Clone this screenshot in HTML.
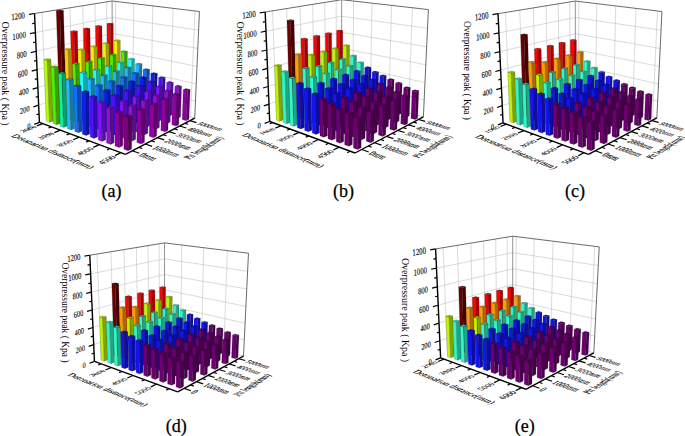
<!DOCTYPE html>
<html><head><meta charset="utf-8"><style>
html,body{margin:0;padding:0;background:#fff;}
svg{display:block;}
.n{font-family:"Liberation Serif",serif;fill:#000;}
.n3{font-family:"Liberation Serif",serif;fill:#000;stroke:#000;stroke-width:0.1px;}
</style></head><body>
<svg width="685" height="436" viewBox="0 0 685 436">
<rect width="685" height="436" fill="#fff"/>
<line x1="38.66" y1="105.16" x2="112.37" y2="80.11" stroke="#b4b4b4" stroke-width="0.5"/>
<line x1="112.37" y1="80.11" x2="195.48" y2="101.2" stroke="#b4b4b4" stroke-width="0.5"/>
<line x1="37.86" y1="87.56" x2="112.32" y2="64.83" stroke="#b4b4b4" stroke-width="0.5"/>
<line x1="112.32" y1="64.83" x2="196.24" y2="83.96" stroke="#b4b4b4" stroke-width="0.5"/>
<line x1="37.05" y1="69.61" x2="112.27" y2="49.28" stroke="#b4b4b4" stroke-width="0.5"/>
<line x1="112.27" y1="49.28" x2="197.01" y2="66.38" stroke="#b4b4b4" stroke-width="0.5"/>
<line x1="36.23" y1="51.29" x2="112.22" y2="33.47" stroke="#b4b4b4" stroke-width="0.5"/>
<line x1="112.22" y1="33.47" x2="197.8" y2="48.45" stroke="#b4b4b4" stroke-width="0.5"/>
<line x1="35.39" y1="32.6" x2="112.17" y2="17.37" stroke="#b4b4b4" stroke-width="0.5"/>
<line x1="112.17" y1="17.37" x2="198.61" y2="30.16" stroke="#b4b4b4" stroke-width="0.5"/>
<line x1="46.42" y1="119.79" x2="42.01" y2="12.31" stroke="#b4b4b4" stroke-width="0.5"/>
<line x1="46.42" y1="119.79" x2="132.23" y2="150.75" stroke="#e0e0e0" stroke-width="0.5"/>
<line x1="59.84" y1="114.78" x2="56.36" y2="9.99" stroke="#b4b4b4" stroke-width="0.5"/>
<line x1="59.84" y1="114.78" x2="145.15" y2="144" stroke="#e0e0e0" stroke-width="0.5"/>
<line x1="72.57" y1="110.02" x2="69.93" y2="7.8" stroke="#b4b4b4" stroke-width="0.5"/>
<line x1="72.57" y1="110.02" x2="157.31" y2="137.65" stroke="#e0e0e0" stroke-width="0.5"/>
<line x1="84.67" y1="105.5" x2="82.78" y2="5.73" stroke="#b4b4b4" stroke-width="0.5"/>
<line x1="84.67" y1="105.5" x2="168.77" y2="131.66" stroke="#e0e0e0" stroke-width="0.5"/>
<line x1="96.17" y1="101.2" x2="94.97" y2="3.76" stroke="#b4b4b4" stroke-width="0.5"/>
<line x1="96.17" y1="101.2" x2="179.59" y2="126.01" stroke="#e0e0e0" stroke-width="0.5"/>
<line x1="107.13" y1="97.11" x2="106.55" y2="1.89" stroke="#b4b4b4" stroke-width="0.5"/>
<line x1="107.13" y1="97.11" x2="189.82" y2="120.67" stroke="#e0e0e0" stroke-width="0.5"/>
<line x1="115.72" y1="96.06" x2="115.6" y2="1.41" stroke="#b4b4b4" stroke-width="0.5"/>
<line x1="42.81" y1="123.66" x2="115.72" y2="96.06" stroke="#e0e0e0" stroke-width="0.5"/>
<line x1="132.81" y1="100.83" x2="133.63" y2="3.58" stroke="#b4b4b4" stroke-width="0.5"/>
<line x1="60.38" y1="130.17" x2="132.81" y2="100.83" stroke="#e0e0e0" stroke-width="0.5"/>
<line x1="150.9" y1="105.87" x2="152.78" y2="5.88" stroke="#b4b4b4" stroke-width="0.5"/>
<line x1="79.16" y1="137.13" x2="150.9" y2="105.87" stroke="#e0e0e0" stroke-width="0.5"/>
<line x1="170.1" y1="111.23" x2="173.17" y2="8.34" stroke="#b4b4b4" stroke-width="0.5"/>
<line x1="99.3" y1="144.59" x2="170.1" y2="111.23" stroke="#e0e0e0" stroke-width="0.5"/>
<line x1="190.5" y1="116.92" x2="194.91" y2="10.96" stroke="#b4b4b4" stroke-width="0.5"/>
<line x1="120.94" y1="152.61" x2="190.5" y2="116.92" stroke="#e0e0e0" stroke-width="0.5"/>
<line x1="112.41" y1="95.13" x2="112.12" y2="0.99" stroke="#888" stroke-width="0.9"/>
<line x1="34.53" y1="13.51" x2="112.12" y2="0.99" stroke="#444" stroke-width="0.8"/>
<line x1="112.12" y1="0.99" x2="199.43" y2="11.5" stroke="#444" stroke-width="0.8"/>
<line x1="194.73" y1="118.11" x2="199.43" y2="11.5" stroke="#444" stroke-width="0.8"/>
<line x1="112.41" y1="95.13" x2="194.73" y2="118.11" stroke="#999" stroke-width="0.5"/>
<polygon points="107.42,98.13 110.65,99.05 110.34,24.1 106.98,23.57" fill="#ff0000" stroke="rgba(0,0,0,0.45)" stroke-width="0.35" stroke-linejoin="round"/>
<polygon points="110.65,99.05 113.46,97.98 113.28,23.48 110.34,24.1" fill="#ab0000" stroke="rgba(0,0,0,0.45)" stroke-width="0.35" stroke-linejoin="round"/>
<polygon points="106.98,23.57 110.34,24.1 113.28,23.48 109.92,22.95" fill="#cc0000" stroke="rgba(0,0,0,0.45)" stroke-width="0.35" stroke-linejoin="round"/>
<polygon points="114.13,100.05 117.43,101 117.42,40.99 114,40.35" fill="#f8f000" stroke="rgba(0,0,0,0.45)" stroke-width="0.35" stroke-linejoin="round"/>
<polygon points="117.43,101 120.24,99.9 120.32,40.25 117.42,40.99" fill="#a6a100" stroke="rgba(0,0,0,0.45)" stroke-width="0.35" stroke-linejoin="round"/>
<polygon points="114,40.35 117.42,40.99 120.32,40.25 116.91,39.62" fill="#c6c000" stroke="rgba(0,0,0,0.45)" stroke-width="0.35" stroke-linejoin="round"/>
<polygon points="120.99,102.02 124.37,102.98 124.56,52.08 121.08,51.37" fill="#50f000" stroke="rgba(0,0,0,0.45)" stroke-width="0.35" stroke-linejoin="round"/>
<polygon points="124.37,102.98 127.16,101.86 127.43,51.26 124.56,52.08" fill="#36a100" stroke="rgba(0,0,0,0.45)" stroke-width="0.35" stroke-linejoin="round"/>
<polygon points="121.08,51.37 124.56,52.08 127.43,51.26 123.96,50.57" fill="#40c000" stroke="rgba(0,0,0,0.45)" stroke-width="0.35" stroke-linejoin="round"/>
<polygon points="96.4,102.27 99.65,103.24 98.85,26.55 95.47,25.98" fill="#ff0000" stroke="rgba(0,0,0,0.45)" stroke-width="0.35" stroke-linejoin="round"/>
<polygon points="99.65,103.24 102.6,102.12 101.94,25.89 98.85,26.55" fill="#ab0000" stroke="rgba(0,0,0,0.45)" stroke-width="0.35" stroke-linejoin="round"/>
<polygon points="95.47,25.98 98.85,26.55 101.94,25.89 98.57,25.33" fill="#cc0000" stroke="rgba(0,0,0,0.45)" stroke-width="0.35" stroke-linejoin="round"/>
<polygon points="128.02,104.03 131.48,105.02 131.83,59.69 128.28,58.94" fill="#20ffff" stroke="rgba(0,0,0,0.45)" stroke-width="0.35" stroke-linejoin="round"/>
<polygon points="131.48,105.02 134.25,103.87 134.67,58.82 131.83,59.69" fill="#15abab" stroke="rgba(0,0,0,0.45)" stroke-width="0.35" stroke-linejoin="round"/>
<polygon points="128.28,58.94 131.83,59.69 134.67,58.82 131.13,58.07" fill="#1acccc" stroke="rgba(0,0,0,0.45)" stroke-width="0.35" stroke-linejoin="round"/>
<polygon points="103.15,104.29 106.47,105.28 106.07,43.87 102.64,43.2" fill="#f8f000" stroke="rgba(0,0,0,0.45)" stroke-width="0.35" stroke-linejoin="round"/>
<polygon points="106.47,105.28 109.42,104.13 109.12,43.1 106.07,43.87" fill="#a6a100" stroke="rgba(0,0,0,0.45)" stroke-width="0.35" stroke-linejoin="round"/>
<polygon points="102.64,43.2 106.07,43.87 109.12,43.1 105.69,42.44" fill="#c6c000" stroke="rgba(0,0,0,0.45)" stroke-width="0.35" stroke-linejoin="round"/>
<polygon points="135.21,106.09 138.75,107.1 139.25,64.69 135.62,63.9" fill="#20b8ff" stroke="rgba(0,0,0,0.45)" stroke-width="0.35" stroke-linejoin="round"/>
<polygon points="138.75,107.1 141.51,105.93 142.08,63.78 139.25,64.69" fill="#157bab" stroke="rgba(0,0,0,0.45)" stroke-width="0.35" stroke-linejoin="round"/>
<polygon points="135.62,63.9 139.25,64.69 142.08,63.78 138.46,63" fill="#1a93cc" stroke="rgba(0,0,0,0.45)" stroke-width="0.35" stroke-linejoin="round"/>
<polygon points="110.05,106.36 113.46,107.37 113.33,55.27 109.82,54.53" fill="#50f000" stroke="rgba(0,0,0,0.45)" stroke-width="0.35" stroke-linejoin="round"/>
<polygon points="113.46,107.37 116.39,106.19 116.35,54.41 113.33,55.27" fill="#36a100" stroke="rgba(0,0,0,0.45)" stroke-width="0.35" stroke-linejoin="round"/>
<polygon points="109.82,54.53 113.33,55.27 116.35,54.41 112.85,53.68" fill="#40c000" stroke="rgba(0,0,0,0.45)" stroke-width="0.35" stroke-linejoin="round"/>
<polygon points="84.83,106.63 88.09,107.65 86.76,29.12 83.36,28.52" fill="#ff0000" stroke="rgba(0,0,0,0.45)" stroke-width="0.35" stroke-linejoin="round"/>
<polygon points="88.09,107.65 91.2,106.46 90.01,28.42 86.76,29.12" fill="#ab0000" stroke="rgba(0,0,0,0.45)" stroke-width="0.35" stroke-linejoin="round"/>
<polygon points="83.36,28.52 86.76,29.12 90.01,28.42 86.62,27.84" fill="#cc0000" stroke="rgba(0,0,0,0.45)" stroke-width="0.35" stroke-linejoin="round"/>
<polygon points="142.57,108.2 146.2,109.24 146.83,70.22 143.12,69.39" fill="#1070ff" stroke="rgba(0,0,0,0.45)" stroke-width="0.35" stroke-linejoin="round"/>
<polygon points="146.2,109.24 148.94,108.03 149.63,69.26 146.83,70.22" fill="#0b4bab" stroke="rgba(0,0,0,0.45)" stroke-width="0.35" stroke-linejoin="round"/>
<polygon points="143.12,69.39 146.83,70.22 149.63,69.26 145.93,68.44" fill="#0d5acc" stroke="rgba(0,0,0,0.45)" stroke-width="0.35" stroke-linejoin="round"/>
<polygon points="117.13,108.47 120.61,109.52 120.68,63.11 117.11,62.32" fill="#20ffff" stroke="rgba(0,0,0,0.45)" stroke-width="0.35" stroke-linejoin="round"/>
<polygon points="120.61,109.52 123.53,108.31 123.68,62.19 120.68,63.11" fill="#15abab" stroke="rgba(0,0,0,0.45)" stroke-width="0.35" stroke-linejoin="round"/>
<polygon points="117.11,62.32 120.68,63.11 123.68,62.19 120.11,61.41" fill="#1acccc" stroke="rgba(0,0,0,0.45)" stroke-width="0.35" stroke-linejoin="round"/>
<polygon points="91.61,108.75 94.95,109.79 94.13,46.91 90.67,46.21" fill="#f8f000" stroke="rgba(0,0,0,0.45)" stroke-width="0.35" stroke-linejoin="round"/>
<polygon points="94.95,109.79 98.05,108.58 97.34,46.09 94.13,46.91" fill="#a6a100" stroke="rgba(0,0,0,0.45)" stroke-width="0.35" stroke-linejoin="round"/>
<polygon points="90.67,46.21 94.13,46.91 97.34,46.09 93.89,45.4" fill="#c6c000" stroke="rgba(0,0,0,0.45)" stroke-width="0.35" stroke-linejoin="round"/>
<polygon points="150.11,110.36 153.83,111.42 154.59,74.34 150.79,73.47" fill="#1020f0" stroke="rgba(0,0,0,0.45)" stroke-width="0.35" stroke-linejoin="round"/>
<polygon points="153.83,111.42 156.55,110.19 157.37,73.34 154.59,74.34" fill="#0b15a1" stroke="rgba(0,0,0,0.45)" stroke-width="0.35" stroke-linejoin="round"/>
<polygon points="150.79,73.47 154.59,74.34 157.37,73.34 153.58,72.48" fill="#0d1ac0" stroke="rgba(0,0,0,0.45)" stroke-width="0.35" stroke-linejoin="round"/>
<polygon points="124.37,110.64 127.94,111.71 128.19,68.29 124.53,67.45" fill="#20b8ff" stroke="rgba(0,0,0,0.45)" stroke-width="0.35" stroke-linejoin="round"/>
<polygon points="127.94,111.71 130.85,110.47 131.17,67.32 128.19,68.29" fill="#157bab" stroke="rgba(0,0,0,0.45)" stroke-width="0.35" stroke-linejoin="round"/>
<polygon points="124.53,67.45 128.19,68.29 131.17,67.32 127.52,66.5" fill="#1a93cc" stroke="rgba(0,0,0,0.45)" stroke-width="0.35" stroke-linejoin="round"/>
<polygon points="72.66,111.2 75.93,112.28 74.01,31.83 70.59,31.2" fill="#ff0000" stroke="rgba(0,0,0,0.45)" stroke-width="0.35" stroke-linejoin="round"/>
<polygon points="75.93,112.28 79.2,111.03 77.44,31.1 74.01,31.83" fill="#ab0000" stroke="rgba(0,0,0,0.45)" stroke-width="0.35" stroke-linejoin="round"/>
<polygon points="70.59,31.2 74.01,31.83 77.44,31.1 74.03,30.48" fill="#cc0000" stroke="rgba(0,0,0,0.45)" stroke-width="0.35" stroke-linejoin="round"/>
<polygon points="98.55,110.92 101.98,111.99 101.49,58.64 97.97,57.86" fill="#50f000" stroke="rgba(0,0,0,0.45)" stroke-width="0.35" stroke-linejoin="round"/>
<polygon points="101.98,111.99 105.06,110.75 104.68,57.73 101.49,58.64" fill="#36a100" stroke="rgba(0,0,0,0.45)" stroke-width="0.35" stroke-linejoin="round"/>
<polygon points="97.97,57.86 101.49,58.64 104.68,57.73 101.16,56.96" fill="#40c000" stroke="rgba(0,0,0,0.45)" stroke-width="0.35" stroke-linejoin="round"/>
<polygon points="157.84,112.57 161.64,113.66 162.52,78.47 158.64,77.57" fill="#4a10ff" stroke="rgba(0,0,0,0.45)" stroke-width="0.35" stroke-linejoin="round"/>
<polygon points="161.64,113.66 164.35,112.4 165.28,77.42 162.52,78.47" fill="#320bab" stroke="rgba(0,0,0,0.45)" stroke-width="0.35" stroke-linejoin="round"/>
<polygon points="158.64,77.57 162.52,78.47 165.28,77.42 161.4,76.54" fill="#3b0dcc" stroke="rgba(0,0,0,0.45)" stroke-width="0.35" stroke-linejoin="round"/>
<polygon points="131.79,112.86 135.45,113.95 135.85,74 132.11,73.12" fill="#1070ff" stroke="rgba(0,0,0,0.45)" stroke-width="0.35" stroke-linejoin="round"/>
<polygon points="135.45,113.95 138.34,112.69 138.81,72.98 135.85,74" fill="#0b4bab" stroke="rgba(0,0,0,0.45)" stroke-width="0.35" stroke-linejoin="round"/>
<polygon points="132.11,73.12 135.85,74 138.81,72.98 135.07,72.12" fill="#0d5acc" stroke="rgba(0,0,0,0.45)" stroke-width="0.35" stroke-linejoin="round"/>
<polygon points="79.47,113.44 82.82,114.54 81.53,50.12 78.06,49.37" fill="#f8f000" stroke="rgba(0,0,0,0.45)" stroke-width="0.35" stroke-linejoin="round"/>
<polygon points="82.82,114.54 86.09,113.26 84.92,49.26 81.53,50.12" fill="#a6a100" stroke="rgba(0,0,0,0.45)" stroke-width="0.35" stroke-linejoin="round"/>
<polygon points="78.06,49.37 81.53,50.12 84.92,49.26 81.46,48.52" fill="#c6c000" stroke="rgba(0,0,0,0.45)" stroke-width="0.35" stroke-linejoin="round"/>
<polygon points="105.67,113.15 109.18,114.25 108.94,66.72 105.34,65.88" fill="#20ffff" stroke="rgba(0,0,0,0.45)" stroke-width="0.35" stroke-linejoin="round"/>
<polygon points="109.18,114.25 112.25,112.97 112.1,65.75 108.94,66.72" fill="#15abab" stroke="rgba(0,0,0,0.45)" stroke-width="0.35" stroke-linejoin="round"/>
<polygon points="105.34,65.88 108.94,66.72 112.1,65.75 108.51,64.93" fill="#1acccc" stroke="rgba(0,0,0,0.45)" stroke-width="0.35" stroke-linejoin="round"/>
<polygon points="165.75,114.84 169.65,115.96 170.62,83.38 166.64,82.44" fill="#8010ff" stroke="rgba(0,0,0,0.45)" stroke-width="0.35" stroke-linejoin="round"/>
<polygon points="169.65,115.96 172.34,114.66 173.35,82.29 170.62,83.38" fill="#560bab" stroke="rgba(0,0,0,0.45)" stroke-width="0.35" stroke-linejoin="round"/>
<polygon points="166.64,82.44 170.62,83.38 173.35,82.29 169.38,81.36" fill="#660dcc" stroke="rgba(0,0,0,0.45)" stroke-width="0.35" stroke-linejoin="round"/>
<polygon points="139.4,115.14 143.15,116.26 143.7,78.27 139.86,77.36" fill="#1020f0" stroke="rgba(0,0,0,0.45)" stroke-width="0.35" stroke-linejoin="round"/>
<polygon points="143.15,116.26 146.02,114.96 146.63,77.21 143.7,78.27" fill="#0b15a1" stroke="rgba(0,0,0,0.45)" stroke-width="0.35" stroke-linejoin="round"/>
<polygon points="139.86,77.36 143.7,78.27 146.63,77.21 142.81,76.31" fill="#0d1ac0" stroke="rgba(0,0,0,0.45)" stroke-width="0.35" stroke-linejoin="round"/>
<polygon points="59.84,116.02 63.13,117.16 59.8,11.09 56.34,10.56" fill="#6a0000" stroke="rgba(0,0,0,0.45)" stroke-width="0.35" stroke-linejoin="round"/>
<polygon points="63.13,117.16 66.57,115.84 63.48,10.48 59.8,11.09" fill="#470000" stroke="rgba(0,0,0,0.45)" stroke-width="0.35" stroke-linejoin="round"/>
<polygon points="56.34,10.56 59.8,11.09 63.48,10.48 60.02,9.97" fill="#550000" stroke="rgba(0,0,0,0.45)" stroke-width="0.35" stroke-linejoin="round"/>
<polygon points="112.96,115.43 116.56,116.56 116.52,72.07 112.84,71.2" fill="#20b8ff" stroke="rgba(0,0,0,0.45)" stroke-width="0.35" stroke-linejoin="round"/>
<polygon points="116.56,116.56 119.62,115.25 119.67,71.05 116.52,72.07" fill="#157bab" stroke="rgba(0,0,0,0.45)" stroke-width="0.35" stroke-linejoin="round"/>
<polygon points="112.84,71.2 116.52,72.07 119.67,71.05 115.99,70.19" fill="#1a93cc" stroke="rgba(0,0,0,0.45)" stroke-width="0.35" stroke-linejoin="round"/>
<polygon points="86.44,115.73 89.88,116.86 89.01,62.19 85.47,61.37" fill="#50f000" stroke="rgba(0,0,0,0.45)" stroke-width="0.35" stroke-linejoin="round"/>
<polygon points="89.88,116.86 93.14,115.55 92.37,61.23 89.01,62.19" fill="#36a100" stroke="rgba(0,0,0,0.45)" stroke-width="0.35" stroke-linejoin="round"/>
<polygon points="85.47,61.37 89.01,62.19 92.37,61.23 88.83,60.42" fill="#40c000" stroke="rgba(0,0,0,0.45)" stroke-width="0.35" stroke-linejoin="round"/>
<polygon points="173.87,117.17 177.87,118.31 178.94,87.18 174.86,86.21" fill="#9010d0" stroke="rgba(0,0,0,0.45)" stroke-width="0.35" stroke-linejoin="round"/>
<polygon points="177.87,118.31 180.53,116.98 181.64,86.05 178.94,87.18" fill="#600b8b" stroke="rgba(0,0,0,0.45)" stroke-width="0.35" stroke-linejoin="round"/>
<polygon points="174.86,86.21 178.94,87.18 181.64,86.05 177.57,85.09" fill="#730da6" stroke="rgba(0,0,0,0.45)" stroke-width="0.35" stroke-linejoin="round"/>
<polygon points="147.19,117.47 151.04,118.62 151.73,82.56 147.8,81.61" fill="#4a10ff" stroke="rgba(0,0,0,0.45)" stroke-width="0.35" stroke-linejoin="round"/>
<polygon points="151.04,118.62 153.89,117.28 154.63,81.46 151.73,82.56" fill="#320bab" stroke="rgba(0,0,0,0.45)" stroke-width="0.35" stroke-linejoin="round"/>
<polygon points="147.8,81.61 151.73,82.56 154.63,81.46 150.72,80.52" fill="#3b0dcc" stroke="rgba(0,0,0,0.45)" stroke-width="0.35" stroke-linejoin="round"/>
<polygon points="182.19,119.55 186.29,120.73 187.48,90.55 183.3,89.54" fill="#9000a0" stroke="rgba(0,0,0,0.45)" stroke-width="0.35" stroke-linejoin="round"/>
<polygon points="186.29,120.73 188.93,119.36 190.15,89.38 187.48,90.55" fill="#60006b" stroke="rgba(0,0,0,0.45)" stroke-width="0.35" stroke-linejoin="round"/>
<polygon points="183.3,89.54 187.48,90.55 190.15,89.38 185.98,88.39" fill="#730080" stroke="rgba(0,0,0,0.45)" stroke-width="0.35" stroke-linejoin="round"/>
<polygon points="66.67,118.38 70.04,119.54 68.13,49.87 64.64,49.1" fill="#ffcc00" stroke="rgba(0,0,0,0.45)" stroke-width="0.35" stroke-linejoin="round"/>
<polygon points="70.04,119.54 73.48,118.19 71.72,48.98 68.13,49.87" fill="#ab8900" stroke="rgba(0,0,0,0.45)" stroke-width="0.35" stroke-linejoin="round"/>
<polygon points="64.64,49.1 68.13,49.87 71.72,48.98 68.23,48.23" fill="#cca300" stroke="rgba(0,0,0,0.45)" stroke-width="0.35" stroke-linejoin="round"/>
<polygon points="120.44,117.77 124.12,118.92 124.27,77.98 120.5,77.06" fill="#1070ff" stroke="rgba(0,0,0,0.45)" stroke-width="0.35" stroke-linejoin="round"/>
<polygon points="124.12,118.92 127.17,117.59 127.39,76.91 124.27,77.98" fill="#0b4bab" stroke="rgba(0,0,0,0.45)" stroke-width="0.35" stroke-linejoin="round"/>
<polygon points="120.5,77.06 124.27,77.98 127.39,76.91 123.63,76" fill="#0d5acc" stroke="rgba(0,0,0,0.45)" stroke-width="0.35" stroke-linejoin="round"/>
<polygon points="93.6,118.07 97.12,119.23 96.55,70.53 92.92,69.65" fill="#20ffff" stroke="rgba(0,0,0,0.45)" stroke-width="0.35" stroke-linejoin="round"/>
<polygon points="97.12,119.23 100.37,117.89 99.88,69.5 96.55,70.53" fill="#15abab" stroke="rgba(0,0,0,0.45)" stroke-width="0.35" stroke-linejoin="round"/>
<polygon points="92.92,69.65 96.55,70.53 99.88,69.5 96.27,68.63" fill="#1acccc" stroke="rgba(0,0,0,0.45)" stroke-width="0.35" stroke-linejoin="round"/>
<polygon points="155.19,119.86 159.13,121.04 159.93,87.65 155.9,86.66" fill="#8010ff" stroke="rgba(0,0,0,0.45)" stroke-width="0.35" stroke-linejoin="round"/>
<polygon points="159.13,121.04 161.97,119.67 162.81,86.5 159.93,87.65" fill="#560bab" stroke="rgba(0,0,0,0.45)" stroke-width="0.35" stroke-linejoin="round"/>
<polygon points="155.9,86.66 159.93,87.65 162.81,86.5 158.79,85.52" fill="#660dcc" stroke="rgba(0,0,0,0.45)" stroke-width="0.35" stroke-linejoin="round"/>
<polygon points="46.33,121.11 49.62,122.3 47.19,60.24 43.8,59.41" fill="#b4ff00" stroke="rgba(0,0,0,0.45)" stroke-width="0.35" stroke-linejoin="round"/>
<polygon points="49.62,122.3 53.26,120.92 50.97,59.27 47.19,60.24" fill="#79ab00" stroke="rgba(0,0,0,0.45)" stroke-width="0.35" stroke-linejoin="round"/>
<polygon points="43.8,59.41 47.19,60.24 50.97,59.27 47.58,58.44" fill="#90cc00" stroke="rgba(0,0,0,0.45)" stroke-width="0.35" stroke-linejoin="round"/>
<polygon points="128.11,120.17 131.89,121.35 132.2,82.42 128.33,81.46" fill="#1020f0" stroke="rgba(0,0,0,0.45)" stroke-width="0.35" stroke-linejoin="round"/>
<polygon points="131.89,121.35 134.92,119.98 135.3,81.31 132.2,82.42" fill="#0b15a1" stroke="rgba(0,0,0,0.45)" stroke-width="0.35" stroke-linejoin="round"/>
<polygon points="128.33,81.46 132.2,82.42 135.3,81.31 131.44,80.36" fill="#0d1ac0" stroke="rgba(0,0,0,0.45)" stroke-width="0.35" stroke-linejoin="round"/>
<polygon points="73.68,120.79 77.13,121.98 75.78,64.3 72.22,63.44" fill="#50f000" stroke="rgba(0,0,0,0.45)" stroke-width="0.35" stroke-linejoin="round"/>
<polygon points="77.13,121.98 80.56,120.6 79.34,63.31 75.78,64.3" fill="#36a100" stroke="rgba(0,0,0,0.45)" stroke-width="0.35" stroke-linejoin="round"/>
<polygon points="72.22,63.44 75.78,64.3 79.34,63.31 75.78,62.46" fill="#40c000" stroke="rgba(0,0,0,0.45)" stroke-width="0.35" stroke-linejoin="round"/>
<polygon points="100.93,120.48 104.55,121.67 104.2,76.07 100.49,75.15" fill="#20b8ff" stroke="rgba(0,0,0,0.45)" stroke-width="0.35" stroke-linejoin="round"/>
<polygon points="104.55,121.67 107.78,120.29 107.52,75 104.2,76.07" fill="#157bab" stroke="rgba(0,0,0,0.45)" stroke-width="0.35" stroke-linejoin="round"/>
<polygon points="100.49,75.15 104.2,76.07 107.52,75 103.82,74.08" fill="#1a93cc" stroke="rgba(0,0,0,0.45)" stroke-width="0.35" stroke-linejoin="round"/>
<polygon points="163.39,122.31 167.44,123.52 168.35,91.61 164.22,90.58" fill="#9010d0" stroke="rgba(0,0,0,0.45)" stroke-width="0.35" stroke-linejoin="round"/>
<polygon points="167.44,123.52 170.25,122.12 171.2,90.42 168.35,91.61" fill="#600b8b" stroke="rgba(0,0,0,0.45)" stroke-width="0.35" stroke-linejoin="round"/>
<polygon points="164.22,90.58 168.35,91.61 171.2,90.42 167.09,89.4" fill="#730da6" stroke="rgba(0,0,0,0.45)" stroke-width="0.35" stroke-linejoin="round"/>
<polygon points="53.17,123.59 56.55,124.82 54.53,67.74 51.06,66.85" fill="#50f000" stroke="rgba(0,0,0,0.45)" stroke-width="0.35" stroke-linejoin="round"/>
<polygon points="56.55,124.82 60.18,123.4 58.3,66.7 54.53,67.74" fill="#36a100" stroke="rgba(0,0,0,0.45)" stroke-width="0.35" stroke-linejoin="round"/>
<polygon points="51.06,66.85 54.53,67.74 58.3,66.7 54.83,65.82" fill="#40c000" stroke="rgba(0,0,0,0.45)" stroke-width="0.35" stroke-linejoin="round"/>
<polygon points="135.97,122.63 139.85,123.85 140.32,86.88 136.35,85.88" fill="#4a10ff" stroke="rgba(0,0,0,0.45)" stroke-width="0.35" stroke-linejoin="round"/>
<polygon points="139.85,123.85 142.86,122.44 143.39,85.72 140.32,86.88" fill="#320bab" stroke="rgba(0,0,0,0.45)" stroke-width="0.35" stroke-linejoin="round"/>
<polygon points="136.35,85.88 140.32,86.88 143.39,85.72 139.44,84.73" fill="#3b0dcc" stroke="rgba(0,0,0,0.45)" stroke-width="0.35" stroke-linejoin="round"/>
<polygon points="80.86,123.27 84.41,124.49 83.42,73.37 79.78,72.44" fill="#20ffff" stroke="rgba(0,0,0,0.45)" stroke-width="0.35" stroke-linejoin="round"/>
<polygon points="84.41,124.49 87.83,123.08 86.95,72.29 83.42,73.37" fill="#15abab" stroke="rgba(0,0,0,0.45)" stroke-width="0.35" stroke-linejoin="round"/>
<polygon points="79.78,72.44 83.42,73.37 86.95,72.29 83.32,71.38" fill="#1acccc" stroke="rgba(0,0,0,0.45)" stroke-width="0.35" stroke-linejoin="round"/>
<polygon points="108.46,122.95 112.17,124.17 112.04,82.2 108.23,81.22" fill="#1070ff" stroke="rgba(0,0,0,0.45)" stroke-width="0.35" stroke-linejoin="round"/>
<polygon points="112.17,124.17 115.39,122.76 115.33,81.06 112.04,82.2" fill="#0b4bab" stroke="rgba(0,0,0,0.45)" stroke-width="0.35" stroke-linejoin="round"/>
<polygon points="108.23,81.22 112.04,82.2 115.33,81.06 111.54,80.1" fill="#0d5acc" stroke="rgba(0,0,0,0.45)" stroke-width="0.35" stroke-linejoin="round"/>
<polygon points="171.81,124.83 175.96,126.07 177,95.13 172.76,94.07" fill="#9000a0" stroke="rgba(0,0,0,0.45)" stroke-width="0.35" stroke-linejoin="round"/>
<polygon points="175.96,126.07 178.74,124.63 179.82,93.9 177,95.13" fill="#60006b" stroke="rgba(0,0,0,0.45)" stroke-width="0.35" stroke-linejoin="round"/>
<polygon points="172.76,94.07 177,95.13 179.82,93.9 175.6,92.85" fill="#730080" stroke="rgba(0,0,0,0.45)" stroke-width="0.35" stroke-linejoin="round"/>
<polygon points="144.04,125.16 148.02,126.4 148.62,92.17 144.55,91.12" fill="#8010ff" stroke="rgba(0,0,0,0.45)" stroke-width="0.35" stroke-linejoin="round"/>
<polygon points="148.02,126.4 151.02,124.96 151.67,90.95 148.62,92.17" fill="#560bab" stroke="rgba(0,0,0,0.45)" stroke-width="0.35" stroke-linejoin="round"/>
<polygon points="144.55,91.12 148.62,92.17 151.67,90.95 147.61,89.92" fill="#660dcc" stroke="rgba(0,0,0,0.45)" stroke-width="0.35" stroke-linejoin="round"/>
<polygon points="60.19,126.14 63.66,127.4 61.99,74 58.43,73.06" fill="#10f0a0" stroke="rgba(0,0,0,0.45)" stroke-width="0.35" stroke-linejoin="round"/>
<polygon points="63.66,127.4 67.29,125.94 65.74,72.9 61.99,74" fill="#0ba16b" stroke="rgba(0,0,0,0.45)" stroke-width="0.35" stroke-linejoin="round"/>
<polygon points="58.43,73.06 61.99,74 65.74,72.9 62.19,71.97" fill="#0dc080" stroke="rgba(0,0,0,0.45)" stroke-width="0.35" stroke-linejoin="round"/>
<polygon points="116.18,125.48 119.99,126.74 120.04,86.81 116.15,85.79" fill="#1020f0" stroke="rgba(0,0,0,0.45)" stroke-width="0.35" stroke-linejoin="round"/>
<polygon points="119.99,126.74 123.2,125.29 123.32,85.63 120.04,86.81" fill="#0b15a1" stroke="rgba(0,0,0,0.45)" stroke-width="0.35" stroke-linejoin="round"/>
<polygon points="116.15,85.79 120.04,86.81 123.32,85.63 119.43,84.63" fill="#0d1ac0" stroke="rgba(0,0,0,0.45)" stroke-width="0.35" stroke-linejoin="round"/>
<polygon points="88.23,125.81 91.87,127.07 91.16,79.57 87.43,78.59" fill="#20b8ff" stroke="rgba(0,0,0,0.45)" stroke-width="0.35" stroke-linejoin="round"/>
<polygon points="91.87,127.07 95.29,125.61 94.68,78.43 91.16,79.57" fill="#157bab" stroke="rgba(0,0,0,0.45)" stroke-width="0.35" stroke-linejoin="round"/>
<polygon points="87.43,78.59 91.16,79.57 94.68,78.43 90.95,77.47" fill="#1a93cc" stroke="rgba(0,0,0,0.45)" stroke-width="0.35" stroke-linejoin="round"/>
<polygon points="152.33,127.75 156.42,129.03 157.14,96.3 152.97,95.21" fill="#9010d0" stroke="rgba(0,0,0,0.45)" stroke-width="0.35" stroke-linejoin="round"/>
<polygon points="156.42,129.03 159.39,127.55 160.16,95.04 157.14,96.3" fill="#600b8b" stroke="rgba(0,0,0,0.45)" stroke-width="0.35" stroke-linejoin="round"/>
<polygon points="152.97,95.21 157.14,96.3 160.16,95.04 156,93.96" fill="#730da6" stroke="rgba(0,0,0,0.45)" stroke-width="0.35" stroke-linejoin="round"/>
<polygon points="67.4,128.76 70.96,130.06 69.61,80.31 65.96,79.31" fill="#20b8ff" stroke="rgba(0,0,0,0.45)" stroke-width="0.35" stroke-linejoin="round"/>
<polygon points="70.96,130.06 74.58,128.56 73.35,79.15 69.61,80.31" fill="#157bab" stroke="rgba(0,0,0,0.45)" stroke-width="0.35" stroke-linejoin="round"/>
<polygon points="65.96,79.31 69.61,80.31 73.35,79.15 69.7,78.17" fill="#1a93cc" stroke="rgba(0,0,0,0.45)" stroke-width="0.35" stroke-linejoin="round"/>
<polygon points="124.11,128.09 128.03,129.37 128.25,91.45 124.25,90.39" fill="#4a10ff" stroke="rgba(0,0,0,0.45)" stroke-width="0.35" stroke-linejoin="round"/>
<polygon points="128.03,129.37 131.21,127.88 131.5,90.22 128.25,91.45" fill="#320bab" stroke="rgba(0,0,0,0.45)" stroke-width="0.35" stroke-linejoin="round"/>
<polygon points="124.25,90.39 128.25,91.45 131.5,90.22 127.51,89.17" fill="#3b0dcc" stroke="rgba(0,0,0,0.45)" stroke-width="0.35" stroke-linejoin="round"/>
<polygon points="95.8,128.42 99.54,129.71 99.08,86.28 95.26,85.25" fill="#1070ff" stroke="rgba(0,0,0,0.45)" stroke-width="0.35" stroke-linejoin="round"/>
<polygon points="99.54,129.71 102.95,128.22 102.57,85.08 99.08,86.28" fill="#0b4bab" stroke="rgba(0,0,0,0.45)" stroke-width="0.35" stroke-linejoin="round"/>
<polygon points="95.26,85.25 99.08,86.28 102.57,85.08 98.75,84.07" fill="#0d5acc" stroke="rgba(0,0,0,0.45)" stroke-width="0.35" stroke-linejoin="round"/>
<polygon points="160.83,130.41 165.03,131.73 165.9,99.99 161.62,98.86" fill="#9000a0" stroke="rgba(0,0,0,0.45)" stroke-width="0.35" stroke-linejoin="round"/>
<polygon points="165.03,131.73 167.98,130.2 168.89,98.68 165.9,99.99" fill="#60006b" stroke="rgba(0,0,0,0.45)" stroke-width="0.35" stroke-linejoin="round"/>
<polygon points="161.62,98.86 165.9,99.99 168.89,98.68 164.62,97.57" fill="#730080" stroke="rgba(0,0,0,0.45)" stroke-width="0.35" stroke-linejoin="round"/>
<polygon points="132.25,130.76 136.27,132.08 136.65,96.95 132.54,95.84" fill="#8010ff" stroke="rgba(0,0,0,0.45)" stroke-width="0.35" stroke-linejoin="round"/>
<polygon points="136.27,132.08 139.44,130.55 139.88,95.66 136.65,96.95" fill="#560bab" stroke="rgba(0,0,0,0.45)" stroke-width="0.35" stroke-linejoin="round"/>
<polygon points="132.54,95.84 136.65,96.95 139.88,95.66 135.78,94.57" fill="#660dcc" stroke="rgba(0,0,0,0.45)" stroke-width="0.35" stroke-linejoin="round"/>
<polygon points="74.81,131.45 78.46,132.78 77.42,86.86 73.67,85.81" fill="#1070ff" stroke="rgba(0,0,0,0.45)" stroke-width="0.35" stroke-linejoin="round"/>
<polygon points="78.46,132.78 82.08,131.24 81.13,85.64 77.42,86.86" fill="#0b4bab" stroke="rgba(0,0,0,0.45)" stroke-width="0.35" stroke-linejoin="round"/>
<polygon points="73.67,85.81 77.42,86.86 81.13,85.64 77.39,84.6" fill="#0d5acc" stroke="rgba(0,0,0,0.45)" stroke-width="0.35" stroke-linejoin="round"/>
<polygon points="103.58,131.1 107.42,132.43 107.17,91.28 103.24,90.2" fill="#1020f0" stroke="rgba(0,0,0,0.45)" stroke-width="0.35" stroke-linejoin="round"/>
<polygon points="107.42,132.43 110.81,130.89 110.64,90.02 107.17,91.28" fill="#0b15a1" stroke="rgba(0,0,0,0.45)" stroke-width="0.35" stroke-linejoin="round"/>
<polygon points="103.24,90.2 107.17,91.28 110.64,90.02 106.72,88.96" fill="#0d1ac0" stroke="rgba(0,0,0,0.45)" stroke-width="0.35" stroke-linejoin="round"/>
<polygon points="140.62,133.5 144.75,134.86 145.27,101.27 141.06,100.11" fill="#9010d0" stroke="rgba(0,0,0,0.45)" stroke-width="0.35" stroke-linejoin="round"/>
<polygon points="144.75,134.86 147.89,133.29 148.47,99.93 145.27,101.27" fill="#600b8b" stroke="rgba(0,0,0,0.45)" stroke-width="0.35" stroke-linejoin="round"/>
<polygon points="141.06,100.11 145.27,101.27 148.47,99.93 144.27,98.79" fill="#730da6" stroke="rgba(0,0,0,0.45)" stroke-width="0.35" stroke-linejoin="round"/>
<polygon points="111.56,133.86 115.51,135.22 115.46,96.3 111.42,95.17" fill="#4a10ff" stroke="rgba(0,0,0,0.45)" stroke-width="0.35" stroke-linejoin="round"/>
<polygon points="115.51,135.22 118.88,133.64 118.91,94.99 115.46,96.3" fill="#320bab" stroke="rgba(0,0,0,0.45)" stroke-width="0.35" stroke-linejoin="round"/>
<polygon points="111.42,95.17 115.46,96.3 118.91,94.99 114.88,93.88" fill="#3b0dcc" stroke="rgba(0,0,0,0.45)" stroke-width="0.35" stroke-linejoin="round"/>
<polygon points="82.41,134.22 86.17,135.58 85.38,92.81 81.54,91.7" fill="#1020f0" stroke="rgba(0,0,0,0.45)" stroke-width="0.35" stroke-linejoin="round"/>
<polygon points="86.17,135.58 89.78,134 89.08,91.52 85.38,92.81" fill="#0b15a1" stroke="rgba(0,0,0,0.45)" stroke-width="0.35" stroke-linejoin="round"/>
<polygon points="81.54,91.7 85.38,92.81 89.08,91.52 85.25,90.43" fill="#0d1ac0" stroke="rgba(0,0,0,0.45)" stroke-width="0.35" stroke-linejoin="round"/>
<polygon points="149.21,136.32 153.46,137.72 154.13,105.13 149.8,103.93" fill="#9000a0" stroke="rgba(0,0,0,0.45)" stroke-width="0.35" stroke-linejoin="round"/>
<polygon points="153.46,137.72 156.58,136.1 157.31,103.74 154.13,105.13" fill="#60006b" stroke="rgba(0,0,0,0.45)" stroke-width="0.35" stroke-linejoin="round"/>
<polygon points="149.8,103.93 154.13,105.13 157.31,103.74 152.99,102.56" fill="#730080" stroke="rgba(0,0,0,0.45)" stroke-width="0.35" stroke-linejoin="round"/>
<polygon points="119.77,136.69 123.83,138.09 123.95,101.83 119.81,100.65" fill="#8010ff" stroke="rgba(0,0,0,0.45)" stroke-width="0.35" stroke-linejoin="round"/>
<polygon points="123.83,138.09 127.18,136.47 127.38,100.47 123.95,101.83" fill="#560bab" stroke="rgba(0,0,0,0.45)" stroke-width="0.35" stroke-linejoin="round"/>
<polygon points="119.81,100.65 123.95,101.83 127.38,100.47 123.25,99.3" fill="#660dcc" stroke="rgba(0,0,0,0.45)" stroke-width="0.35" stroke-linejoin="round"/>
<polygon points="90.23,137.06 94.09,138.46 93.53,97.65 89.58,96.49" fill="#4a10ff" stroke="rgba(0,0,0,0.45)" stroke-width="0.35" stroke-linejoin="round"/>
<polygon points="94.09,138.46 97.69,136.83 97.21,96.31 93.53,97.65" fill="#320bab" stroke="rgba(0,0,0,0.45)" stroke-width="0.35" stroke-linejoin="round"/>
<polygon points="89.58,96.49 93.53,97.65 97.21,96.31 93.27,95.17" fill="#3b0dcc" stroke="rgba(0,0,0,0.45)" stroke-width="0.35" stroke-linejoin="round"/>
<polygon points="128.21,139.6 132.38,141.04 132.67,106.54 128.42,105.31" fill="#9010d0" stroke="rgba(0,0,0,0.45)" stroke-width="0.35" stroke-linejoin="round"/>
<polygon points="132.38,141.04 135.72,139.37 136.07,105.12 132.67,106.54" fill="#600b8b" stroke="rgba(0,0,0,0.45)" stroke-width="0.35" stroke-linejoin="round"/>
<polygon points="128.42,105.31 132.67,106.54 136.07,105.12 131.83,103.91" fill="#730da6" stroke="rgba(0,0,0,0.45)" stroke-width="0.35" stroke-linejoin="round"/>
<polygon points="98.27,139.98 102.24,141.42 101.89,103.29 97.84,102.08" fill="#8010ff" stroke="rgba(0,0,0,0.45)" stroke-width="0.35" stroke-linejoin="round"/>
<polygon points="102.24,141.42 105.82,139.75 105.56,101.89 101.89,103.29" fill="#560bab" stroke="rgba(0,0,0,0.45)" stroke-width="0.35" stroke-linejoin="round"/>
<polygon points="97.84,102.08 101.89,103.29 105.56,101.89 101.51,100.7" fill="#660dcc" stroke="rgba(0,0,0,0.45)" stroke-width="0.35" stroke-linejoin="round"/>
<polygon points="136.89,142.59 141.18,144.07 141.64,110.6 137.26,109.32" fill="#9000a0" stroke="rgba(0,0,0,0.45)" stroke-width="0.35" stroke-linejoin="round"/>
<polygon points="141.18,144.07 144.49,142.36 145.01,109.12 141.64,110.6" fill="#60006b" stroke="rgba(0,0,0,0.45)" stroke-width="0.35" stroke-linejoin="round"/>
<polygon points="137.26,109.32 141.64,110.6 145.01,109.12 140.64,107.87" fill="#730080" stroke="rgba(0,0,0,0.45)" stroke-width="0.35" stroke-linejoin="round"/>
<polygon points="106.53,142.98 110.62,144.46 110.47,108.29 106.3,107.03" fill="#9010d0" stroke="rgba(0,0,0,0.45)" stroke-width="0.35" stroke-linejoin="round"/>
<polygon points="110.62,144.46 114.19,142.74 114.11,106.83 110.47,108.29" fill="#600b8b" stroke="rgba(0,0,0,0.45)" stroke-width="0.35" stroke-linejoin="round"/>
<polygon points="106.3,107.03 110.47,108.29 114.11,106.83 109.95,105.59" fill="#730da6" stroke="rgba(0,0,0,0.45)" stroke-width="0.35" stroke-linejoin="round"/>
<polygon points="115.04,146.07 119.25,147.6 119.28,113.14 114.98,111.83" fill="#9000a0" stroke="rgba(0,0,0,0.45)" stroke-width="0.35" stroke-linejoin="round"/>
<polygon points="119.25,147.6 122.79,145.83 122.89,111.62 119.28,113.14" fill="#60006b" stroke="rgba(0,0,0,0.45)" stroke-width="0.35" stroke-linejoin="round"/>
<polygon points="114.98,111.83 119.28,113.14 122.89,111.62 118.61,110.33" fill="#730080" stroke="rgba(0,0,0,0.45)" stroke-width="0.35" stroke-linejoin="round"/>
<polygon points="123.8,149.25 128.13,150.82 128.33,117.41 123.91,116.05" fill="#800080" stroke="rgba(0,0,0,0.45)" stroke-width="0.35" stroke-linejoin="round"/>
<polygon points="128.13,150.82 131.65,149 131.92,115.84 128.33,117.41" fill="#560056" stroke="rgba(0,0,0,0.45)" stroke-width="0.35" stroke-linejoin="round"/>
<polygon points="123.91,116.05 128.33,117.41 131.92,115.84 127.52,114.5" fill="#660066" stroke="rgba(0,0,0,0.45)" stroke-width="0.35" stroke-linejoin="round"/>
<line x1="39.43" y1="122.4" x2="34.53" y2="13.51" stroke="#000" stroke-width="1.4"/>
<line x1="39.43" y1="122.4" x2="125.46" y2="154.29" stroke="#000" stroke-width="1.4"/>
<line x1="125.46" y1="154.29" x2="194.73" y2="118.11" stroke="#000" stroke-width="1.4"/>
<line x1="39.43" y1="122.4" x2="34.28" y2="124.33" stroke="#000" stroke-width="1.2"/>
<line x1="39.05" y1="113.82" x2="36.47" y2="114.74" stroke="#000" stroke-width="1.2"/>
<line x1="38.66" y1="105.16" x2="33.45" y2="106.93" stroke="#000" stroke-width="1.2"/>
<line x1="38.26" y1="96.4" x2="35.66" y2="97.24" stroke="#000" stroke-width="1.2"/>
<line x1="37.86" y1="87.56" x2="32.59" y2="89.17" stroke="#000" stroke-width="1.2"/>
<line x1="37.46" y1="78.63" x2="34.82" y2="79.39" stroke="#000" stroke-width="1.2"/>
<line x1="37.05" y1="69.61" x2="31.72" y2="71.05" stroke="#000" stroke-width="1.2"/>
<line x1="36.64" y1="60.5" x2="33.98" y2="61.17" stroke="#000" stroke-width="1.2"/>
<line x1="36.23" y1="51.29" x2="30.83" y2="52.56" stroke="#000" stroke-width="1.2"/>
<line x1="35.81" y1="42" x2="33.11" y2="42.58" stroke="#000" stroke-width="1.2"/>
<line x1="35.39" y1="32.6" x2="29.92" y2="33.68" stroke="#000" stroke-width="1.2"/>
<line x1="34.96" y1="23.11" x2="32.23" y2="23.6" stroke="#000" stroke-width="1.2"/>
<line x1="34.53" y1="13.51" x2="29" y2="14.41" stroke="#000" stroke-width="1.2"/>
<line x1="42.81" y1="123.66" x2="36.79" y2="125.93" stroke="#000" stroke-width="1.2"/>
<line x1="51.45" y1="126.86" x2="48.46" y2="128.03" stroke="#000" stroke-width="1.2"/>
<line x1="60.38" y1="130.17" x2="54.37" y2="132.6" stroke="#000" stroke-width="1.2"/>
<line x1="69.61" y1="133.59" x2="66.63" y2="134.84" stroke="#000" stroke-width="1.2"/>
<line x1="79.16" y1="137.13" x2="73.18" y2="139.73" stroke="#000" stroke-width="1.2"/>
<line x1="89.05" y1="140.79" x2="86.09" y2="142.13" stroke="#000" stroke-width="1.2"/>
<line x1="99.3" y1="144.59" x2="93.36" y2="147.39" stroke="#000" stroke-width="1.2"/>
<line x1="109.92" y1="148.53" x2="106.98" y2="149.97" stroke="#000" stroke-width="1.2"/>
<line x1="120.94" y1="152.61" x2="115.06" y2="155.62" stroke="#000" stroke-width="1.2"/>
<line x1="132.23" y1="150.75" x2="139.29" y2="153.3" stroke="#000" stroke-width="1.2"/>
<line x1="138.79" y1="147.32" x2="142.29" y2="148.55" stroke="#000" stroke-width="1.2"/>
<line x1="145.15" y1="144" x2="152.14" y2="146.4" stroke="#000" stroke-width="1.2"/>
<line x1="151.32" y1="140.78" x2="154.78" y2="141.93" stroke="#000" stroke-width="1.2"/>
<line x1="157.31" y1="137.65" x2="164.22" y2="139.9" stroke="#000" stroke-width="1.2"/>
<line x1="163.12" y1="134.61" x2="166.54" y2="135.7" stroke="#000" stroke-width="1.2"/>
<line x1="168.77" y1="131.66" x2="175.6" y2="133.79" stroke="#000" stroke-width="1.2"/>
<line x1="174.26" y1="128.8" x2="177.64" y2="129.83" stroke="#000" stroke-width="1.2"/>
<line x1="179.59" y1="126.01" x2="186.34" y2="128.02" stroke="#000" stroke-width="1.2"/>
<line x1="184.78" y1="123.31" x2="188.11" y2="124.28" stroke="#000" stroke-width="1.2"/>
<line x1="189.82" y1="120.67" x2="196.49" y2="122.57" stroke="#000" stroke-width="1.2"/>
<text transform="matrix(0.906 -0.3385 0.0582 1.155 30.44 125.76)" font-size="7" text-anchor="end" class="n3" dy="2.3">0</text>
<text transform="matrix(0.9167 -0.3115 0.0593 1.1785 29.56 108.25)" font-size="7" text-anchor="end" class="n3" dy="2.3">200</text>
<text transform="matrix(0.9276 -0.2832 0.0605 1.2026 28.66 90.37)" font-size="7" text-anchor="end" class="n3" dy="2.3">400</text>
<text transform="matrix(0.9388 -0.2537 0.0618 1.2275 27.74 72.13)" font-size="7" text-anchor="end" class="n3" dy="2.3">600</text>
<text transform="matrix(0.9502 -0.2229 0.0631 1.2532 26.8 53.51)" font-size="7" text-anchor="end" class="n3" dy="2.3">800</text>
<text transform="matrix(0.962 -0.1908 0.0644 1.2797 25.85 34.49)" font-size="7" text-anchor="end" class="n3" dy="2.3">1000</text>
<text transform="matrix(0.974 -0.1572 0.0658 1.307 24.87 15.07)" font-size="7" text-anchor="end" class="n3" dy="2.3">1200</text>
<text transform="matrix(1.0148 -0.3842 0.8448 0.331 28.4 129.11)" font-size="7" text-anchor="middle" class="n3" dy="2.3">2000</text>
<text transform="matrix(1.0149 -0.4111 0.9042 0.3543 45.98 136)" font-size="7" text-anchor="middle" class="n3" dy="2.3">3000</text>
<text transform="matrix(1.0124 -0.441 0.97 0.3801 64.81 143.38)" font-size="7" text-anchor="middle" class="n3" dy="2.3">3500</text>
<text transform="matrix(1.0067 -0.4743 1.0433 0.4088 85.04 151.31)" font-size="7" text-anchor="middle" class="n3" dy="2.3">4000</text>
<text transform="matrix(0.9971 -0.5116 1.1252 0.4409 106.83 159.85)" font-size="7" text-anchor="middle" class="n3" dy="2.3">4500</text>
<text transform="matrix(0.9968 0.3596 -1.3104 0.7098 141.34 154.04)" font-size="7" text-anchor="start" class="n3" dy="2.3">0mm</text>
<text transform="matrix(0.9859 0.3377 -1.2306 0.6666 154.17 147.09)" font-size="7" text-anchor="start" class="n3" dy="2.3">1000mm</text>
<text transform="matrix(0.9745 0.3177 -1.1579 0.6272 166.23 140.56)" font-size="7" text-anchor="start" class="n3" dy="2.3">2000mm</text>
<text transform="matrix(0.9628 0.2995 -1.0914 0.5912 177.58 134.41)" font-size="7" text-anchor="start" class="n3" dy="2.3">3000mm</text>
<text transform="matrix(0.9507 0.2828 -1.0305 0.5582 188.3 128.6)" font-size="7" text-anchor="start" class="n3" dy="2.3">4000mm</text>
<text transform="matrix(0.9386 0.2674 -0.9746 0.5279 198.42 123.12)" font-size="7" text-anchor="start" class="n3" dy="2.3">5000mm</text>
<text transform="matrix(1.1121 0.4624 -1.1905 0.5256 52.94 151.5)" font-size="7" text-anchor="middle" class="n3" dy="2.3">Detonation distance(mm)</text>
<text transform="matrix(0.8175 -0.5064 1.3738 0.4381 203.43 147.82)" font-size="7" text-anchor="middle" class="n3" dy="2.3">Pit length(mm)</text>
<text transform="translate(5.5 73.5) rotate(90)" font-size="9.9" text-anchor="middle" class="n" dy="3.3">Overpressure peak ( Kpa )</text>
<text x="111.45" y="196.6" font-size="18" text-anchor="middle" class="n" stroke="#000" stroke-width="0.25">(a)</text>
<line x1="268.97" y1="104.14" x2="341.64" y2="79.21" stroke="#b4b4b4" stroke-width="0.5"/>
<line x1="341.64" y1="79.21" x2="424.17" y2="99.91" stroke="#b4b4b4" stroke-width="0.5"/>
<line x1="268.24" y1="86.45" x2="341.64" y2="63.85" stroke="#b4b4b4" stroke-width="0.5"/>
<line x1="341.64" y1="63.85" x2="424.98" y2="82.55" stroke="#b4b4b4" stroke-width="0.5"/>
<line x1="267.5" y1="68.41" x2="341.64" y2="48.23" stroke="#b4b4b4" stroke-width="0.5"/>
<line x1="341.64" y1="48.23" x2="425.81" y2="64.84" stroke="#b4b4b4" stroke-width="0.5"/>
<line x1="266.74" y1="50" x2="341.64" y2="32.33" stroke="#b4b4b4" stroke-width="0.5"/>
<line x1="341.64" y1="32.33" x2="426.65" y2="46.79" stroke="#b4b4b4" stroke-width="0.5"/>
<line x1="265.97" y1="31.21" x2="341.64" y2="16.16" stroke="#b4b4b4" stroke-width="0.5"/>
<line x1="341.64" y1="16.16" x2="427.5" y2="28.37" stroke="#b4b4b4" stroke-width="0.5"/>
<line x1="276.57" y1="118.87" x2="272.56" y2="10.84" stroke="#b4b4b4" stroke-width="0.5"/>
<line x1="276.57" y1="118.87" x2="361.73" y2="149.47" stroke="#e0e0e0" stroke-width="0.5"/>
<line x1="289.8" y1="113.88" x2="286.69" y2="8.56" stroke="#b4b4b4" stroke-width="0.5"/>
<line x1="289.8" y1="113.88" x2="374.48" y2="142.74" stroke="#e0e0e0" stroke-width="0.5"/>
<line x1="302.35" y1="109.14" x2="300.06" y2="6.4" stroke="#b4b4b4" stroke-width="0.5"/>
<line x1="302.35" y1="109.14" x2="386.47" y2="136.41" stroke="#e0e0e0" stroke-width="0.5"/>
<line x1="314.28" y1="104.64" x2="312.72" y2="4.36" stroke="#b4b4b4" stroke-width="0.5"/>
<line x1="314.28" y1="104.64" x2="397.78" y2="130.44" stroke="#e0e0e0" stroke-width="0.5"/>
<line x1="325.62" y1="100.35" x2="324.74" y2="2.42" stroke="#b4b4b4" stroke-width="0.5"/>
<line x1="325.62" y1="100.35" x2="408.45" y2="124.81" stroke="#e0e0e0" stroke-width="0.5"/>
<line x1="336.43" y1="96.28" x2="336.14" y2="0.58" stroke="#b4b4b4" stroke-width="0.5"/>
<line x1="336.43" y1="96.28" x2="418.54" y2="119.49" stroke="#e0e0e0" stroke-width="0.5"/>
<line x1="352.93" y1="97.43" x2="353.54" y2="1.05" stroke="#b4b4b4" stroke-width="0.5"/>
<line x1="281.23" y1="125.74" x2="352.93" y2="97.43" stroke="#e0e0e0" stroke-width="0.5"/>
<line x1="370.35" y1="102.25" x2="371.96" y2="3.15" stroke="#b4b4b4" stroke-width="0.5"/>
<line x1="299.21" y1="132.38" x2="370.35" y2="102.25" stroke="#e0e0e0" stroke-width="0.5"/>
<line x1="388.83" y1="107.37" x2="391.56" y2="5.38" stroke="#b4b4b4" stroke-width="0.5"/>
<line x1="318.48" y1="139.49" x2="388.83" y2="107.37" stroke="#e0e0e0" stroke-width="0.5"/>
<line x1="408.46" y1="112.8" x2="412.45" y2="7.76" stroke="#b4b4b4" stroke-width="0.5"/>
<line x1="339.17" y1="147.13" x2="408.46" y2="112.8" stroke="#e0e0e0" stroke-width="0.5"/>
<line x1="341.64" y1="94.31" x2="341.64" y2="-0.3" stroke="#888" stroke-width="0.9"/>
<line x1="265.18" y1="12.03" x2="341.64" y2="-0.3" stroke="#444" stroke-width="0.8"/>
<line x1="341.64" y1="-0.3" x2="428.38" y2="9.57" stroke="#444" stroke-width="0.8"/>
<line x1="423.38" y1="116.93" x2="428.38" y2="9.57" stroke="#444" stroke-width="0.8"/>
<line x1="341.64" y1="94.31" x2="423.38" y2="116.93" stroke="#999" stroke-width="0.5"/>
<polygon points="336.72,97.28 339.92,98.19 339.86,31.13 336.54,30.58" fill="#ff0000" stroke="rgba(0,0,0,0.45)" stroke-width="0.35" stroke-linejoin="round"/>
<polygon points="339.92,98.19 342.7,97.12 342.74,30.47 339.86,31.13" fill="#ab0000" stroke="rgba(0,0,0,0.45)" stroke-width="0.35" stroke-linejoin="round"/>
<polygon points="336.54,30.58 339.86,31.13 342.74,30.47 339.42,29.91" fill="#cc0000" stroke="rgba(0,0,0,0.45)" stroke-width="0.35" stroke-linejoin="round"/>
<polygon points="343.37,99.17 346.65,100.11 346.8,45.95 343.43,45.31" fill="#c0f400" stroke="rgba(0,0,0,0.45)" stroke-width="0.35" stroke-linejoin="round"/>
<polygon points="346.65,100.11 349.41,99.01 349.65,45.18 346.8,45.95" fill="#81a300" stroke="rgba(0,0,0,0.45)" stroke-width="0.35" stroke-linejoin="round"/>
<polygon points="343.43,45.31 346.8,45.95 349.65,45.18 346.28,44.55" fill="#9ac300" stroke="rgba(0,0,0,0.45)" stroke-width="0.35" stroke-linejoin="round"/>
<polygon points="350.18,101.11 353.53,102.06 353.84,56.4 350.4,55.69" fill="#30f8c8" stroke="rgba(0,0,0,0.45)" stroke-width="0.35" stroke-linejoin="round"/>
<polygon points="353.53,102.06 356.29,100.94 356.66,55.56 353.84,56.4" fill="#20a686" stroke="rgba(0,0,0,0.45)" stroke-width="0.35" stroke-linejoin="round"/>
<polygon points="350.4,55.69 353.84,56.4 356.66,55.56 353.23,54.85" fill="#26c6a0" stroke="rgba(0,0,0,0.45)" stroke-width="0.35" stroke-linejoin="round"/>
<polygon points="325.86,101.41 329.08,102.37 328.59,33.75 325.25,33.16" fill="#ff0000" stroke="rgba(0,0,0,0.45)" stroke-width="0.35" stroke-linejoin="round"/>
<polygon points="329.08,102.37 331.99,101.25 331.62,33.05 328.59,33.75" fill="#ab0000" stroke="rgba(0,0,0,0.45)" stroke-width="0.35" stroke-linejoin="round"/>
<polygon points="325.25,33.16 328.59,33.75 331.62,33.05 328.28,32.47" fill="#cc0000" stroke="rgba(0,0,0,0.45)" stroke-width="0.35" stroke-linejoin="round"/>
<polygon points="357.15,103.09 360.58,104.07 361.02,63.04 357.51,62.28" fill="#30f8c8" stroke="rgba(0,0,0,0.45)" stroke-width="0.35" stroke-linejoin="round"/>
<polygon points="360.58,104.07 363.32,102.92 363.82,62.14 361.02,63.04" fill="#20a686" stroke="rgba(0,0,0,0.45)" stroke-width="0.35" stroke-linejoin="round"/>
<polygon points="357.51,62.28 361.02,63.04 363.82,62.14 360.31,61.39" fill="#26c6a0" stroke="rgba(0,0,0,0.45)" stroke-width="0.35" stroke-linejoin="round"/>
<polygon points="332.55,103.4 335.84,104.38 335.66,48.96 332.26,48.28" fill="#c0f400" stroke="rgba(0,0,0,0.45)" stroke-width="0.35" stroke-linejoin="round"/>
<polygon points="335.84,104.38 338.75,103.23 338.66,48.15 335.66,48.96" fill="#81a300" stroke="rgba(0,0,0,0.45)" stroke-width="0.35" stroke-linejoin="round"/>
<polygon points="332.26,48.28 335.66,48.96 338.66,48.15 335.26,47.48" fill="#9ac300" stroke="rgba(0,0,0,0.45)" stroke-width="0.35" stroke-linejoin="round"/>
<polygon points="364.28,105.12 367.8,106.12 368.36,68.22 364.77,67.42" fill="#1414f0" stroke="rgba(0,0,0,0.45)" stroke-width="0.35" stroke-linejoin="round"/>
<polygon points="367.8,106.12 370.52,104.95 371.14,67.28 368.36,68.22" fill="#0d0da1" stroke="rgba(0,0,0,0.45)" stroke-width="0.35" stroke-linejoin="round"/>
<polygon points="364.77,67.42 368.36,68.22 371.14,67.28 367.55,66.49" fill="#1010c0" stroke="rgba(0,0,0,0.45)" stroke-width="0.35" stroke-linejoin="round"/>
<polygon points="339.4,105.43 342.77,106.44 342.8,59.7 339.34,58.95" fill="#30f8c8" stroke="rgba(0,0,0,0.45)" stroke-width="0.35" stroke-linejoin="round"/>
<polygon points="342.77,106.44 345.66,105.26 345.77,58.82 342.8,59.7" fill="#20a686" stroke="rgba(0,0,0,0.45)" stroke-width="0.35" stroke-linejoin="round"/>
<polygon points="339.34,58.95 342.8,59.7 345.77,58.82 342.31,58.08" fill="#26c6a0" stroke="rgba(0,0,0,0.45)" stroke-width="0.35" stroke-linejoin="round"/>
<polygon points="314.45,105.75 317.68,106.75 316.72,36.51 313.37,35.89" fill="#ff0000" stroke="rgba(0,0,0,0.45)" stroke-width="0.35" stroke-linejoin="round"/>
<polygon points="317.68,106.75 320.74,105.57 319.92,35.77 316.72,36.51" fill="#ab0000" stroke="rgba(0,0,0,0.45)" stroke-width="0.35" stroke-linejoin="round"/>
<polygon points="313.37,35.89 316.72,36.51 319.92,35.77 316.57,35.15" fill="#cc0000" stroke="rgba(0,0,0,0.45)" stroke-width="0.35" stroke-linejoin="round"/>
<polygon points="371.59,107.2 375.19,108.22 375.86,72.92 372.19,72.09" fill="#1414f0" stroke="rgba(0,0,0,0.45)" stroke-width="0.35" stroke-linejoin="round"/>
<polygon points="375.19,108.22 377.9,107.02 378.62,71.94 375.86,72.92" fill="#0d0da1" stroke="rgba(0,0,0,0.45)" stroke-width="0.35" stroke-linejoin="round"/>
<polygon points="372.19,72.09 375.86,72.92 378.62,71.94 374.95,71.12" fill="#1010c0" stroke="rgba(0,0,0,0.45)" stroke-width="0.35" stroke-linejoin="round"/>
<polygon points="346.41,107.52 349.87,108.54 350.06,66.55 346.52,65.75" fill="#30f8c8" stroke="rgba(0,0,0,0.45)" stroke-width="0.35" stroke-linejoin="round"/>
<polygon points="349.87,108.54 352.75,107.34 353.01,65.6 350.06,66.55" fill="#20a686" stroke="rgba(0,0,0,0.45)" stroke-width="0.35" stroke-linejoin="round"/>
<polygon points="346.52,65.75 350.06,66.55 353.01,65.6 349.48,64.81" fill="#26c6a0" stroke="rgba(0,0,0,0.45)" stroke-width="0.35" stroke-linejoin="round"/>
<polygon points="321.17,107.84 324.48,108.87 323.93,52.14 320.51,51.42" fill="#c0f400" stroke="rgba(0,0,0,0.45)" stroke-width="0.35" stroke-linejoin="round"/>
<polygon points="324.48,108.87 327.53,107.66 327.08,51.28 323.93,52.14" fill="#81a300" stroke="rgba(0,0,0,0.45)" stroke-width="0.35" stroke-linejoin="round"/>
<polygon points="320.51,51.42 323.93,52.14 327.08,51.28 323.67,50.57" fill="#9ac300" stroke="rgba(0,0,0,0.45)" stroke-width="0.35" stroke-linejoin="round"/>
<polygon points="379.08,109.32 382.77,110.37 383.56,76.63 379.79,75.76" fill="#1414f0" stroke="rgba(0,0,0,0.45)" stroke-width="0.35" stroke-linejoin="round"/>
<polygon points="382.77,110.37 385.46,109.14 386.29,75.61 383.56,76.63" fill="#0d0da1" stroke="rgba(0,0,0,0.45)" stroke-width="0.35" stroke-linejoin="round"/>
<polygon points="379.79,75.76 383.56,76.63 386.29,75.61 382.54,74.75" fill="#1010c0" stroke="rgba(0,0,0,0.45)" stroke-width="0.35" stroke-linejoin="round"/>
<polygon points="353.6,109.65 357.14,110.7 357.48,71.9 353.86,71.06" fill="#1414f0" stroke="rgba(0,0,0,0.45)" stroke-width="0.35" stroke-linejoin="round"/>
<polygon points="357.14,110.7 360.01,109.47 360.41,70.91 357.48,71.9" fill="#0d0da1" stroke="rgba(0,0,0,0.45)" stroke-width="0.35" stroke-linejoin="round"/>
<polygon points="353.86,71.06 357.48,71.9 360.41,70.91 356.79,70.08" fill="#1010c0" stroke="rgba(0,0,0,0.45)" stroke-width="0.35" stroke-linejoin="round"/>
<polygon points="302.45,110.31 305.69,111.37 304.22,39.41 300.85,38.75" fill="#ff0000" stroke="rgba(0,0,0,0.45)" stroke-width="0.35" stroke-linejoin="round"/>
<polygon points="305.69,111.37 308.92,110.13 307.59,38.63 304.22,39.41" fill="#ab0000" stroke="rgba(0,0,0,0.45)" stroke-width="0.35" stroke-linejoin="round"/>
<polygon points="300.85,38.75 304.22,39.41 307.59,38.63 304.22,37.98" fill="#cc0000" stroke="rgba(0,0,0,0.45)" stroke-width="0.35" stroke-linejoin="round"/>
<polygon points="328.05,109.98 331.45,111.04 331.17,63.18 327.69,62.39" fill="#30f8c8" stroke="rgba(0,0,0,0.45)" stroke-width="0.35" stroke-linejoin="round"/>
<polygon points="331.45,111.04 334.49,109.8 334.3,62.25 331.17,63.18" fill="#20a686" stroke="rgba(0,0,0,0.45)" stroke-width="0.35" stroke-linejoin="round"/>
<polygon points="327.69,62.39 331.17,63.18 334.3,62.25 330.82,61.47" fill="#26c6a0" stroke="rgba(0,0,0,0.45)" stroke-width="0.35" stroke-linejoin="round"/>
<polygon points="386.75,111.51 390.54,112.58 391.43,80.42 387.57,79.52" fill="#6c0070" stroke="rgba(0,0,0,0.45)" stroke-width="0.35" stroke-linejoin="round"/>
<polygon points="390.54,112.58 393.21,111.32 394.14,79.36 391.43,80.42" fill="#48004b" stroke="rgba(0,0,0,0.45)" stroke-width="0.35" stroke-linejoin="round"/>
<polygon points="387.57,79.52 391.43,80.42 394.14,79.36 390.29,78.47" fill="#56005a" stroke="rgba(0,0,0,0.45)" stroke-width="0.35" stroke-linejoin="round"/>
<polygon points="360.96,111.84 364.59,112.92 365.07,76.77 361.36,75.89" fill="#1414f0" stroke="rgba(0,0,0,0.45)" stroke-width="0.35" stroke-linejoin="round"/>
<polygon points="364.59,112.92 367.45,111.65 367.97,75.74 365.07,76.77" fill="#0d0da1" stroke="rgba(0,0,0,0.45)" stroke-width="0.35" stroke-linejoin="round"/>
<polygon points="361.36,75.89 365.07,76.77 367.97,75.74 364.27,74.87" fill="#1010c0" stroke="rgba(0,0,0,0.45)" stroke-width="0.35" stroke-linejoin="round"/>
<polygon points="309.19,112.51 312.52,113.6 311.56,55.48 308.13,54.72" fill="#c0f400" stroke="rgba(0,0,0,0.45)" stroke-width="0.35" stroke-linejoin="round"/>
<polygon points="312.52,113.6 315.74,112.32 314.89,54.58 311.56,55.48" fill="#81a300" stroke="rgba(0,0,0,0.45)" stroke-width="0.35" stroke-linejoin="round"/>
<polygon points="308.13,54.72 311.56,55.48 314.89,54.58 311.46,53.83" fill="#9ac300" stroke="rgba(0,0,0,0.45)" stroke-width="0.35" stroke-linejoin="round"/>
<polygon points="335.11,112.17 338.59,113.26 338.51,70.25 334.95,69.4" fill="#30f8c8" stroke="rgba(0,0,0,0.45)" stroke-width="0.35" stroke-linejoin="round"/>
<polygon points="338.59,113.26 341.62,111.99 341.62,69.25 338.51,70.25" fill="#20a686" stroke="rgba(0,0,0,0.45)" stroke-width="0.35" stroke-linejoin="round"/>
<polygon points="334.95,69.4 338.51,70.25 341.62,69.25 338.07,68.42" fill="#26c6a0" stroke="rgba(0,0,0,0.45)" stroke-width="0.35" stroke-linejoin="round"/>
<polygon points="394.62,113.74 398.5,114.84 399.49,84.04 395.54,83.1" fill="#6c0070" stroke="rgba(0,0,0,0.45)" stroke-width="0.35" stroke-linejoin="round"/>
<polygon points="398.5,114.84 401.15,113.55 402.18,82.94 399.49,84.04" fill="#48004b" stroke="rgba(0,0,0,0.45)" stroke-width="0.35" stroke-linejoin="round"/>
<polygon points="395.54,83.1 399.49,84.04 402.18,82.94 398.24,82.02" fill="#56005a" stroke="rgba(0,0,0,0.45)" stroke-width="0.35" stroke-linejoin="round"/>
<polygon points="368.51,114.08 372.24,115.19 372.84,80.62 369.04,79.71" fill="#1414f0" stroke="rgba(0,0,0,0.45)" stroke-width="0.35" stroke-linejoin="round"/>
<polygon points="372.24,115.19 375.07,113.89 375.72,79.55 372.84,80.62" fill="#0d0da1" stroke="rgba(0,0,0,0.45)" stroke-width="0.35" stroke-linejoin="round"/>
<polygon points="369.04,79.71 372.84,80.62 375.72,79.55 371.93,78.65" fill="#1010c0" stroke="rgba(0,0,0,0.45)" stroke-width="0.35" stroke-linejoin="round"/>
<polygon points="289.81,115.11 293.07,116.23 290.42,20.85 287.01,20.29" fill="#6a0000" stroke="rgba(0,0,0,0.45)" stroke-width="0.35" stroke-linejoin="round"/>
<polygon points="293.07,116.23 296.46,114.92 294.03,20.17 290.42,20.85" fill="#470000" stroke="rgba(0,0,0,0.45)" stroke-width="0.35" stroke-linejoin="round"/>
<polygon points="287.01,20.29 290.42,20.85 294.03,20.17 290.62,19.62" fill="#550000" stroke="rgba(0,0,0,0.45)" stroke-width="0.35" stroke-linejoin="round"/>
<polygon points="342.34,114.42 345.91,115.53 346.01,75.79 342.36,74.9" fill="#1414f0" stroke="rgba(0,0,0,0.45)" stroke-width="0.35" stroke-linejoin="round"/>
<polygon points="345.91,115.53 348.93,114.23 349.1,74.74 346.01,75.79" fill="#0d0da1" stroke="rgba(0,0,0,0.45)" stroke-width="0.35" stroke-linejoin="round"/>
<polygon points="342.36,74.9 346.01,75.79 349.1,74.74 345.46,73.87" fill="#1010c0" stroke="rgba(0,0,0,0.45)" stroke-width="0.35" stroke-linejoin="round"/>
<polygon points="316.11,114.77 319.52,115.88 318.9,66.85 315.4,66.02" fill="#30f8c8" stroke="rgba(0,0,0,0.45)" stroke-width="0.35" stroke-linejoin="round"/>
<polygon points="319.52,115.88 322.73,114.58 322.21,65.87 318.9,66.85" fill="#20a686" stroke="rgba(0,0,0,0.45)" stroke-width="0.35" stroke-linejoin="round"/>
<polygon points="315.4,66.02 318.9,66.85 322.21,65.87 318.71,65.04" fill="#26c6a0" stroke="rgba(0,0,0,0.45)" stroke-width="0.35" stroke-linejoin="round"/>
<polygon points="402.68,116.03 406.66,117.17 407.72,88.61 403.67,87.64" fill="#6c0070" stroke="rgba(0,0,0,0.45)" stroke-width="0.35" stroke-linejoin="round"/>
<polygon points="406.66,117.17 409.29,115.84 410.38,87.47 407.72,88.61" fill="#48004b" stroke="rgba(0,0,0,0.45)" stroke-width="0.35" stroke-linejoin="round"/>
<polygon points="403.67,87.64 407.72,88.61 410.38,87.47 406.34,86.52" fill="#56005a" stroke="rgba(0,0,0,0.45)" stroke-width="0.35" stroke-linejoin="round"/>
<polygon points="376.26,116.38 380.08,117.52 380.8,84.56 376.9,83.61" fill="#6c0070" stroke="rgba(0,0,0,0.45)" stroke-width="0.35" stroke-linejoin="round"/>
<polygon points="380.08,117.52 382.89,116.19 383.66,83.45 380.8,84.56" fill="#48004b" stroke="rgba(0,0,0,0.45)" stroke-width="0.35" stroke-linejoin="round"/>
<polygon points="376.9,83.61 380.8,84.56 383.66,83.45 379.78,82.51" fill="#56005a" stroke="rgba(0,0,0,0.45)" stroke-width="0.35" stroke-linejoin="round"/>
<polygon points="410.96,118.39 415.04,119.55 416.2,91.8 412.05,90.8" fill="#6c0070" stroke="rgba(0,0,0,0.45)" stroke-width="0.35" stroke-linejoin="round"/>
<polygon points="415.04,119.55 417.64,118.19 418.83,90.62 416.2,91.8" fill="#48004b" stroke="rgba(0,0,0,0.45)" stroke-width="0.35" stroke-linejoin="round"/>
<polygon points="412.05,90.8 416.2,91.8 418.83,90.62 414.69,89.64" fill="#56005a" stroke="rgba(0,0,0,0.45)" stroke-width="0.35" stroke-linejoin="round"/>
<polygon points="296.58,117.43 299.92,118.58 298.4,54.92 294.95,54.14" fill="#ff9c00" stroke="rgba(0,0,0,0.45)" stroke-width="0.35" stroke-linejoin="round"/>
<polygon points="299.92,118.58 303.31,117.24 301.93,54 298.4,54.92" fill="#ab6900" stroke="rgba(0,0,0,0.45)" stroke-width="0.35" stroke-linejoin="round"/>
<polygon points="294.95,54.14 298.4,54.92 301.93,54 298.48,53.23" fill="#cc7d00" stroke="rgba(0,0,0,0.45)" stroke-width="0.35" stroke-linejoin="round"/>
<polygon points="349.76,116.73 353.42,117.87 353.67,80.83 349.93,79.91" fill="#1414f0" stroke="rgba(0,0,0,0.45)" stroke-width="0.35" stroke-linejoin="round"/>
<polygon points="353.42,117.87 356.43,116.54 356.74,79.74 353.67,80.83" fill="#0d0da1" stroke="rgba(0,0,0,0.45)" stroke-width="0.35" stroke-linejoin="round"/>
<polygon points="349.93,79.91 353.67,80.83 356.74,79.74 353.01,78.82" fill="#1010c0" stroke="rgba(0,0,0,0.45)" stroke-width="0.35" stroke-linejoin="round"/>
<polygon points="323.2,117.08 326.7,118.22 326.33,74.15 322.74,73.26" fill="#30f8c8" stroke="rgba(0,0,0,0.45)" stroke-width="0.35" stroke-linejoin="round"/>
<polygon points="326.7,118.22 329.9,116.89 329.61,73.1 326.33,74.15" fill="#20a686" stroke="rgba(0,0,0,0.45)" stroke-width="0.35" stroke-linejoin="round"/>
<polygon points="322.74,73.26 326.33,74.15 329.61,73.1 326.03,72.22" fill="#26c6a0" stroke="rgba(0,0,0,0.45)" stroke-width="0.35" stroke-linejoin="round"/>
<polygon points="384.2,118.74 388.12,119.91 388.96,88.33 384.96,87.35" fill="#6c0070" stroke="rgba(0,0,0,0.45)" stroke-width="0.35" stroke-linejoin="round"/>
<polygon points="388.12,119.91 390.91,118.54 391.8,87.18 388.96,88.33" fill="#48004b" stroke="rgba(0,0,0,0.45)" stroke-width="0.35" stroke-linejoin="round"/>
<polygon points="384.96,87.35 388.96,88.33 391.8,87.18 387.81,86.21" fill="#56005a" stroke="rgba(0,0,0,0.45)" stroke-width="0.35" stroke-linejoin="round"/>
<polygon points="276.49,120.17 279.75,121.35 277.79,66.12 274.44,65.26" fill="#c0f400" stroke="rgba(0,0,0,0.45)" stroke-width="0.35" stroke-linejoin="round"/>
<polygon points="279.75,121.35 283.33,119.97 281.51,65.11 277.79,66.12" fill="#81a300" stroke="rgba(0,0,0,0.45)" stroke-width="0.35" stroke-linejoin="round"/>
<polygon points="274.44,65.26 277.79,66.12 281.51,65.11 278.16,64.26" fill="#9ac300" stroke="rgba(0,0,0,0.45)" stroke-width="0.35" stroke-linejoin="round"/>
<polygon points="357.38,119.1 361.13,120.27 361.52,84.84 357.69,83.87" fill="#1414f0" stroke="rgba(0,0,0,0.45)" stroke-width="0.35" stroke-linejoin="round"/>
<polygon points="361.13,120.27 364.12,118.9 364.57,83.7 361.52,84.84" fill="#0d0da1" stroke="rgba(0,0,0,0.45)" stroke-width="0.35" stroke-linejoin="round"/>
<polygon points="357.69,83.87 361.52,84.84 364.57,83.7 360.75,82.75" fill="#1010c0" stroke="rgba(0,0,0,0.45)" stroke-width="0.35" stroke-linejoin="round"/>
<polygon points="303.52,119.82 306.94,120.99 305.91,68.82 302.39,67.95" fill="#30f8c8" stroke="rgba(0,0,0,0.45)" stroke-width="0.35" stroke-linejoin="round"/>
<polygon points="306.94,120.99 310.33,119.61 309.4,67.79 305.91,68.82" fill="#20a686" stroke="rgba(0,0,0,0.45)" stroke-width="0.35" stroke-linejoin="round"/>
<polygon points="302.39,67.95 305.91,68.82 309.4,67.79 305.89,66.93" fill="#26c6a0" stroke="rgba(0,0,0,0.45)" stroke-width="0.35" stroke-linejoin="round"/>
<polygon points="330.48,119.46 334.07,120.63 333.89,79.89 330.22,78.95" fill="#1414f0" stroke="rgba(0,0,0,0.45)" stroke-width="0.35" stroke-linejoin="round"/>
<polygon points="334.07,120.63 337.26,119.26 337.16,78.78 333.89,79.89" fill="#0d0da1" stroke="rgba(0,0,0,0.45)" stroke-width="0.35" stroke-linejoin="round"/>
<polygon points="330.22,78.95 333.89,79.89 337.16,78.78 333.49,77.86" fill="#1010c0" stroke="rgba(0,0,0,0.45)" stroke-width="0.35" stroke-linejoin="round"/>
<polygon points="392.35,121.16 396.37,122.36 397.29,93.09 393.19,92.07" fill="#6c0070" stroke="rgba(0,0,0,0.45)" stroke-width="0.35" stroke-linejoin="round"/>
<polygon points="396.37,122.36 399.15,120.96 400.1,91.89 397.29,93.09" fill="#48004b" stroke="rgba(0,0,0,0.45)" stroke-width="0.35" stroke-linejoin="round"/>
<polygon points="393.19,92.07 397.29,93.09 400.1,91.89 396.02,90.87" fill="#56005a" stroke="rgba(0,0,0,0.45)" stroke-width="0.35" stroke-linejoin="round"/>
<polygon points="283.27,122.63 286.61,123.84 284.99,72.27 281.55,71.36" fill="#30f8c8" stroke="rgba(0,0,0,0.45)" stroke-width="0.35" stroke-linejoin="round"/>
<polygon points="286.61,123.84 290.19,122.42 288.69,71.19 284.99,72.27" fill="#20a686" stroke="rgba(0,0,0,0.45)" stroke-width="0.35" stroke-linejoin="round"/>
<polygon points="281.55,71.36 284.99,72.27 288.69,71.19 285.26,70.3" fill="#26c6a0" stroke="rgba(0,0,0,0.45)" stroke-width="0.35" stroke-linejoin="round"/>
<polygon points="365.19,121.53 369.04,122.73 369.57,88.94 365.64,87.94" fill="#6c0070" stroke="rgba(0,0,0,0.45)" stroke-width="0.35" stroke-linejoin="round"/>
<polygon points="369.04,122.73 372.01,121.32 372.59,87.76 369.57,88.94" fill="#48004b" stroke="rgba(0,0,0,0.45)" stroke-width="0.35" stroke-linejoin="round"/>
<polygon points="365.64,87.94 369.57,88.94 372.59,87.76 368.67,86.78" fill="#56005a" stroke="rgba(0,0,0,0.45)" stroke-width="0.35" stroke-linejoin="round"/>
<polygon points="310.64,122.26 314.16,123.47 313.44,77.91 309.84,76.97" fill="#30f8c8" stroke="rgba(0,0,0,0.45)" stroke-width="0.35" stroke-linejoin="round"/>
<polygon points="314.16,123.47 317.54,122.05 316.91,76.8 313.44,77.91" fill="#20a686" stroke="rgba(0,0,0,0.45)" stroke-width="0.35" stroke-linejoin="round"/>
<polygon points="309.84,76.97 313.44,77.91 316.91,76.8 313.32,75.87" fill="#26c6a0" stroke="rgba(0,0,0,0.45)" stroke-width="0.35" stroke-linejoin="round"/>
<polygon points="337.95,121.89 341.63,123.1 341.63,85.13 337.87,84.14" fill="#1414f0" stroke="rgba(0,0,0,0.45)" stroke-width="0.35" stroke-linejoin="round"/>
<polygon points="341.63,123.1 344.81,121.69 344.88,83.97 341.63,85.13" fill="#0d0da1" stroke="rgba(0,0,0,0.45)" stroke-width="0.35" stroke-linejoin="round"/>
<polygon points="337.87,84.14 341.63,85.13 344.88,83.97 341.12,83" fill="#1010c0" stroke="rgba(0,0,0,0.45)" stroke-width="0.35" stroke-linejoin="round"/>
<polygon points="400.72,123.65 404.85,124.88 405.88,96.43 401.67,95.37" fill="#6c0070" stroke="rgba(0,0,0,0.45)" stroke-width="0.35" stroke-linejoin="round"/>
<polygon points="404.85,124.88 407.59,123.44 408.66,95.18 405.88,96.43" fill="#48004b" stroke="rgba(0,0,0,0.45)" stroke-width="0.35" stroke-linejoin="round"/>
<polygon points="401.67,95.37 405.88,96.43 408.66,95.18 404.47,94.14" fill="#56005a" stroke="rgba(0,0,0,0.45)" stroke-width="0.35" stroke-linejoin="round"/>
<polygon points="373.2,124.02 377.16,125.25 377.82,92.88 373.78,91.84" fill="#6c0070" stroke="rgba(0,0,0,0.45)" stroke-width="0.35" stroke-linejoin="round"/>
<polygon points="377.16,125.25 380.11,123.81 380.82,91.65 377.82,92.88" fill="#48004b" stroke="rgba(0,0,0,0.45)" stroke-width="0.35" stroke-linejoin="round"/>
<polygon points="373.78,91.84 377.82,92.88 380.82,91.65 376.8,90.63" fill="#56005a" stroke="rgba(0,0,0,0.45)" stroke-width="0.35" stroke-linejoin="round"/>
<polygon points="290.22,125.15 293.66,126.39 292.34,78.55 288.82,77.59" fill="#30f8c8" stroke="rgba(0,0,0,0.45)" stroke-width="0.35" stroke-linejoin="round"/>
<polygon points="293.66,126.39 297.24,124.93 296.03,77.42 292.34,78.55" fill="#20a686" stroke="rgba(0,0,0,0.45)" stroke-width="0.35" stroke-linejoin="round"/>
<polygon points="288.82,77.59 292.34,78.55 296.03,77.42 292.51,76.47" fill="#26c6a0" stroke="rgba(0,0,0,0.45)" stroke-width="0.35" stroke-linejoin="round"/>
<polygon points="345.62,124.4 349.4,125.63 349.56,89.3 345.7,88.28" fill="#1414f0" stroke="rgba(0,0,0,0.45)" stroke-width="0.35" stroke-linejoin="round"/>
<polygon points="349.4,125.63 352.56,124.19 352.79,88.1 349.56,89.3" fill="#0d0da1" stroke="rgba(0,0,0,0.45)" stroke-width="0.35" stroke-linejoin="round"/>
<polygon points="345.7,88.28 349.56,89.3 352.79,88.1 348.93,87.09" fill="#1010c0" stroke="rgba(0,0,0,0.45)" stroke-width="0.35" stroke-linejoin="round"/>
<polygon points="317.96,124.77 321.57,126.01 321.08,84.04 317.39,83.05" fill="#1414f0" stroke="rgba(0,0,0,0.45)" stroke-width="0.35" stroke-linejoin="round"/>
<polygon points="321.57,126.01 324.94,124.56 324.54,82.87 321.08,84.04" fill="#0d0da1" stroke="rgba(0,0,0,0.45)" stroke-width="0.35" stroke-linejoin="round"/>
<polygon points="317.39,83.05 321.08,84.04 324.54,82.87 320.85,81.9" fill="#1010c0" stroke="rgba(0,0,0,0.45)" stroke-width="0.35" stroke-linejoin="round"/>
<polygon points="381.44,126.58 385.5,127.85 386.26,97.83 382.12,96.74" fill="#6c0070" stroke="rgba(0,0,0,0.45)" stroke-width="0.35" stroke-linejoin="round"/>
<polygon points="385.5,127.85 388.43,126.37 389.23,96.55 386.26,97.83" fill="#48004b" stroke="rgba(0,0,0,0.45)" stroke-width="0.35" stroke-linejoin="round"/>
<polygon points="382.12,96.74 386.26,97.83 389.23,96.55 385.1,95.48" fill="#56005a" stroke="rgba(0,0,0,0.45)" stroke-width="0.35" stroke-linejoin="round"/>
<polygon points="353.49,126.96 357.38,128.23 357.69,93.58 353.72,92.52" fill="#6c0070" stroke="rgba(0,0,0,0.45)" stroke-width="0.35" stroke-linejoin="round"/>
<polygon points="357.38,128.23 360.52,126.75 360.89,92.33 357.69,93.58" fill="#48004b" stroke="rgba(0,0,0,0.45)" stroke-width="0.35" stroke-linejoin="round"/>
<polygon points="353.72,92.52 357.69,93.58 360.89,92.33 356.93,91.28" fill="#56005a" stroke="rgba(0,0,0,0.45)" stroke-width="0.35" stroke-linejoin="round"/>
<polygon points="297.37,127.73 300.9,129.01 299.85,84.14 296.24,83.13" fill="#1414f0" stroke="rgba(0,0,0,0.45)" stroke-width="0.35" stroke-linejoin="round"/>
<polygon points="300.9,129.01 304.47,127.51 303.52,82.95 299.85,84.14" fill="#0d0da1" stroke="rgba(0,0,0,0.45)" stroke-width="0.35" stroke-linejoin="round"/>
<polygon points="296.24,83.13 299.85,84.14 303.52,82.95 299.91,81.96" fill="#1010c0" stroke="rgba(0,0,0,0.45)" stroke-width="0.35" stroke-linejoin="round"/>
<polygon points="325.47,127.35 329.17,128.62 328.89,89.57 325.11,88.53" fill="#1414f0" stroke="rgba(0,0,0,0.45)" stroke-width="0.35" stroke-linejoin="round"/>
<polygon points="329.17,128.62 332.53,127.13 332.33,88.35 328.89,89.57" fill="#0d0da1" stroke="rgba(0,0,0,0.45)" stroke-width="0.35" stroke-linejoin="round"/>
<polygon points="325.11,88.53 328.89,89.57 332.33,88.35 328.55,87.33" fill="#1010c0" stroke="rgba(0,0,0,0.45)" stroke-width="0.35" stroke-linejoin="round"/>
<polygon points="389.89,129.21 394.07,130.51 394.95,101.33 390.7,100.2" fill="#6c0070" stroke="rgba(0,0,0,0.45)" stroke-width="0.35" stroke-linejoin="round"/>
<polygon points="394.07,130.51 396.98,128.99 397.9,100.01 394.95,101.33" fill="#48004b" stroke="rgba(0,0,0,0.45)" stroke-width="0.35" stroke-linejoin="round"/>
<polygon points="390.7,100.2 394.95,101.33 397.9,100.01 393.66,98.9" fill="#56005a" stroke="rgba(0,0,0,0.45)" stroke-width="0.35" stroke-linejoin="round"/>
<polygon points="361.58,129.6 365.57,130.91 366.03,97.69 361.95,96.58" fill="#6c0070" stroke="rgba(0,0,0,0.45)" stroke-width="0.35" stroke-linejoin="round"/>
<polygon points="365.57,130.91 368.69,129.38 369.21,96.39 366.03,97.69" fill="#48004b" stroke="rgba(0,0,0,0.45)" stroke-width="0.35" stroke-linejoin="round"/>
<polygon points="361.95,96.58 366.03,97.69 369.21,96.39 365.14,95.3" fill="#56005a" stroke="rgba(0,0,0,0.45)" stroke-width="0.35" stroke-linejoin="round"/>
<polygon points="304.71,130.39 308.34,131.7 307.53,89.76 303.83,88.71" fill="#1414f0" stroke="rgba(0,0,0,0.45)" stroke-width="0.35" stroke-linejoin="round"/>
<polygon points="308.34,131.7 311.9,130.17 311.19,88.52 307.53,89.76" fill="#0d0da1" stroke="rgba(0,0,0,0.45)" stroke-width="0.35" stroke-linejoin="round"/>
<polygon points="303.83,88.71 307.53,89.76 311.19,88.52 307.49,87.48" fill="#1010c0" stroke="rgba(0,0,0,0.45)" stroke-width="0.35" stroke-linejoin="round"/>
<polygon points="333.18,130 336.99,131.3 336.89,94.02 333,92.94" fill="#1414f0" stroke="rgba(0,0,0,0.45)" stroke-width="0.35" stroke-linejoin="round"/>
<polygon points="336.99,131.3 340.34,129.77 340.31,92.75 336.89,94.02" fill="#0d0da1" stroke="rgba(0,0,0,0.45)" stroke-width="0.35" stroke-linejoin="round"/>
<polygon points="333,92.94 336.89,94.02 340.31,92.75 336.42,91.68" fill="#1010c0" stroke="rgba(0,0,0,0.45)" stroke-width="0.35" stroke-linejoin="round"/>
<polygon points="369.89,132.32 373.99,133.66 374.57,102.85 370.38,101.69" fill="#6c0070" stroke="rgba(0,0,0,0.45)" stroke-width="0.35" stroke-linejoin="round"/>
<polygon points="373.99,133.66 377.1,132.09 377.72,101.49 374.57,102.85" fill="#48004b" stroke="rgba(0,0,0,0.45)" stroke-width="0.35" stroke-linejoin="round"/>
<polygon points="370.38,101.69 374.57,102.85 377.72,101.49 373.55,100.36" fill="#56005a" stroke="rgba(0,0,0,0.45)" stroke-width="0.35" stroke-linejoin="round"/>
<polygon points="341.11,132.72 345.03,134.06 345.1,98.49 341.1,97.36" fill="#6c0070" stroke="rgba(0,0,0,0.45)" stroke-width="0.35" stroke-linejoin="round"/>
<polygon points="345.03,134.06 348.36,132.49 348.49,97.17 345.1,98.49" fill="#48004b" stroke="rgba(0,0,0,0.45)" stroke-width="0.35" stroke-linejoin="round"/>
<polygon points="341.1,97.36 345.1,98.49 348.49,97.17 344.5,96.06" fill="#56005a" stroke="rgba(0,0,0,0.45)" stroke-width="0.35" stroke-linejoin="round"/>
<polygon points="312.26,133.12 315.98,134.47 315.4,94.86 311.59,93.76" fill="#1414f0" stroke="rgba(0,0,0,0.45)" stroke-width="0.35" stroke-linejoin="round"/>
<polygon points="315.98,134.47 319.54,132.89 319.04,93.56 315.4,94.86" fill="#0d0da1" stroke="rgba(0,0,0,0.45)" stroke-width="0.35" stroke-linejoin="round"/>
<polygon points="311.59,93.76 315.4,94.86 319.04,93.56 315.24,92.47" fill="#1010c0" stroke="rgba(0,0,0,0.45)" stroke-width="0.35" stroke-linejoin="round"/>
<polygon points="378.43,135.1 382.65,136.48 383.36,106.52 379.06,105.33" fill="#6c0070" stroke="rgba(0,0,0,0.45)" stroke-width="0.35" stroke-linejoin="round"/>
<polygon points="382.65,136.48 385.73,134.87 386.49,105.12 383.36,106.52" fill="#48004b" stroke="rgba(0,0,0,0.45)" stroke-width="0.35" stroke-linejoin="round"/>
<polygon points="379.06,105.33 383.36,106.52 386.49,105.12 382.2,103.94" fill="#56005a" stroke="rgba(0,0,0,0.45)" stroke-width="0.35" stroke-linejoin="round"/>
<polygon points="349.26,135.51 353.29,136.9 353.52,102.79 349.41,101.62" fill="#6c0070" stroke="rgba(0,0,0,0.45)" stroke-width="0.35" stroke-linejoin="round"/>
<polygon points="353.29,136.9 356.6,135.28 356.89,101.41 353.52,102.79" fill="#48004b" stroke="rgba(0,0,0,0.45)" stroke-width="0.35" stroke-linejoin="round"/>
<polygon points="349.41,101.62 353.52,102.79 356.89,101.41 352.8,100.26" fill="#56005a" stroke="rgba(0,0,0,0.45)" stroke-width="0.35" stroke-linejoin="round"/>
<polygon points="320.01,135.93 323.85,137.31 323.47,100.19 319.55,99.03" fill="#6c0070" stroke="rgba(0,0,0,0.45)" stroke-width="0.35" stroke-linejoin="round"/>
<polygon points="323.85,137.31 327.39,135.69 327.09,98.83 323.47,100.19" fill="#48004b" stroke="rgba(0,0,0,0.45)" stroke-width="0.35" stroke-linejoin="round"/>
<polygon points="319.55,99.03 323.47,100.19 327.09,98.83 323.18,97.69" fill="#56005a" stroke="rgba(0,0,0,0.45)" stroke-width="0.35" stroke-linejoin="round"/>
<polygon points="357.65,138.39 361.79,139.81 362.16,108.18 357.94,106.95" fill="#6c0070" stroke="rgba(0,0,0,0.45)" stroke-width="0.35" stroke-linejoin="round"/>
<polygon points="361.79,139.81 365.08,138.15 365.51,106.74 362.16,108.18" fill="#48004b" stroke="rgba(0,0,0,0.45)" stroke-width="0.35" stroke-linejoin="round"/>
<polygon points="357.94,106.95 362.16,108.18 365.51,106.74 361.3,105.53" fill="#56005a" stroke="rgba(0,0,0,0.45)" stroke-width="0.35" stroke-linejoin="round"/>
<polygon points="327.99,138.81 331.94,140.24 331.74,104.49 327.71,103.28" fill="#6c0070" stroke="rgba(0,0,0,0.45)" stroke-width="0.35" stroke-linejoin="round"/>
<polygon points="331.94,140.24 335.47,138.57 335.34,103.07 331.74,104.49" fill="#48004b" stroke="rgba(0,0,0,0.45)" stroke-width="0.35" stroke-linejoin="round"/>
<polygon points="327.71,103.28 331.74,104.49 335.34,103.07 331.33,101.89" fill="#56005a" stroke="rgba(0,0,0,0.45)" stroke-width="0.35" stroke-linejoin="round"/>
<polygon points="366.27,141.35 370.54,142.82 371.05,112.04 366.71,110.77" fill="#6c0070" stroke="rgba(0,0,0,0.45)" stroke-width="0.35" stroke-linejoin="round"/>
<polygon points="370.54,142.82 373.81,141.11 374.38,110.55 371.05,112.04" fill="#48004b" stroke="rgba(0,0,0,0.45)" stroke-width="0.35" stroke-linejoin="round"/>
<polygon points="366.71,110.77 371.05,112.04 374.38,110.55 370.04,109.3" fill="#56005a" stroke="rgba(0,0,0,0.45)" stroke-width="0.35" stroke-linejoin="round"/>
<polygon points="336.2,141.78 340.26,143.25 340.23,109.79 336.1,108.53" fill="#6c0070" stroke="rgba(0,0,0,0.45)" stroke-width="0.35" stroke-linejoin="round"/>
<polygon points="340.26,143.25 343.78,141.54 343.82,108.31 340.23,109.79" fill="#48004b" stroke="rgba(0,0,0,0.45)" stroke-width="0.35" stroke-linejoin="round"/>
<polygon points="336.1,108.53 340.23,109.79 343.82,108.31 339.69,107.07" fill="#56005a" stroke="rgba(0,0,0,0.45)" stroke-width="0.35" stroke-linejoin="round"/>
<polygon points="344.65,144.84 348.83,146.35 348.97,114.04 344.71,112.73" fill="#6c0070" stroke="rgba(0,0,0,0.45)" stroke-width="0.35" stroke-linejoin="round"/>
<polygon points="348.83,146.35 352.33,144.59 352.53,112.51 348.97,114.04" fill="#48004b" stroke="rgba(0,0,0,0.45)" stroke-width="0.35" stroke-linejoin="round"/>
<polygon points="344.71,112.73 348.97,114.04 352.53,112.51 348.28,111.22" fill="#56005a" stroke="rgba(0,0,0,0.45)" stroke-width="0.35" stroke-linejoin="round"/>
<polygon points="353.36,147.99 357.66,149.55 357.95,118.51 353.57,117.15" fill="#6c0070" stroke="rgba(0,0,0,0.45)" stroke-width="0.35" stroke-linejoin="round"/>
<polygon points="357.66,149.55 361.14,147.73 361.49,116.92 357.95,118.51" fill="#48004b" stroke="rgba(0,0,0,0.45)" stroke-width="0.35" stroke-linejoin="round"/>
<polygon points="353.57,117.15 357.95,118.51 361.49,116.92 357.11,115.59" fill="#56005a" stroke="rgba(0,0,0,0.45)" stroke-width="0.35" stroke-linejoin="round"/>
<line x1="269.68" y1="121.47" x2="265.18" y2="12.03" stroke="#000" stroke-width="1.4"/>
<line x1="269.68" y1="121.47" x2="355.05" y2="153" stroke="#000" stroke-width="1.4"/>
<line x1="355.05" y1="153" x2="423.38" y2="116.93" stroke="#000" stroke-width="1.4"/>
<line x1="269.68" y1="121.47" x2="264.6" y2="123.39" stroke="#000" stroke-width="1.2"/>
<line x1="269.33" y1="112.85" x2="266.79" y2="113.76" stroke="#000" stroke-width="1.2"/>
<line x1="268.97" y1="104.14" x2="263.83" y2="105.9" stroke="#000" stroke-width="1.2"/>
<line x1="268.61" y1="95.34" x2="266.04" y2="96.18" stroke="#000" stroke-width="1.2"/>
<line x1="268.24" y1="86.45" x2="263.05" y2="88.05" stroke="#000" stroke-width="1.2"/>
<line x1="267.87" y1="77.48" x2="265.27" y2="78.23" stroke="#000" stroke-width="1.2"/>
<line x1="267.5" y1="68.41" x2="262.24" y2="69.84" stroke="#000" stroke-width="1.2"/>
<line x1="267.12" y1="59.25" x2="264.49" y2="59.92" stroke="#000" stroke-width="1.2"/>
<line x1="266.74" y1="50" x2="261.42" y2="51.26" stroke="#000" stroke-width="1.2"/>
<line x1="266.36" y1="40.66" x2="263.7" y2="41.23" stroke="#000" stroke-width="1.2"/>
<line x1="265.97" y1="31.21" x2="260.59" y2="32.28" stroke="#000" stroke-width="1.2"/>
<line x1="265.58" y1="21.67" x2="262.88" y2="22.16" stroke="#000" stroke-width="1.2"/>
<line x1="265.18" y1="12.03" x2="259.73" y2="12.91" stroke="#000" stroke-width="1.2"/>
<line x1="272.69" y1="122.58" x2="269.74" y2="123.71" stroke="#000" stroke-width="1.2"/>
<line x1="281.23" y1="125.74" x2="275.3" y2="128.08" stroke="#000" stroke-width="1.2"/>
<line x1="290.07" y1="129" x2="287.13" y2="130.21" stroke="#000" stroke-width="1.2"/>
<line x1="299.21" y1="132.38" x2="293.29" y2="134.88" stroke="#000" stroke-width="1.2"/>
<line x1="308.67" y1="135.87" x2="305.74" y2="137.16" stroke="#000" stroke-width="1.2"/>
<line x1="318.48" y1="139.49" x2="312.59" y2="142.18" stroke="#000" stroke-width="1.2"/>
<line x1="328.63" y1="143.24" x2="325.72" y2="144.63" stroke="#000" stroke-width="1.2"/>
<line x1="339.17" y1="147.13" x2="333.34" y2="150.02" stroke="#000" stroke-width="1.2"/>
<line x1="350.1" y1="151.17" x2="347.22" y2="152.66" stroke="#000" stroke-width="1.2"/>
<line x1="361.73" y1="149.47" x2="368.75" y2="151.99" stroke="#000" stroke-width="1.2"/>
<line x1="368.2" y1="146.05" x2="371.68" y2="147.27" stroke="#000" stroke-width="1.2"/>
<line x1="374.48" y1="142.74" x2="381.43" y2="145.11" stroke="#000" stroke-width="1.2"/>
<line x1="380.56" y1="139.53" x2="384" y2="140.67" stroke="#000" stroke-width="1.2"/>
<line x1="386.47" y1="136.41" x2="393.35" y2="138.64" stroke="#000" stroke-width="1.2"/>
<line x1="392.21" y1="133.38" x2="395.61" y2="134.46" stroke="#000" stroke-width="1.2"/>
<line x1="397.78" y1="130.44" x2="404.57" y2="132.55" stroke="#000" stroke-width="1.2"/>
<line x1="403.19" y1="127.59" x2="406.55" y2="128.6" stroke="#000" stroke-width="1.2"/>
<line x1="408.45" y1="124.81" x2="415.16" y2="126.79" stroke="#000" stroke-width="1.2"/>
<line x1="413.56" y1="122.11" x2="416.88" y2="123.07" stroke="#000" stroke-width="1.2"/>
<line x1="418.54" y1="119.49" x2="425.17" y2="121.36" stroke="#000" stroke-width="1.2"/>
<text transform="matrix(0.8933 -0.3372 0.0537 1.161 260.82 124.82)" font-size="7" text-anchor="end" class="n3" dy="2.3">0</text>
<text transform="matrix(0.9037 -0.31 0.0548 1.1845 260 107.21)" font-size="7" text-anchor="end" class="n3" dy="2.3">200</text>
<text transform="matrix(0.9144 -0.2816 0.056 1.2087 259.17 89.25)" font-size="7" text-anchor="end" class="n3" dy="2.3">400</text>
<text transform="matrix(0.9253 -0.2519 0.0571 1.2337 258.32 70.91)" font-size="7" text-anchor="end" class="n3" dy="2.3">600</text>
<text transform="matrix(0.9365 -0.2209 0.0583 1.2595 257.45 52.19)" font-size="7" text-anchor="end" class="n3" dy="2.3">800</text>
<text transform="matrix(0.9479 -0.1886 0.0595 1.2861 256.57 33.08)" font-size="7" text-anchor="end" class="n3" dy="2.3">1000</text>
<text transform="matrix(0.9596 -0.1548 0.0608 1.3136 255.66 13.57)" font-size="7" text-anchor="end" class="n3" dy="2.3">1200</text>
<text transform="matrix(1.0011 -0.3953 0.8644 0.3377 267.02 131.35)" font-size="7" text-anchor="middle" class="n3" dy="2.3">1000</text>
<text transform="matrix(1.0003 -0.4236 0.927 0.3622 285.03 138.39)" font-size="7" text-anchor="middle" class="n3" dy="2.3">3000</text>
<text transform="matrix(0.9966 -0.455 0.9966 0.3894 304.36 145.94)" font-size="7" text-anchor="middle" class="n3" dy="2.3">4000</text>
<text transform="matrix(0.9894 -0.4902 1.0744 0.4198 325.17 154.07)" font-size="7" text-anchor="middle" class="n3" dy="2.3">4500</text>
<text transform="matrix(0.9917 0.3563 -1.2929 0.7078 370.79 152.73)" font-size="7" text-anchor="start" class="n3" dy="2.3">0mm</text>
<text transform="matrix(0.9809 0.3344 -1.2141 0.6647 383.45 145.8)" font-size="7" text-anchor="start" class="n3" dy="2.3">1000mm</text>
<text transform="matrix(0.9696 0.3144 -1.1422 0.6253 395.34 139.29)" font-size="7" text-anchor="start" class="n3" dy="2.3">2000mm</text>
<text transform="matrix(0.958 0.2961 -1.0765 0.5894 406.54 133.15)" font-size="7" text-anchor="start" class="n3" dy="2.3">3000mm</text>
<text transform="matrix(0.946 0.2794 -1.0164 0.5564 417.11 127.37)" font-size="7" text-anchor="start" class="n3" dy="2.3">4000mm</text>
<text transform="matrix(0.934 0.264 -0.9611 0.5262 427.09 121.9)" font-size="7" text-anchor="start" class="n3" dy="2.3">5000mm</text>
<text transform="matrix(1.1032 0.4578 -1.1746 0.5238 283.21 150.33)" font-size="7" text-anchor="middle" class="n3" dy="2.3">Detonation distance(mm)</text>
<text transform="matrix(0.8062 -0.5051 1.3689 0.434 432.34 146.45)" font-size="7" text-anchor="middle" class="n3" dy="2.3">Pit length(mm)</text>
<text transform="translate(240 73.5) rotate(90)" font-size="9.9" text-anchor="middle" class="n" dy="3.3">Overpressure peak ( Kpa )</text>
<text x="343.45" y="196.6" font-size="18" text-anchor="middle" class="n" stroke="#000" stroke-width="0.25">(b)</text>
<line x1="502.26" y1="105.68" x2="575.42" y2="80.38" stroke="#b4b4b4" stroke-width="0.5"/>
<line x1="575.42" y1="80.38" x2="657.66" y2="101.14" stroke="#b4b4b4" stroke-width="0.5"/>
<line x1="501.45" y1="88.06" x2="575.39" y2="65.09" stroke="#b4b4b4" stroke-width="0.5"/>
<line x1="575.39" y1="65.09" x2="658.48" y2="83.96" stroke="#b4b4b4" stroke-width="0.5"/>
<line x1="500.63" y1="70.07" x2="575.37" y2="49.52" stroke="#b4b4b4" stroke-width="0.5"/>
<line x1="575.37" y1="49.52" x2="659.32" y2="66.42" stroke="#b4b4b4" stroke-width="0.5"/>
<line x1="499.79" y1="51.68" x2="575.34" y2="33.66" stroke="#b4b4b4" stroke-width="0.5"/>
<line x1="575.34" y1="33.66" x2="660.18" y2="48.51" stroke="#b4b4b4" stroke-width="0.5"/>
<line x1="498.93" y1="32.89" x2="575.32" y2="17.5" stroke="#b4b4b4" stroke-width="0.5"/>
<line x1="575.32" y1="17.5" x2="661.05" y2="30.22" stroke="#b4b4b4" stroke-width="0.5"/>
<line x1="509.99" y1="120.29" x2="505.51" y2="12.46" stroke="#b4b4b4" stroke-width="0.5"/>
<line x1="509.99" y1="120.29" x2="595.2" y2="150.74" stroke="#e0e0e0" stroke-width="0.5"/>
<line x1="523.31" y1="115.22" x2="519.81" y2="10.12" stroke="#b4b4b4" stroke-width="0.5"/>
<line x1="523.31" y1="115.22" x2="607.96" y2="143.96" stroke="#e0e0e0" stroke-width="0.5"/>
<line x1="535.95" y1="110.42" x2="533.33" y2="7.91" stroke="#b4b4b4" stroke-width="0.5"/>
<line x1="535.95" y1="110.42" x2="619.95" y2="137.58" stroke="#e0e0e0" stroke-width="0.5"/>
<line x1="547.94" y1="105.86" x2="546.12" y2="5.82" stroke="#b4b4b4" stroke-width="0.5"/>
<line x1="547.94" y1="105.86" x2="631.26" y2="131.58" stroke="#e0e0e0" stroke-width="0.5"/>
<line x1="559.35" y1="101.52" x2="558.24" y2="3.83" stroke="#b4b4b4" stroke-width="0.5"/>
<line x1="559.35" y1="101.52" x2="641.93" y2="125.91" stroke="#e0e0e0" stroke-width="0.5"/>
<line x1="570.21" y1="97.39" x2="569.75" y2="1.95" stroke="#b4b4b4" stroke-width="0.5"/>
<line x1="570.21" y1="97.39" x2="652.01" y2="120.55" stroke="#e0e0e0" stroke-width="0.5"/>
<line x1="578.72" y1="96.31" x2="578.75" y2="1.46" stroke="#b4b4b4" stroke-width="0.5"/>
<line x1="506.42" y1="124.17" x2="578.72" y2="96.31" stroke="#e0e0e0" stroke-width="0.5"/>
<line x1="595.66" y1="101.01" x2="596.69" y2="3.63" stroke="#b4b4b4" stroke-width="0.5"/>
<line x1="523.92" y1="130.59" x2="595.66" y2="101.01" stroke="#e0e0e0" stroke-width="0.5"/>
<line x1="613.57" y1="105.98" x2="615.72" y2="5.93" stroke="#b4b4b4" stroke-width="0.5"/>
<line x1="542.6" y1="137.44" x2="613.57" y2="105.98" stroke="#e0e0e0" stroke-width="0.5"/>
<line x1="632.55" y1="111.24" x2="635.94" y2="8.38" stroke="#b4b4b4" stroke-width="0.5"/>
<line x1="562.59" y1="144.78" x2="632.55" y2="111.24" stroke="#e0e0e0" stroke-width="0.5"/>
<line x1="652.68" y1="116.82" x2="657.47" y2="10.99" stroke="#b4b4b4" stroke-width="0.5"/>
<line x1="584.04" y1="152.65" x2="652.68" y2="116.82" stroke="#e0e0e0" stroke-width="0.5"/>
<line x1="575.44" y1="95.4" x2="575.29" y2="1.04" stroke="#888" stroke-width="0.9"/>
<line x1="498.05" y1="13.68" x2="575.29" y2="1.04" stroke="#444" stroke-width="0.8"/>
<line x1="575.29" y1="1.04" x2="661.95" y2="11.53" stroke="#444" stroke-width="0.8"/>
<line x1="656.85" y1="117.98" x2="661.95" y2="11.53" stroke="#444" stroke-width="0.8"/>
<line x1="575.44" y1="95.4" x2="656.85" y2="117.98" stroke="#999" stroke-width="0.5"/>
<polygon points="570.5,98.41 573.7,99.32 573.55,40.63 570.23,40.01" fill="#ff0000" stroke="rgba(0,0,0,0.45)" stroke-width="0.35" stroke-linejoin="round"/>
<polygon points="573.7,99.32 576.49,98.24 576.43,39.9 573.55,40.63" fill="#ab0000" stroke="rgba(0,0,0,0.45)" stroke-width="0.35" stroke-linejoin="round"/>
<polygon points="570.23,40.01 573.55,40.63 576.43,39.9 573.12,39.28" fill="#cc0000" stroke="rgba(0,0,0,0.45)" stroke-width="0.35" stroke-linejoin="round"/>
<polygon points="577.16,100.3 580.43,101.23 580.5,52.65 577.13,51.96" fill="#ff9c00" stroke="rgba(0,0,0,0.45)" stroke-width="0.35" stroke-linejoin="round"/>
<polygon points="580.43,101.23 583.21,100.13 583.36,51.83 580.5,52.65" fill="#ab6900" stroke="rgba(0,0,0,0.45)" stroke-width="0.35" stroke-linejoin="round"/>
<polygon points="577.13,51.96 580.5,52.65 583.36,51.83 579.99,51.15" fill="#cc7d00" stroke="rgba(0,0,0,0.45)" stroke-width="0.35" stroke-linejoin="round"/>
<polygon points="583.96,102.24 587.31,103.19 587.54,61.96 584.11,61.21" fill="#30f8c8" stroke="rgba(0,0,0,0.45)" stroke-width="0.35" stroke-linejoin="round"/>
<polygon points="587.31,103.19 590.08,102.06 590.37,61.07 587.54,61.96" fill="#20a686" stroke="rgba(0,0,0,0.45)" stroke-width="0.35" stroke-linejoin="round"/>
<polygon points="584.11,61.21 587.54,61.96 590.37,61.07 586.95,60.33" fill="#26c6a0" stroke="rgba(0,0,0,0.45)" stroke-width="0.35" stroke-linejoin="round"/>
<polygon points="559.58,102.59 562.81,103.54 562.25,43.49 558.91,42.84" fill="#ff0000" stroke="rgba(0,0,0,0.45)" stroke-width="0.35" stroke-linejoin="round"/>
<polygon points="562.81,103.54 565.73,102.41 565.29,42.72 562.25,43.49" fill="#ab0000" stroke="rgba(0,0,0,0.45)" stroke-width="0.35" stroke-linejoin="round"/>
<polygon points="558.91,42.84 562.25,43.49 565.29,42.72 561.96,42.08" fill="#cc0000" stroke="rgba(0,0,0,0.45)" stroke-width="0.35" stroke-linejoin="round"/>
<polygon points="590.93,104.22 594.35,105.2 594.71,68.53 591.21,67.74" fill="#30f8c8" stroke="rgba(0,0,0,0.45)" stroke-width="0.35" stroke-linejoin="round"/>
<polygon points="594.35,105.2 597.1,104.04 597.52,67.6 594.71,68.53" fill="#20a686" stroke="rgba(0,0,0,0.45)" stroke-width="0.35" stroke-linejoin="round"/>
<polygon points="591.21,67.74 594.71,68.53 597.52,67.6 594.02,66.82" fill="#26c6a0" stroke="rgba(0,0,0,0.45)" stroke-width="0.35" stroke-linejoin="round"/>
<polygon points="566.28,104.58 569.58,105.56 569.32,55.84 565.93,55.11" fill="#ff9c00" stroke="rgba(0,0,0,0.45)" stroke-width="0.35" stroke-linejoin="round"/>
<polygon points="569.58,105.56 572.5,104.39 572.33,54.98 569.32,55.84" fill="#ab6900" stroke="rgba(0,0,0,0.45)" stroke-width="0.35" stroke-linejoin="round"/>
<polygon points="565.93,55.11 569.32,55.84 572.33,54.98 568.94,54.27" fill="#cc7d00" stroke="rgba(0,0,0,0.45)" stroke-width="0.35" stroke-linejoin="round"/>
<polygon points="598.05,106.25 601.56,107.25 602.04,72.92 598.46,72.1" fill="#1414f0" stroke="rgba(0,0,0,0.45)" stroke-width="0.35" stroke-linejoin="round"/>
<polygon points="601.56,107.25 604.29,106.06 604.83,71.94 602.04,72.92" fill="#0d0da1" stroke="rgba(0,0,0,0.45)" stroke-width="0.35" stroke-linejoin="round"/>
<polygon points="598.46,72.1 602.04,72.92 604.83,71.94 601.25,71.13" fill="#1010c0" stroke="rgba(0,0,0,0.45)" stroke-width="0.35" stroke-linejoin="round"/>
<polygon points="573.14,106.61 576.51,107.62 576.47,65.41 573.01,64.63" fill="#30f8c8" stroke="rgba(0,0,0,0.45)" stroke-width="0.35" stroke-linejoin="round"/>
<polygon points="576.51,107.62 579.42,106.43 579.45,64.48 576.47,65.41" fill="#20a686" stroke="rgba(0,0,0,0.45)" stroke-width="0.35" stroke-linejoin="round"/>
<polygon points="573.01,64.63 576.47,65.41 579.45,64.48 576,63.71" fill="#26c6a0" stroke="rgba(0,0,0,0.45)" stroke-width="0.35" stroke-linejoin="round"/>
<polygon points="548.11,106.98 551.35,107.99 550.36,46.51 547,45.82" fill="#ff0000" stroke="rgba(0,0,0,0.45)" stroke-width="0.35" stroke-linejoin="round"/>
<polygon points="551.35,107.99 554.43,106.79 553.56,45.69 550.36,46.51" fill="#ab0000" stroke="rgba(0,0,0,0.45)" stroke-width="0.35" stroke-linejoin="round"/>
<polygon points="547,45.82 550.36,46.51 553.56,45.69 550.21,45.02" fill="#cc0000" stroke="rgba(0,0,0,0.45)" stroke-width="0.35" stroke-linejoin="round"/>
<polygon points="605.34,108.32 608.93,109.35 609.52,77.56 605.86,76.7" fill="#1414f0" stroke="rgba(0,0,0,0.45)" stroke-width="0.35" stroke-linejoin="round"/>
<polygon points="608.93,109.35 611.64,108.13 612.28,76.55 609.52,77.56" fill="#0d0da1" stroke="rgba(0,0,0,0.45)" stroke-width="0.35" stroke-linejoin="round"/>
<polygon points="605.86,76.7 609.52,77.56 612.28,76.55 608.63,75.7" fill="#1010c0" stroke="rgba(0,0,0,0.45)" stroke-width="0.35" stroke-linejoin="round"/>
<polygon points="580.15,108.7 583.61,109.72 583.73,72.19 580.2,71.36" fill="#30f8c8" stroke="rgba(0,0,0,0.45)" stroke-width="0.35" stroke-linejoin="round"/>
<polygon points="583.61,109.72 586.5,108.51 586.69,71.21 583.73,72.19" fill="#20a686" stroke="rgba(0,0,0,0.45)" stroke-width="0.35" stroke-linejoin="round"/>
<polygon points="580.2,71.36 583.73,72.19 586.69,71.21 583.16,70.39" fill="#26c6a0" stroke="rgba(0,0,0,0.45)" stroke-width="0.35" stroke-linejoin="round"/>
<polygon points="554.85,109.07 558.17,110.1 557.55,59.2 554.13,58.44" fill="#ff9c00" stroke="rgba(0,0,0,0.45)" stroke-width="0.35" stroke-linejoin="round"/>
<polygon points="558.17,110.1 561.24,108.88 560.72,58.3 557.55,59.2" fill="#ab6900" stroke="rgba(0,0,0,0.45)" stroke-width="0.35" stroke-linejoin="round"/>
<polygon points="554.13,58.44 557.55,59.2 560.72,58.3 557.31,57.54" fill="#cc7d00" stroke="rgba(0,0,0,0.45)" stroke-width="0.35" stroke-linejoin="round"/>
<polygon points="612.8,110.45 616.47,111.49 617.18,81.3 613.43,80.41" fill="#1414f0" stroke="rgba(0,0,0,0.45)" stroke-width="0.35" stroke-linejoin="round"/>
<polygon points="616.47,111.49 619.17,110.25 619.91,80.24 617.18,81.3" fill="#0d0da1" stroke="rgba(0,0,0,0.45)" stroke-width="0.35" stroke-linejoin="round"/>
<polygon points="613.43,80.41 617.18,81.3 619.91,80.24 616.18,79.37" fill="#1010c0" stroke="rgba(0,0,0,0.45)" stroke-width="0.35" stroke-linejoin="round"/>
<polygon points="587.33,110.83 590.87,111.88 591.14,76.74 587.53,75.87" fill="#1414f0" stroke="rgba(0,0,0,0.45)" stroke-width="0.35" stroke-linejoin="round"/>
<polygon points="590.87,111.88 593.74,110.63 594.07,75.71 591.14,76.74" fill="#0d0da1" stroke="rgba(0,0,0,0.45)" stroke-width="0.35" stroke-linejoin="round"/>
<polygon points="587.53,75.87 591.14,76.74 594.07,75.71 590.47,74.85" fill="#1010c0" stroke="rgba(0,0,0,0.45)" stroke-width="0.35" stroke-linejoin="round"/>
<polygon points="536.04,111.6 539.3,112.66 537.81,49.68 534.44,48.96" fill="#ff0000" stroke="rgba(0,0,0,0.45)" stroke-width="0.35" stroke-linejoin="round"/>
<polygon points="539.3,112.66 542.54,111.4 541.19,48.83 537.81,49.68" fill="#ab0000" stroke="rgba(0,0,0,0.45)" stroke-width="0.35" stroke-linejoin="round"/>
<polygon points="534.44,48.96 537.81,49.68 541.19,48.83 537.82,48.11" fill="#cc0000" stroke="rgba(0,0,0,0.45)" stroke-width="0.35" stroke-linejoin="round"/>
<polygon points="561.75,111.21 565.14,112.27 564.8,69.05 561.32,68.23" fill="#30f8c8" stroke="rgba(0,0,0,0.45)" stroke-width="0.35" stroke-linejoin="round"/>
<polygon points="565.14,112.27 568.2,111.02 567.94,68.07 564.8,69.05" fill="#20a686" stroke="rgba(0,0,0,0.45)" stroke-width="0.35" stroke-linejoin="round"/>
<polygon points="561.32,68.23 564.8,69.05 567.94,68.07 564.47,67.26" fill="#26c6a0" stroke="rgba(0,0,0,0.45)" stroke-width="0.35" stroke-linejoin="round"/>
<polygon points="620.44,112.62 624.2,113.69 625,85.03 621.17,84.11" fill="#6c0070" stroke="rgba(0,0,0,0.45)" stroke-width="0.35" stroke-linejoin="round"/>
<polygon points="624.2,113.69 626.87,112.42 627.72,83.94 625,85.03" fill="#48004b" stroke="rgba(0,0,0,0.45)" stroke-width="0.35" stroke-linejoin="round"/>
<polygon points="621.17,84.11 625,85.03 627.72,83.94 623.89,83.03" fill="#56005a" stroke="rgba(0,0,0,0.45)" stroke-width="0.35" stroke-linejoin="round"/>
<polygon points="594.68,113.01 598.31,114.09 598.71,81.54 595.01,80.64" fill="#1414f0" stroke="rgba(0,0,0,0.45)" stroke-width="0.35" stroke-linejoin="round"/>
<polygon points="598.31,114.09 601.16,112.81 601.62,80.47 598.71,81.54" fill="#0d0da1" stroke="rgba(0,0,0,0.45)" stroke-width="0.35" stroke-linejoin="round"/>
<polygon points="595.01,80.64 598.71,81.54 601.62,80.47 597.93,79.58" fill="#1010c0" stroke="rgba(0,0,0,0.45)" stroke-width="0.35" stroke-linejoin="round"/>
<polygon points="542.81,113.8 546.15,114.89 545.13,62.75 541.7,61.94" fill="#ff9c00" stroke="rgba(0,0,0,0.45)" stroke-width="0.35" stroke-linejoin="round"/>
<polygon points="546.15,114.89 549.38,113.6 548.48,61.79 545.13,62.75" fill="#ab6900" stroke="rgba(0,0,0,0.45)" stroke-width="0.35" stroke-linejoin="round"/>
<polygon points="541.7,61.94 545.13,62.75 548.48,61.79 545.05,61" fill="#cc7d00" stroke="rgba(0,0,0,0.45)" stroke-width="0.35" stroke-linejoin="round"/>
<polygon points="568.81,113.41 572.29,114.49 572.15,76.05 568.59,75.18" fill="#30f8c8" stroke="rgba(0,0,0,0.45)" stroke-width="0.35" stroke-linejoin="round"/>
<polygon points="572.29,114.49 575.33,113.21 575.27,75.01 572.15,76.05" fill="#20a686" stroke="rgba(0,0,0,0.45)" stroke-width="0.35" stroke-linejoin="round"/>
<polygon points="568.59,75.18 572.15,76.05 575.27,75.01 571.72,74.15" fill="#26c6a0" stroke="rgba(0,0,0,0.45)" stroke-width="0.35" stroke-linejoin="round"/>
<polygon points="628.26,114.85 632.11,115.94 633.01,88.68 629.09,87.72" fill="#6c0070" stroke="rgba(0,0,0,0.45)" stroke-width="0.35" stroke-linejoin="round"/>
<polygon points="632.11,115.94 634.76,114.64 635.7,87.55 633.01,88.68" fill="#48004b" stroke="rgba(0,0,0,0.45)" stroke-width="0.35" stroke-linejoin="round"/>
<polygon points="629.09,87.72 633.01,88.68 635.7,87.55 631.79,86.61" fill="#56005a" stroke="rgba(0,0,0,0.45)" stroke-width="0.35" stroke-linejoin="round"/>
<polygon points="602.21,115.25 605.93,116.35 606.45,85.43 602.66,84.49" fill="#1414f0" stroke="rgba(0,0,0,0.45)" stroke-width="0.35" stroke-linejoin="round"/>
<polygon points="605.93,116.35 608.76,115.04 609.34,84.31 606.45,85.43" fill="#0d0da1" stroke="rgba(0,0,0,0.45)" stroke-width="0.35" stroke-linejoin="round"/>
<polygon points="602.66,84.49 606.45,85.43 609.34,84.31 605.56,83.39" fill="#1010c0" stroke="rgba(0,0,0,0.45)" stroke-width="0.35" stroke-linejoin="round"/>
<polygon points="523.32,116.47 526.59,117.59 524.01,35.23 520.6,34.57" fill="#6a0000" stroke="rgba(0,0,0,0.45)" stroke-width="0.35" stroke-linejoin="round"/>
<polygon points="526.59,117.59 530.01,116.26 527.62,34.45 524.01,35.23" fill="#470000" stroke="rgba(0,0,0,0.45)" stroke-width="0.35" stroke-linejoin="round"/>
<polygon points="520.6,34.57 524.01,35.23 527.62,34.45 524.21,33.8" fill="#550000" stroke="rgba(0,0,0,0.45)" stroke-width="0.35" stroke-linejoin="round"/>
<polygon points="576.04,115.65 579.61,116.76 579.64,80.76 576,79.85" fill="#1414f0" stroke="rgba(0,0,0,0.45)" stroke-width="0.35" stroke-linejoin="round"/>
<polygon points="579.61,116.76 582.64,115.45 582.74,79.68 579.64,80.76" fill="#0d0da1" stroke="rgba(0,0,0,0.45)" stroke-width="0.35" stroke-linejoin="round"/>
<polygon points="576,79.85 579.64,80.76 582.74,79.68 579.1,78.78" fill="#1010c0" stroke="rgba(0,0,0,0.45)" stroke-width="0.35" stroke-linejoin="round"/>
<polygon points="549.75,116.06 553.17,117.17 552.49,72.9 548.99,72.02" fill="#30f8c8" stroke="rgba(0,0,0,0.45)" stroke-width="0.35" stroke-linejoin="round"/>
<polygon points="553.17,117.17 556.39,115.85 555.81,71.86 552.49,72.9" fill="#20a686" stroke="rgba(0,0,0,0.45)" stroke-width="0.35" stroke-linejoin="round"/>
<polygon points="548.99,72.02 552.49,72.9 555.81,71.86 552.31,71" fill="#26c6a0" stroke="rgba(0,0,0,0.45)" stroke-width="0.35" stroke-linejoin="round"/>
<polygon points="636.27,117.13 640.22,118.25 641.2,92.41 637.18,91.42" fill="#6c0070" stroke="rgba(0,0,0,0.45)" stroke-width="0.35" stroke-linejoin="round"/>
<polygon points="640.22,118.25 642.85,116.92 643.86,91.24 641.2,92.41" fill="#48004b" stroke="rgba(0,0,0,0.45)" stroke-width="0.35" stroke-linejoin="round"/>
<polygon points="637.18,91.42 641.2,92.41 643.86,91.24 639.85,90.26" fill="#56005a" stroke="rgba(0,0,0,0.45)" stroke-width="0.35" stroke-linejoin="round"/>
<polygon points="609.93,117.54 613.73,118.67 614.37,89.31 610.49,88.34" fill="#6c0070" stroke="rgba(0,0,0,0.45)" stroke-width="0.35" stroke-linejoin="round"/>
<polygon points="613.73,118.67 616.55,117.33 617.23,88.16 614.37,89.31" fill="#48004b" stroke="rgba(0,0,0,0.45)" stroke-width="0.35" stroke-linejoin="round"/>
<polygon points="610.49,88.34 614.37,89.31 617.23,88.16 613.37,87.2" fill="#56005a" stroke="rgba(0,0,0,0.45)" stroke-width="0.35" stroke-linejoin="round"/>
<polygon points="644.49,119.47 648.53,120.62 649.61,95.53 645.49,94.51" fill="#6c0070" stroke="rgba(0,0,0,0.45)" stroke-width="0.35" stroke-linejoin="round"/>
<polygon points="648.53,120.62 651.13,119.25 652.24,94.32 649.61,95.53" fill="#48004b" stroke="rgba(0,0,0,0.45)" stroke-width="0.35" stroke-linejoin="round"/>
<polygon points="645.49,94.51 649.61,95.53 652.24,94.32 648.14,93.32" fill="#56005a" stroke="rgba(0,0,0,0.45)" stroke-width="0.35" stroke-linejoin="round"/>
<polygon points="530.12,118.79 533.47,119.94 531.92,62.89 528.46,62.06" fill="#ff9c00" stroke="rgba(0,0,0,0.45)" stroke-width="0.35" stroke-linejoin="round"/>
<polygon points="533.47,119.94 536.89,118.58 535.46,61.91 531.92,62.89" fill="#ab6900" stroke="rgba(0,0,0,0.45)" stroke-width="0.35" stroke-linejoin="round"/>
<polygon points="528.46,62.06 531.92,62.89 535.46,61.91 532.01,61.09" fill="#cc7d00" stroke="rgba(0,0,0,0.45)" stroke-width="0.35" stroke-linejoin="round"/>
<polygon points="583.46,117.96 587.11,119.09 587.29,85.75 583.56,84.79" fill="#1414f0" stroke="rgba(0,0,0,0.45)" stroke-width="0.35" stroke-linejoin="round"/>
<polygon points="587.11,119.09 590.12,117.74 590.37,84.62 587.29,85.75" fill="#0d0da1" stroke="rgba(0,0,0,0.45)" stroke-width="0.35" stroke-linejoin="round"/>
<polygon points="583.56,84.79 587.29,85.75 590.37,84.62 586.65,83.67" fill="#1010c0" stroke="rgba(0,0,0,0.45)" stroke-width="0.35" stroke-linejoin="round"/>
<polygon points="556.85,118.37 560.36,119.51 559.93,80.13 556.35,79.2" fill="#30f8c8" stroke="rgba(0,0,0,0.45)" stroke-width="0.35" stroke-linejoin="round"/>
<polygon points="560.36,119.51 563.57,118.16 563.22,79.03 559.93,80.13" fill="#20a686" stroke="rgba(0,0,0,0.45)" stroke-width="0.35" stroke-linejoin="round"/>
<polygon points="556.35,79.2 559.93,80.13 563.22,79.03 559.65,78.12" fill="#26c6a0" stroke="rgba(0,0,0,0.45)" stroke-width="0.35" stroke-linejoin="round"/>
<polygon points="617.83,119.89 621.73,121.05 622.47,93.11 618.51,92.1" fill="#6c0070" stroke="rgba(0,0,0,0.45)" stroke-width="0.35" stroke-linejoin="round"/>
<polygon points="621.73,121.05 624.53,119.67 625.31,91.91 622.47,93.11" fill="#48004b" stroke="rgba(0,0,0,0.45)" stroke-width="0.35" stroke-linejoin="round"/>
<polygon points="618.51,92.1 622.47,93.11 625.31,91.91 621.36,90.92" fill="#56005a" stroke="rgba(0,0,0,0.45)" stroke-width="0.35" stroke-linejoin="round"/>
<polygon points="509.91,121.6 513.19,122.78 511.21,72.96 507.85,72.05" fill="#c0f400" stroke="rgba(0,0,0,0.45)" stroke-width="0.35" stroke-linejoin="round"/>
<polygon points="513.19,122.78 516.8,121.38 514.95,71.89 511.21,72.96" fill="#81a300" stroke="rgba(0,0,0,0.45)" stroke-width="0.35" stroke-linejoin="round"/>
<polygon points="507.85,72.05 511.21,72.96 514.95,71.89 511.58,71" fill="#9ac300" stroke="rgba(0,0,0,0.45)" stroke-width="0.35" stroke-linejoin="round"/>
<polygon points="591.05,120.32 594.8,121.48 595.12,89.79 591.3,88.79" fill="#1414f0" stroke="rgba(0,0,0,0.45)" stroke-width="0.35" stroke-linejoin="round"/>
<polygon points="594.8,121.48 597.79,120.1 598.17,88.61 595.12,89.79" fill="#0d0da1" stroke="rgba(0,0,0,0.45)" stroke-width="0.35" stroke-linejoin="round"/>
<polygon points="591.3,88.79 595.12,89.79 598.17,88.61 594.36,87.63" fill="#1010c0" stroke="rgba(0,0,0,0.45)" stroke-width="0.35" stroke-linejoin="round"/>
<polygon points="537.09,121.17 540.53,122.35 539.45,75.43 535.92,74.51" fill="#c0f400" stroke="rgba(0,0,0,0.45)" stroke-width="0.35" stroke-linejoin="round"/>
<polygon points="540.53,122.35 543.93,120.95 542.96,74.35 539.45,75.43" fill="#81a300" stroke="rgba(0,0,0,0.45)" stroke-width="0.35" stroke-linejoin="round"/>
<polygon points="535.92,74.51 539.45,75.43 542.96,74.35 539.44,73.44" fill="#9ac300" stroke="rgba(0,0,0,0.45)" stroke-width="0.35" stroke-linejoin="round"/>
<polygon points="564.14,120.74 567.73,121.91 567.49,85.01 563.82,84.05" fill="#1414f0" stroke="rgba(0,0,0,0.45)" stroke-width="0.35" stroke-linejoin="round"/>
<polygon points="567.73,121.91 570.93,120.52 570.77,83.87 567.49,85.01" fill="#0d0da1" stroke="rgba(0,0,0,0.45)" stroke-width="0.35" stroke-linejoin="round"/>
<polygon points="563.82,84.05 567.49,85.01 570.77,83.87 567.1,82.91" fill="#1010c0" stroke="rgba(0,0,0,0.45)" stroke-width="0.35" stroke-linejoin="round"/>
<polygon points="625.94,122.3 629.93,123.48 630.77,96.99 626.71,95.95" fill="#6c0070" stroke="rgba(0,0,0,0.45)" stroke-width="0.35" stroke-linejoin="round"/>
<polygon points="629.93,123.48 632.71,122.07 633.58,95.76 630.77,96.99" fill="#48004b" stroke="rgba(0,0,0,0.45)" stroke-width="0.35" stroke-linejoin="round"/>
<polygon points="626.71,95.95 630.77,96.99 633.58,95.76 629.53,94.73" fill="#56005a" stroke="rgba(0,0,0,0.45)" stroke-width="0.35" stroke-linejoin="round"/>
<polygon points="516.73,124.06 520.09,125.27 518.47,79.52 515.02,78.57" fill="#30f8c8" stroke="rgba(0,0,0,0.45)" stroke-width="0.35" stroke-linejoin="round"/>
<polygon points="520.09,125.27 523.69,123.83 522.18,78.39 518.47,79.52" fill="#20a686" stroke="rgba(0,0,0,0.45)" stroke-width="0.35" stroke-linejoin="round"/>
<polygon points="515.02,78.57 518.47,79.52 522.18,78.39 518.74,77.45" fill="#26c6a0" stroke="rgba(0,0,0,0.45)" stroke-width="0.35" stroke-linejoin="round"/>
<polygon points="598.84,122.73 602.68,123.93 603.13,93.83 599.22,92.8" fill="#6c0070" stroke="rgba(0,0,0,0.45)" stroke-width="0.35" stroke-linejoin="round"/>
<polygon points="602.68,123.93 605.66,122.51 606.16,92.61 603.13,93.83" fill="#48004b" stroke="rgba(0,0,0,0.45)" stroke-width="0.35" stroke-linejoin="round"/>
<polygon points="599.22,92.8 603.13,93.83 606.16,92.61 602.26,91.6" fill="#56005a" stroke="rgba(0,0,0,0.45)" stroke-width="0.35" stroke-linejoin="round"/>
<polygon points="544.23,123.61 547.76,124.82 546.99,83.53 543.38,82.56" fill="#30f8c8" stroke="rgba(0,0,0,0.45)" stroke-width="0.35" stroke-linejoin="round"/>
<polygon points="547.76,124.82 551.15,123.39 550.48,82.38 546.99,83.53" fill="#20a686" stroke="rgba(0,0,0,0.45)" stroke-width="0.35" stroke-linejoin="round"/>
<polygon points="543.38,82.56 546.99,83.53 550.48,82.38 546.87,81.42" fill="#26c6a0" stroke="rgba(0,0,0,0.45)" stroke-width="0.35" stroke-linejoin="round"/>
<polygon points="571.6,123.17 575.29,124.37 575.23,90.19 571.47,89.18" fill="#1414f0" stroke="rgba(0,0,0,0.45)" stroke-width="0.35" stroke-linejoin="round"/>
<polygon points="575.29,124.37 578.47,122.95 578.48,88.99 575.23,90.19" fill="#0d0da1" stroke="rgba(0,0,0,0.45)" stroke-width="0.35" stroke-linejoin="round"/>
<polygon points="571.47,89.18 575.23,90.19 578.48,88.99 574.73,88" fill="#1010c0" stroke="rgba(0,0,0,0.45)" stroke-width="0.35" stroke-linejoin="round"/>
<polygon points="634.25,124.76 638.35,125.98 639.29,100.26 635.13,99.18" fill="#6c0070" stroke="rgba(0,0,0,0.45)" stroke-width="0.35" stroke-linejoin="round"/>
<polygon points="638.35,125.98 641.09,124.54 642.07,98.98 639.29,100.26" fill="#48004b" stroke="rgba(0,0,0,0.45)" stroke-width="0.35" stroke-linejoin="round"/>
<polygon points="635.13,99.18 639.29,100.26 642.07,98.98 637.92,97.92" fill="#56005a" stroke="rgba(0,0,0,0.45)" stroke-width="0.35" stroke-linejoin="round"/>
<polygon points="606.82,125.21 610.76,126.44 611.34,97.79 607.32,96.72" fill="#6c0070" stroke="rgba(0,0,0,0.45)" stroke-width="0.35" stroke-linejoin="round"/>
<polygon points="610.76,126.44 613.72,124.98 614.34,96.53 611.34,97.79" fill="#48004b" stroke="rgba(0,0,0,0.45)" stroke-width="0.35" stroke-linejoin="round"/>
<polygon points="607.32,96.72 611.34,97.79 614.34,96.53 610.34,95.48" fill="#56005a" stroke="rgba(0,0,0,0.45)" stroke-width="0.35" stroke-linejoin="round"/>
<polygon points="523.72,126.57 527.17,127.81 525.83,84.85 522.3,83.85" fill="#30f8c8" stroke="rgba(0,0,0,0.45)" stroke-width="0.35" stroke-linejoin="round"/>
<polygon points="527.17,127.81 530.77,126.34 529.53,83.66 525.83,84.85" fill="#20a686" stroke="rgba(0,0,0,0.45)" stroke-width="0.35" stroke-linejoin="round"/>
<polygon points="522.3,83.85 525.83,84.85 529.53,83.66 526,82.68" fill="#26c6a0" stroke="rgba(0,0,0,0.45)" stroke-width="0.35" stroke-linejoin="round"/>
<polygon points="579.26,125.66 583.04,126.89 583.14,94.4 579.29,93.35" fill="#1414f0" stroke="rgba(0,0,0,0.45)" stroke-width="0.35" stroke-linejoin="round"/>
<polygon points="583.04,126.89 586.21,125.43 586.37,93.15 583.14,94.4" fill="#0d0da1" stroke="rgba(0,0,0,0.45)" stroke-width="0.35" stroke-linejoin="round"/>
<polygon points="579.29,93.35 583.14,94.4 586.37,93.15 582.52,92.12" fill="#1010c0" stroke="rgba(0,0,0,0.45)" stroke-width="0.35" stroke-linejoin="round"/>
<polygon points="551.56,126.12 555.18,127.35 554.64,89.24 550.95,88.22" fill="#1414f0" stroke="rgba(0,0,0,0.45)" stroke-width="0.35" stroke-linejoin="round"/>
<polygon points="555.18,127.35 558.56,125.89 558.1,88.03 554.64,89.24" fill="#0d0da1" stroke="rgba(0,0,0,0.45)" stroke-width="0.35" stroke-linejoin="round"/>
<polygon points="550.95,88.22 554.64,89.24 558.1,88.03 554.42,87.02" fill="#1010c0" stroke="rgba(0,0,0,0.45)" stroke-width="0.35" stroke-linejoin="round"/>
<polygon points="615.02,127.76 619.06,129.01 619.74,101.85 615.63,100.74" fill="#6c0070" stroke="rgba(0,0,0,0.45)" stroke-width="0.35" stroke-linejoin="round"/>
<polygon points="619.06,129.01 621.99,127.52 622.71,100.54 619.74,101.85" fill="#48004b" stroke="rgba(0,0,0,0.45)" stroke-width="0.35" stroke-linejoin="round"/>
<polygon points="615.63,100.74 619.74,101.85 622.71,100.54 618.61,99.45" fill="#56005a" stroke="rgba(0,0,0,0.45)" stroke-width="0.35" stroke-linejoin="round"/>
<polygon points="530.89,129.15 534.43,130.43 533.35,90.02 529.73,88.97" fill="#1414f0" stroke="rgba(0,0,0,0.45)" stroke-width="0.35" stroke-linejoin="round"/>
<polygon points="534.43,130.43 538.02,128.92 537.04,88.78 533.35,90.02" fill="#0d0da1" stroke="rgba(0,0,0,0.45)" stroke-width="0.35" stroke-linejoin="round"/>
<polygon points="529.73,88.97 533.35,90.02 537.04,88.78 533.42,87.75" fill="#1010c0" stroke="rgba(0,0,0,0.45)" stroke-width="0.35" stroke-linejoin="round"/>
<polygon points="587.12,128.22 590.99,129.48 591.24,98.61 587.29,97.52" fill="#6c0070" stroke="rgba(0,0,0,0.45)" stroke-width="0.35" stroke-linejoin="round"/>
<polygon points="590.99,129.48 594.14,127.98 594.44,97.32 591.24,98.61" fill="#48004b" stroke="rgba(0,0,0,0.45)" stroke-width="0.35" stroke-linejoin="round"/>
<polygon points="587.29,97.52 591.24,98.61 594.44,97.32 590.5,96.25" fill="#56005a" stroke="rgba(0,0,0,0.45)" stroke-width="0.35" stroke-linejoin="round"/>
<polygon points="559.08,128.69 562.79,129.95 562.46,94.71 558.67,93.64" fill="#1414f0" stroke="rgba(0,0,0,0.45)" stroke-width="0.35" stroke-linejoin="round"/>
<polygon points="562.79,129.95 566.16,128.45 565.9,93.44 562.46,94.71" fill="#0d0da1" stroke="rgba(0,0,0,0.45)" stroke-width="0.35" stroke-linejoin="round"/>
<polygon points="558.67,93.64 562.46,94.71 565.9,93.44 562.12,92.39" fill="#1010c0" stroke="rgba(0,0,0,0.45)" stroke-width="0.35" stroke-linejoin="round"/>
<polygon points="623.42,130.37 627.57,131.66 628.37,105.27 624.15,104.13" fill="#6c0070" stroke="rgba(0,0,0,0.45)" stroke-width="0.35" stroke-linejoin="round"/>
<polygon points="627.57,131.66 630.48,130.13 631.32,103.92 628.37,105.27" fill="#48004b" stroke="rgba(0,0,0,0.45)" stroke-width="0.35" stroke-linejoin="round"/>
<polygon points="624.15,104.13 628.37,105.27 631.32,103.92 627.11,102.8" fill="#56005a" stroke="rgba(0,0,0,0.45)" stroke-width="0.35" stroke-linejoin="round"/>
<polygon points="595.18,130.84 599.16,132.14 599.54,102.75 595.49,101.62" fill="#6c0070" stroke="rgba(0,0,0,0.45)" stroke-width="0.35" stroke-linejoin="round"/>
<polygon points="599.16,132.14 602.29,130.6 602.72,101.41 599.54,102.75" fill="#48004b" stroke="rgba(0,0,0,0.45)" stroke-width="0.35" stroke-linejoin="round"/>
<polygon points="595.49,101.62 599.54,102.75 602.72,101.41 598.68,100.3" fill="#56005a" stroke="rgba(0,0,0,0.45)" stroke-width="0.35" stroke-linejoin="round"/>
<polygon points="538.26,131.8 541.89,133.11 541.04,94.93 537.33,93.85" fill="#1414f0" stroke="rgba(0,0,0,0.45)" stroke-width="0.35" stroke-linejoin="round"/>
<polygon points="541.89,133.11 545.47,131.56 544.71,93.64 541.04,94.93" fill="#0d0da1" stroke="rgba(0,0,0,0.45)" stroke-width="0.35" stroke-linejoin="round"/>
<polygon points="537.33,93.85 541.04,94.93 544.71,93.64 541,92.57" fill="#1010c0" stroke="rgba(0,0,0,0.45)" stroke-width="0.35" stroke-linejoin="round"/>
<polygon points="566.79,131.32 570.6,132.62 570.45,99.28 566.56,98.17" fill="#1414f0" stroke="rgba(0,0,0,0.45)" stroke-width="0.35" stroke-linejoin="round"/>
<polygon points="570.6,132.62 573.95,131.08 573.87,97.96 570.45,99.28" fill="#0d0da1" stroke="rgba(0,0,0,0.45)" stroke-width="0.35" stroke-linejoin="round"/>
<polygon points="566.56,98.17 570.45,99.28 573.87,97.96 569.99,96.87" fill="#1010c0" stroke="rgba(0,0,0,0.45)" stroke-width="0.35" stroke-linejoin="round"/>
<polygon points="603.46,133.54 607.54,134.87 608.05,106.99 603.89,105.82" fill="#6c0070" stroke="rgba(0,0,0,0.45)" stroke-width="0.35" stroke-linejoin="round"/>
<polygon points="607.54,134.87 610.65,133.29 611.2,105.6 608.05,106.99" fill="#48004b" stroke="rgba(0,0,0,0.45)" stroke-width="0.35" stroke-linejoin="round"/>
<polygon points="603.89,105.82 608.05,106.99 611.2,105.6 607.05,104.45" fill="#56005a" stroke="rgba(0,0,0,0.45)" stroke-width="0.35" stroke-linejoin="round"/>
<polygon points="574.71,134.03 578.62,135.36 578.63,103.68 574.65,102.53" fill="#6c0070" stroke="rgba(0,0,0,0.45)" stroke-width="0.35" stroke-linejoin="round"/>
<polygon points="578.62,135.36 581.96,133.78 582.03,102.32 578.63,103.68" fill="#48004b" stroke="rgba(0,0,0,0.45)" stroke-width="0.35" stroke-linejoin="round"/>
<polygon points="574.65,102.53 578.63,103.68 582.03,102.32 578.06,101.18" fill="#56005a" stroke="rgba(0,0,0,0.45)" stroke-width="0.35" stroke-linejoin="round"/>
<polygon points="545.82,134.52 549.55,135.87 548.92,99.88 545.11,98.74" fill="#1414f0" stroke="rgba(0,0,0,0.45)" stroke-width="0.35" stroke-linejoin="round"/>
<polygon points="549.55,135.87 553.12,134.27 552.57,98.53 548.92,99.88" fill="#0d0da1" stroke="rgba(0,0,0,0.45)" stroke-width="0.35" stroke-linejoin="round"/>
<polygon points="545.11,98.74 548.92,99.88 552.57,98.53 548.77,97.41" fill="#1010c0" stroke="rgba(0,0,0,0.45)" stroke-width="0.35" stroke-linejoin="round"/>
<polygon points="611.96,136.3 616.15,137.67 616.79,110.58 612.52,109.37" fill="#6c0070" stroke="rgba(0,0,0,0.45)" stroke-width="0.35" stroke-linejoin="round"/>
<polygon points="616.15,137.67 619.23,136.05 619.91,109.15 616.79,110.58" fill="#48004b" stroke="rgba(0,0,0,0.45)" stroke-width="0.35" stroke-linejoin="round"/>
<polygon points="612.52,109.37 616.79,110.58 619.91,109.15 615.66,107.96" fill="#56005a" stroke="rgba(0,0,0,0.45)" stroke-width="0.35" stroke-linejoin="round"/>
<polygon points="582.85,136.81 586.86,138.18 587.02,108.01 582.93,106.81" fill="#6c0070" stroke="rgba(0,0,0,0.45)" stroke-width="0.35" stroke-linejoin="round"/>
<polygon points="586.86,138.18 590.18,136.55 590.4,106.59 587.02,108.01" fill="#48004b" stroke="rgba(0,0,0,0.45)" stroke-width="0.35" stroke-linejoin="round"/>
<polygon points="582.93,106.81 587.02,108.01 590.4,106.59 586.32,105.41" fill="#56005a" stroke="rgba(0,0,0,0.45)" stroke-width="0.35" stroke-linejoin="round"/>
<polygon points="553.58,137.32 557.41,138.7 556.98,104.65 553.07,103.47" fill="#6c0070" stroke="rgba(0,0,0,0.45)" stroke-width="0.35" stroke-linejoin="round"/>
<polygon points="557.41,138.7 560.97,137.06 560.61,103.25 556.98,104.65" fill="#48004b" stroke="rgba(0,0,0,0.45)" stroke-width="0.35" stroke-linejoin="round"/>
<polygon points="553.07,103.47 556.98,104.65 560.61,103.25 556.71,102.09" fill="#56005a" stroke="rgba(0,0,0,0.45)" stroke-width="0.35" stroke-linejoin="round"/>
<polygon points="591.2,139.66 595.33,141.07 595.63,112.45 591.43,111.2" fill="#6c0070" stroke="rgba(0,0,0,0.45)" stroke-width="0.35" stroke-linejoin="round"/>
<polygon points="595.33,141.07 598.62,139.4 598.98,110.97 595.63,112.45" fill="#48004b" stroke="rgba(0,0,0,0.45)" stroke-width="0.35" stroke-linejoin="round"/>
<polygon points="591.43,111.2 595.63,112.45 598.98,110.97 594.79,109.75" fill="#56005a" stroke="rgba(0,0,0,0.45)" stroke-width="0.35" stroke-linejoin="round"/>
<polygon points="561.56,140.19 565.5,141.61 565.25,109.07 561.23,107.84" fill="#6c0070" stroke="rgba(0,0,0,0.45)" stroke-width="0.35" stroke-linejoin="round"/>
<polygon points="565.5,141.61 569.04,139.92 568.86,107.61 565.25,109.07" fill="#48004b" stroke="rgba(0,0,0,0.45)" stroke-width="0.35" stroke-linejoin="round"/>
<polygon points="561.23,107.84 565.25,109.07 568.86,107.61 564.85,106.41" fill="#56005a" stroke="rgba(0,0,0,0.45)" stroke-width="0.35" stroke-linejoin="round"/>
<polygon points="599.79,142.6 604.03,144.05 604.48,116.23 600.16,114.94" fill="#6c0070" stroke="rgba(0,0,0,0.45)" stroke-width="0.35" stroke-linejoin="round"/>
<polygon points="604.03,144.05 607.3,142.33 607.8,114.7 604.48,116.23" fill="#48004b" stroke="rgba(0,0,0,0.45)" stroke-width="0.35" stroke-linejoin="round"/>
<polygon points="600.16,114.94 604.48,116.23 607.8,114.7 603.5,113.44" fill="#56005a" stroke="rgba(0,0,0,0.45)" stroke-width="0.35" stroke-linejoin="round"/>
<polygon points="569.76,143.14 573.81,144.6 573.73,113.6 569.6,112.33" fill="#6c0070" stroke="rgba(0,0,0,0.45)" stroke-width="0.35" stroke-linejoin="round"/>
<polygon points="573.81,144.6 577.33,142.86 577.32,112.09 573.73,113.6" fill="#48004b" stroke="rgba(0,0,0,0.45)" stroke-width="0.35" stroke-linejoin="round"/>
<polygon points="569.6,112.33 573.73,113.6 577.32,112.09 573.2,110.84" fill="#56005a" stroke="rgba(0,0,0,0.45)" stroke-width="0.35" stroke-linejoin="round"/>
<polygon points="578.19,146.17 582.35,147.67 582.43,118.25 578.19,116.93" fill="#6c0070" stroke="rgba(0,0,0,0.45)" stroke-width="0.35" stroke-linejoin="round"/>
<polygon points="582.35,147.67 585.86,145.89 586,116.68 582.43,118.25" fill="#48004b" stroke="rgba(0,0,0,0.45)" stroke-width="0.35" stroke-linejoin="round"/>
<polygon points="578.19,116.93 582.43,118.25 586,116.68 581.77,115.38" fill="#56005a" stroke="rgba(0,0,0,0.45)" stroke-width="0.35" stroke-linejoin="round"/>
<polygon points="586.86,149.29 591.15,150.83 591.38,122.53 587.01,121.16" fill="#6c0070" stroke="rgba(0,0,0,0.45)" stroke-width="0.35" stroke-linejoin="round"/>
<polygon points="591.15,150.83 594.63,149 594.92,120.91 591.38,122.53" fill="#48004b" stroke="rgba(0,0,0,0.45)" stroke-width="0.35" stroke-linejoin="round"/>
<polygon points="587.01,121.16 591.38,122.53 594.92,120.91 590.56,119.56" fill="#56005a" stroke="rgba(0,0,0,0.45)" stroke-width="0.35" stroke-linejoin="round"/>
<line x1="503.05" y1="122.93" x2="498.05" y2="13.68" stroke="#000" stroke-width="1.4"/>
<line x1="503.05" y1="122.93" x2="588.52" y2="154.29" stroke="#000" stroke-width="1.4"/>
<line x1="588.52" y1="154.29" x2="656.85" y2="117.98" stroke="#000" stroke-width="1.4"/>
<line x1="503.05" y1="122.93" x2="497.94" y2="124.88" stroke="#000" stroke-width="1.2"/>
<line x1="502.66" y1="114.35" x2="500.1" y2="115.28" stroke="#000" stroke-width="1.2"/>
<line x1="502.26" y1="105.68" x2="497.08" y2="107.47" stroke="#000" stroke-width="1.2"/>
<line x1="501.86" y1="96.92" x2="499.27" y2="97.77" stroke="#000" stroke-width="1.2"/>
<line x1="501.45" y1="88.06" x2="496.21" y2="89.69" stroke="#000" stroke-width="1.2"/>
<line x1="501.04" y1="79.12" x2="498.42" y2="79.88" stroke="#000" stroke-width="1.2"/>
<line x1="500.63" y1="70.07" x2="495.32" y2="71.53" stroke="#000" stroke-width="1.2"/>
<line x1="500.21" y1="60.93" x2="497.55" y2="61.61" stroke="#000" stroke-width="1.2"/>
<line x1="499.79" y1="51.68" x2="494.41" y2="52.96" stroke="#000" stroke-width="1.2"/>
<line x1="499.36" y1="42.34" x2="496.67" y2="42.93" stroke="#000" stroke-width="1.2"/>
<line x1="498.93" y1="32.89" x2="493.48" y2="33.99" stroke="#000" stroke-width="1.2"/>
<line x1="498.49" y1="23.34" x2="495.76" y2="23.84" stroke="#000" stroke-width="1.2"/>
<line x1="498.05" y1="13.68" x2="492.53" y2="14.59" stroke="#000" stroke-width="1.2"/>
<line x1="506.42" y1="124.17" x2="500.44" y2="126.47" stroke="#000" stroke-width="1.2"/>
<line x1="515.03" y1="127.33" x2="512.06" y2="128.51" stroke="#000" stroke-width="1.2"/>
<line x1="523.92" y1="130.59" x2="517.96" y2="133.05" stroke="#000" stroke-width="1.2"/>
<line x1="533.1" y1="133.96" x2="530.15" y2="135.22" stroke="#000" stroke-width="1.2"/>
<line x1="542.6" y1="137.44" x2="536.67" y2="140.07" stroke="#000" stroke-width="1.2"/>
<line x1="552.43" y1="141.05" x2="549.49" y2="142.4" stroke="#000" stroke-width="1.2"/>
<line x1="562.59" y1="144.78" x2="556.72" y2="147.6" stroke="#000" stroke-width="1.2"/>
<line x1="573.13" y1="148.64" x2="570.22" y2="150.09" stroke="#000" stroke-width="1.2"/>
<line x1="584.04" y1="152.65" x2="578.24" y2="155.68" stroke="#000" stroke-width="1.2"/>
<line x1="595.2" y1="150.74" x2="602.19" y2="153.23" stroke="#000" stroke-width="1.2"/>
<line x1="601.68" y1="147.3" x2="605.13" y2="148.5" stroke="#000" stroke-width="1.2"/>
<line x1="607.96" y1="143.96" x2="614.87" y2="146.3" stroke="#000" stroke-width="1.2"/>
<line x1="614.05" y1="140.72" x2="617.46" y2="141.85" stroke="#000" stroke-width="1.2"/>
<line x1="619.95" y1="137.58" x2="626.78" y2="139.79" stroke="#000" stroke-width="1.2"/>
<line x1="625.69" y1="134.54" x2="629.06" y2="135.6" stroke="#000" stroke-width="1.2"/>
<line x1="631.26" y1="131.58" x2="638" y2="133.66" stroke="#000" stroke-width="1.2"/>
<line x1="636.67" y1="128.7" x2="640" y2="129.71" stroke="#000" stroke-width="1.2"/>
<line x1="641.93" y1="125.91" x2="648.58" y2="127.87" stroke="#000" stroke-width="1.2"/>
<line x1="647.04" y1="123.19" x2="650.33" y2="124.14" stroke="#000" stroke-width="1.2"/>
<line x1="652.01" y1="120.55" x2="658.58" y2="122.41" stroke="#000" stroke-width="1.2"/>
<text transform="matrix(0.9004 -0.3424 0.0593 1.1544 494.12 126.33)" font-size="7" text-anchor="end" class="n3" dy="2.3">0</text>
<text transform="matrix(0.9116 -0.3152 0.0606 1.1793 493.22 108.81)" font-size="7" text-anchor="end" class="n3" dy="2.3">200</text>
<text transform="matrix(0.9231 -0.2868 0.0619 1.205 492.3 90.91)" font-size="7" text-anchor="end" class="n3" dy="2.3">400</text>
<text transform="matrix(0.9349 -0.257 0.0633 1.2315 491.36 72.62)" font-size="7" text-anchor="end" class="n3" dy="2.3">600</text>
<text transform="matrix(0.947 -0.2259 0.0647 1.259 490.4 53.92)" font-size="7" text-anchor="end" class="n3" dy="2.3">800</text>
<text transform="matrix(0.9594 -0.1933 0.0661 1.2873 489.41 34.81)" font-size="7" text-anchor="end" class="n3" dy="2.3">1000</text>
<text transform="matrix(0.9721 -0.1591 0.0677 1.3166 488.41 15.26)" font-size="7" text-anchor="end" class="n3" dy="2.3">1200</text>
<text transform="matrix(1.0085 -0.3886 0.8432 0.3268 492.1 129.68)" font-size="7" text-anchor="middle" class="n3" dy="2.3">1000</text>
<text transform="matrix(1.0073 -0.4153 0.901 0.3492 509.63 136.48)" font-size="7" text-anchor="middle" class="n3" dy="2.3">2000</text>
<text transform="matrix(1.0034 -0.4449 0.9649 0.374 528.38 143.75)" font-size="7" text-anchor="middle" class="n3" dy="2.3">3000</text>
<text transform="matrix(0.9964 -0.4777 1.0359 0.4015 548.49 151.54)" font-size="7" text-anchor="middle" class="n3" dy="2.3">4000</text>
<text transform="matrix(0.9854 -0.5144 1.115 0.4322 570.1 159.92)" font-size="7" text-anchor="middle" class="n3" dy="2.3">5000</text>
<text transform="matrix(0.9853 0.3521 -1.293 0.7126 604.21 153.96)" font-size="7" text-anchor="start" class="n3" dy="2.3">0mm</text>
<text transform="matrix(0.9738 0.3306 -1.2138 0.6689 616.87 146.98)" font-size="7" text-anchor="start" class="n3" dy="2.3">1000mm</text>
<text transform="matrix(0.9618 0.311 -1.1417 0.6292 628.76 140.43)" font-size="7" text-anchor="start" class="n3" dy="2.3">2000mm</text>
<text transform="matrix(0.9496 0.2931 -1.0758 0.5929 639.95 134.26)" font-size="7" text-anchor="start" class="n3" dy="2.3">3000mm</text>
<text transform="matrix(0.9371 0.2768 -1.0155 0.5596 650.51 128.44)" font-size="7" text-anchor="start" class="n3" dy="2.3">4000mm</text>
<text transform="matrix(0.9246 0.2617 -0.9601 0.5291 660.48 122.95)" font-size="7" text-anchor="start" class="n3" dy="2.3">5000mm</text>
<text transform="matrix(1.1072 0.455 -1.1803 0.5303 516.63 151.91)" font-size="7" text-anchor="middle" class="n3" dy="2.3">Detonation distance(mm)</text>
<text transform="matrix(0.8045 -0.5067 1.3518 0.4277 665.42 147.45)" font-size="7" text-anchor="middle" class="n3" dy="2.3">Pit length(mm)</text>
<text transform="translate(467.6 70.5) rotate(90)" font-size="9.4" text-anchor="middle" class="n" dy="3.3">Overpressure peak ( Kpa )</text>
<text x="575.05" y="196.6" font-size="18" text-anchor="middle" class="n" stroke="#000" stroke-width="0.25">(c)</text>
<line x1="93.7" y1="344.61" x2="164.54" y2="319.8" stroke="#b4b4b4" stroke-width="0.5"/>
<line x1="164.54" y1="319.8" x2="244.28" y2="339.92" stroke="#b4b4b4" stroke-width="0.5"/>
<line x1="92.95" y1="327.49" x2="164.54" y2="304.97" stroke="#b4b4b4" stroke-width="0.5"/>
<line x1="164.54" y1="304.97" x2="245.09" y2="323.29" stroke="#b4b4b4" stroke-width="0.5"/>
<line x1="92.19" y1="309.99" x2="164.53" y2="289.88" stroke="#b4b4b4" stroke-width="0.5"/>
<line x1="164.53" y1="289.88" x2="245.91" y2="306.32" stroke="#b4b4b4" stroke-width="0.5"/>
<line x1="91.41" y1="292.13" x2="164.53" y2="274.5" stroke="#b4b4b4" stroke-width="0.5"/>
<line x1="164.53" y1="274.5" x2="246.75" y2="288.99" stroke="#b4b4b4" stroke-width="0.5"/>
<line x1="90.61" y1="273.87" x2="164.52" y2="258.85" stroke="#b4b4b4" stroke-width="0.5"/>
<line x1="164.52" y1="258.85" x2="247.61" y2="271.3" stroke="#b4b4b4" stroke-width="0.5"/>
<line x1="101.17" y1="358.79" x2="97.03" y2="254.02" stroke="#b4b4b4" stroke-width="0.5"/>
<line x1="101.17" y1="358.79" x2="184.17" y2="388.31" stroke="#e0e0e0" stroke-width="0.5"/>
<line x1="114.1" y1="353.81" x2="110.89" y2="251.74" stroke="#b4b4b4" stroke-width="0.5"/>
<line x1="114.1" y1="353.81" x2="196.47" y2="381.66" stroke="#e0e0e0" stroke-width="0.5"/>
<line x1="126.34" y1="349.09" x2="123.97" y2="249.58" stroke="#b4b4b4" stroke-width="0.5"/>
<line x1="126.34" y1="349.09" x2="208.02" y2="375.41" stroke="#e0e0e0" stroke-width="0.5"/>
<line x1="137.96" y1="344.61" x2="136.34" y2="247.54" stroke="#b4b4b4" stroke-width="0.5"/>
<line x1="137.96" y1="344.61" x2="218.9" y2="369.52" stroke="#e0e0e0" stroke-width="0.5"/>
<line x1="148.99" y1="340.36" x2="148.06" y2="245.61" stroke="#b4b4b4" stroke-width="0.5"/>
<line x1="148.99" y1="340.36" x2="229.15" y2="363.97" stroke="#e0e0e0" stroke-width="0.5"/>
<line x1="159.49" y1="336.32" x2="159.17" y2="243.78" stroke="#b4b4b4" stroke-width="0.5"/>
<line x1="159.49" y1="336.32" x2="238.84" y2="358.73" stroke="#e0e0e0" stroke-width="0.5"/>
<line x1="180.82" y1="338.87" x2="181.73" y2="245.02" stroke="#b4b4b4" stroke-width="0.5"/>
<line x1="111.3" y1="367.54" x2="180.82" y2="338.87" stroke="#e0e0e0" stroke-width="0.5"/>
<line x1="201.56" y1="344.61" x2="203.74" y2="247.73" stroke="#b4b4b4" stroke-width="0.5"/>
<line x1="133.02" y1="375.47" x2="201.56" y2="344.61" stroke="#e0e0e0" stroke-width="0.5"/>
<line x1="223.76" y1="350.76" x2="227.39" y2="250.64" stroke="#b4b4b4" stroke-width="0.5"/>
<line x1="156.56" y1="384.07" x2="223.76" y2="350.76" stroke="#e0e0e0" stroke-width="0.5"/>
<line x1="164.55" y1="334.37" x2="164.52" y2="242.9" stroke="#888" stroke-width="0.9"/>
<line x1="89.79" y1="255.22" x2="164.52" y2="242.9" stroke="#444" stroke-width="0.8"/>
<line x1="164.52" y1="242.9" x2="248.49" y2="253.23" stroke="#444" stroke-width="0.8"/>
<line x1="243.49" y1="356.22" x2="248.49" y2="253.23" stroke="#444" stroke-width="0.8"/>
<line x1="164.55" y1="334.37" x2="243.49" y2="356.22" stroke="#999" stroke-width="0.5"/>
<polygon points="159.78,337.31 162.89,338.19 162.83,287.88 159.62,287.24" fill="#ff0000" stroke="rgba(0,0,0,0.45)" stroke-width="0.35" stroke-linejoin="round"/>
<polygon points="162.89,338.19 165.59,337.13 165.6,287.12 162.83,287.88" fill="#ab0000" stroke="rgba(0,0,0,0.45)" stroke-width="0.35" stroke-linejoin="round"/>
<polygon points="159.62,287.24 162.83,287.88 165.6,287.12 162.4,286.49" fill="#cc0000" stroke="rgba(0,0,0,0.45)" stroke-width="0.35" stroke-linejoin="round"/>
<polygon points="166.25,339.14 169.43,340.05 169.55,297.42 166.28,296.72" fill="#c0f400" stroke="rgba(0,0,0,0.45)" stroke-width="0.35" stroke-linejoin="round"/>
<polygon points="169.43,340.05 172.11,338.97 172.3,296.59 169.55,297.42" fill="#81a300" stroke="rgba(0,0,0,0.45)" stroke-width="0.35" stroke-linejoin="round"/>
<polygon points="166.28,296.72 169.55,297.42 172.3,296.59 169.04,295.91" fill="#9ac300" stroke="rgba(0,0,0,0.45)" stroke-width="0.35" stroke-linejoin="round"/>
<polygon points="172.86,341.02 176.12,341.95 176.36,305.82 173.04,305.07" fill="#30f8c8" stroke="rgba(0,0,0,0.45)" stroke-width="0.35" stroke-linejoin="round"/>
<polygon points="176.12,341.95 178.78,340.84 179.09,304.93 176.36,305.82" fill="#20a686" stroke="rgba(0,0,0,0.45)" stroke-width="0.35" stroke-linejoin="round"/>
<polygon points="173.04,305.07 176.36,305.82 179.09,304.93 175.77,304.2" fill="#26c6a0" stroke="rgba(0,0,0,0.45)" stroke-width="0.35" stroke-linejoin="round"/>
<polygon points="149.22,341.4 152.36,342.33 151.96,290.84 148.73,290.17" fill="#ff0000" stroke="rgba(0,0,0,0.45)" stroke-width="0.35" stroke-linejoin="round"/>
<polygon points="152.36,342.33 155.19,341.22 154.88,290.04 151.96,290.84" fill="#ab0000" stroke="rgba(0,0,0,0.45)" stroke-width="0.35" stroke-linejoin="round"/>
<polygon points="148.73,290.17 151.96,290.84 154.88,290.04 151.66,289.38" fill="#cc0000" stroke="rgba(0,0,0,0.45)" stroke-width="0.35" stroke-linejoin="round"/>
<polygon points="179.63,342.94 182.95,343.89 183.31,311.03 179.92,310.25" fill="#30f8c8" stroke="rgba(0,0,0,0.45)" stroke-width="0.35" stroke-linejoin="round"/>
<polygon points="182.95,343.89 185.6,342.76 186.02,310.1 183.31,311.03" fill="#20a686" stroke="rgba(0,0,0,0.45)" stroke-width="0.35" stroke-linejoin="round"/>
<polygon points="179.92,310.25 183.31,311.03 186.02,310.1 182.63,309.33" fill="#26c6a0" stroke="rgba(0,0,0,0.45)" stroke-width="0.35" stroke-linejoin="round"/>
<polygon points="155.74,343.33 158.95,344.28 158.79,300.64 155.49,299.91" fill="#c0f400" stroke="rgba(0,0,0,0.45)" stroke-width="0.35" stroke-linejoin="round"/>
<polygon points="158.95,344.28 161.77,343.14 161.68,299.78 158.79,300.64" fill="#81a300" stroke="rgba(0,0,0,0.45)" stroke-width="0.35" stroke-linejoin="round"/>
<polygon points="155.49,299.91 158.79,300.64 161.68,299.78 158.4,299.05" fill="#9ac300" stroke="rgba(0,0,0,0.45)" stroke-width="0.35" stroke-linejoin="round"/>
<polygon points="186.54,344.91 189.94,345.87 190.41,315.31 186.94,314.5" fill="#1414f0" stroke="rgba(0,0,0,0.45)" stroke-width="0.35" stroke-linejoin="round"/>
<polygon points="189.94,345.87 192.58,344.71 193.09,314.34 190.41,315.31" fill="#0d0da1" stroke="rgba(0,0,0,0.45)" stroke-width="0.35" stroke-linejoin="round"/>
<polygon points="186.94,314.5 190.41,315.31 193.09,314.34 189.63,313.54" fill="#1010c0" stroke="rgba(0,0,0,0.45)" stroke-width="0.35" stroke-linejoin="round"/>
<polygon points="162.41,345.31 165.69,346.28 165.7,309.29 162.35,308.51" fill="#30f8c8" stroke="rgba(0,0,0,0.45)" stroke-width="0.35" stroke-linejoin="round"/>
<polygon points="165.69,346.28 168.49,345.11 168.57,308.36 165.7,309.29" fill="#20a686" stroke="rgba(0,0,0,0.45)" stroke-width="0.35" stroke-linejoin="round"/>
<polygon points="162.35,308.51 165.7,309.29 168.57,308.36 165.22,307.58" fill="#26c6a0" stroke="rgba(0,0,0,0.45)" stroke-width="0.35" stroke-linejoin="round"/>
<polygon points="138.13,345.71 141.28,346.69 140.51,293.95 137.26,293.25" fill="#ff0000" stroke="rgba(0,0,0,0.45)" stroke-width="0.35" stroke-linejoin="round"/>
<polygon points="141.28,346.69 144.26,345.51 143.59,293.11 140.51,293.95" fill="#ab0000" stroke="rgba(0,0,0,0.45)" stroke-width="0.35" stroke-linejoin="round"/>
<polygon points="137.26,293.25 140.51,293.95 143.59,293.11 140.35,292.42" fill="#cc0000" stroke="rgba(0,0,0,0.45)" stroke-width="0.35" stroke-linejoin="round"/>
<polygon points="193.62,346.92 197.1,347.9 197.66,319.35 194.11,318.51" fill="#1414f0" stroke="rgba(0,0,0,0.45)" stroke-width="0.35" stroke-linejoin="round"/>
<polygon points="197.1,347.9 199.71,346.72 200.32,318.34 197.66,319.35" fill="#0d0da1" stroke="rgba(0,0,0,0.45)" stroke-width="0.35" stroke-linejoin="round"/>
<polygon points="194.11,318.51 197.66,319.35 200.32,318.34 196.78,317.51" fill="#1010c0" stroke="rgba(0,0,0,0.45)" stroke-width="0.35" stroke-linejoin="round"/>
<polygon points="169.22,347.33 172.58,348.32 172.74,314.68 169.31,313.86" fill="#30f8c8" stroke="rgba(0,0,0,0.45)" stroke-width="0.35" stroke-linejoin="round"/>
<polygon points="172.58,348.32 175.37,347.13 175.58,313.7 172.74,314.68" fill="#20a686" stroke="rgba(0,0,0,0.45)" stroke-width="0.35" stroke-linejoin="round"/>
<polygon points="169.31,313.86 172.74,314.68 175.58,313.7 172.17,312.89" fill="#26c6a0" stroke="rgba(0,0,0,0.45)" stroke-width="0.35" stroke-linejoin="round"/>
<polygon points="144.68,347.74 147.91,348.74 147.44,304.05 144.13,303.28" fill="#c0f400" stroke="rgba(0,0,0,0.45)" stroke-width="0.35" stroke-linejoin="round"/>
<polygon points="147.91,348.74 150.88,347.54 150.5,303.13 147.44,304.05" fill="#81a300" stroke="rgba(0,0,0,0.45)" stroke-width="0.35" stroke-linejoin="round"/>
<polygon points="144.13,303.28 147.44,304.05 150.5,303.13 147.19,302.37" fill="#9ac300" stroke="rgba(0,0,0,0.45)" stroke-width="0.35" stroke-linejoin="round"/>
<polygon points="200.85,348.97 204.42,349.98 205.07,323.07 201.44,322.2" fill="#1414f0" stroke="rgba(0,0,0,0.45)" stroke-width="0.35" stroke-linejoin="round"/>
<polygon points="204.42,349.98 207.01,348.77 207.7,322.03 205.07,323.07" fill="#0d0da1" stroke="rgba(0,0,0,0.45)" stroke-width="0.35" stroke-linejoin="round"/>
<polygon points="201.44,322.2 205.07,323.07 207.7,322.03 204.09,321.16" fill="#1010c0" stroke="rgba(0,0,0,0.45)" stroke-width="0.35" stroke-linejoin="round"/>
<polygon points="176.2,349.39 179.64,350.41 179.92,319.11 176.42,318.25" fill="#1414f0" stroke="rgba(0,0,0,0.45)" stroke-width="0.35" stroke-linejoin="round"/>
<polygon points="179.64,350.41 182.41,349.19 182.74,318.09 179.92,319.11" fill="#0d0da1" stroke="rgba(0,0,0,0.45)" stroke-width="0.35" stroke-linejoin="round"/>
<polygon points="176.42,318.25 179.92,319.11 182.74,318.09 179.25,317.24" fill="#1010c0" stroke="rgba(0,0,0,0.45)" stroke-width="0.35" stroke-linejoin="round"/>
<polygon points="126.44,350.24 129.61,351.27 128.43,297.24 125.16,296.49" fill="#ff0000" stroke="rgba(0,0,0,0.45)" stroke-width="0.35" stroke-linejoin="round"/>
<polygon points="129.61,351.27 132.75,350.04 131.69,296.36 128.43,297.24" fill="#ab0000" stroke="rgba(0,0,0,0.45)" stroke-width="0.35" stroke-linejoin="round"/>
<polygon points="125.16,296.49 128.43,297.24 131.69,296.36 128.42,295.62" fill="#cc0000" stroke="rgba(0,0,0,0.45)" stroke-width="0.35" stroke-linejoin="round"/>
<polygon points="151.4,349.82 154.7,350.84 154.46,312.96 151.08,312.13" fill="#30f8c8" stroke="rgba(0,0,0,0.45)" stroke-width="0.35" stroke-linejoin="round"/>
<polygon points="154.7,350.84 157.66,349.61 157.49,311.97 154.46,312.96" fill="#20a686" stroke="rgba(0,0,0,0.45)" stroke-width="0.35" stroke-linejoin="round"/>
<polygon points="151.08,312.13 154.46,312.96 157.49,311.97 154.11,311.15" fill="#26c6a0" stroke="rgba(0,0,0,0.45)" stroke-width="0.35" stroke-linejoin="round"/>
<polygon points="208.26,351.08 211.91,352.11 212.66,326.22 208.95,325.32" fill="#6c0070" stroke="rgba(0,0,0,0.45)" stroke-width="0.35" stroke-linejoin="round"/>
<polygon points="211.91,352.11 214.48,350.87 215.27,325.14 212.66,326.22" fill="#48004b" stroke="rgba(0,0,0,0.45)" stroke-width="0.35" stroke-linejoin="round"/>
<polygon points="208.95,325.32 212.66,326.22 215.27,325.14 211.57,324.25" fill="#56005a" stroke="rgba(0,0,0,0.45)" stroke-width="0.35" stroke-linejoin="round"/>
<polygon points="183.34,351.51 186.86,352.55 187.25,323.3 183.67,322.41" fill="#1414f0" stroke="rgba(0,0,0,0.45)" stroke-width="0.35" stroke-linejoin="round"/>
<polygon points="186.86,352.55 189.61,351.3 190.06,322.24 187.25,323.3" fill="#0d0da1" stroke="rgba(0,0,0,0.45)" stroke-width="0.35" stroke-linejoin="round"/>
<polygon points="183.67,322.41 187.25,323.3 190.06,322.24 186.48,321.36" fill="#1010c0" stroke="rgba(0,0,0,0.45)" stroke-width="0.35" stroke-linejoin="round"/>
<polygon points="133.04,352.38 136.28,353.43 135.47,307.64 132.14,306.82" fill="#ff9c00" stroke="rgba(0,0,0,0.45)" stroke-width="0.35" stroke-linejoin="round"/>
<polygon points="136.28,353.43 139.41,352.17 138.7,306.67 135.47,307.64" fill="#ab6900" stroke="rgba(0,0,0,0.45)" stroke-width="0.35" stroke-linejoin="round"/>
<polygon points="132.14,306.82 135.47,307.64 138.7,306.67 135.37,305.87" fill="#cc7d00" stroke="rgba(0,0,0,0.45)" stroke-width="0.35" stroke-linejoin="round"/>
<polygon points="158.27,351.94 161.65,352.99 161.58,318.53 158.12,317.66" fill="#30f8c8" stroke="rgba(0,0,0,0.45)" stroke-width="0.35" stroke-linejoin="round"/>
<polygon points="161.65,352.99 164.59,351.73 164.58,317.49 161.58,318.53" fill="#20a686" stroke="rgba(0,0,0,0.45)" stroke-width="0.35" stroke-linejoin="round"/>
<polygon points="158.12,317.66 161.58,318.53 164.58,317.49 161.14,316.63" fill="#26c6a0" stroke="rgba(0,0,0,0.45)" stroke-width="0.35" stroke-linejoin="round"/>
<polygon points="215.85,353.23 219.58,354.29 220.42,329.52 216.62,328.59" fill="#6c0070" stroke="rgba(0,0,0,0.45)" stroke-width="0.35" stroke-linejoin="round"/>
<polygon points="219.58,354.29 222.13,353.02 223,328.41 220.42,329.52" fill="#48004b" stroke="rgba(0,0,0,0.45)" stroke-width="0.35" stroke-linejoin="round"/>
<polygon points="216.62,328.59 220.42,329.52 223,328.41 219.21,327.49" fill="#56005a" stroke="rgba(0,0,0,0.45)" stroke-width="0.35" stroke-linejoin="round"/>
<polygon points="190.65,353.67 194.25,354.74 194.75,327.17 191.09,326.25" fill="#1414f0" stroke="rgba(0,0,0,0.45)" stroke-width="0.35" stroke-linejoin="round"/>
<polygon points="194.25,354.74 196.99,353.46 197.53,326.07 194.75,327.17" fill="#0d0da1" stroke="rgba(0,0,0,0.45)" stroke-width="0.35" stroke-linejoin="round"/>
<polygon points="191.09,326.25 194.75,327.17 197.53,326.07 193.88,325.16" fill="#1010c0" stroke="rgba(0,0,0,0.45)" stroke-width="0.35" stroke-linejoin="round"/>
<polygon points="114.12,355.02 117.3,356.11 115.18,284.2 111.87,283.5" fill="#6a0000" stroke="rgba(0,0,0,0.45)" stroke-width="0.35" stroke-linejoin="round"/>
<polygon points="117.3,356.11 120.62,354.81 118.66,283.38 115.18,284.2" fill="#470000" stroke="rgba(0,0,0,0.45)" stroke-width="0.35" stroke-linejoin="round"/>
<polygon points="111.87,283.5 115.18,284.2 118.66,283.38 115.35,282.69" fill="#550000" stroke="rgba(0,0,0,0.45)" stroke-width="0.35" stroke-linejoin="round"/>
<polygon points="165.3,354.12 168.77,355.19 168.84,323.12 165.31,322.21" fill="#1414f0" stroke="rgba(0,0,0,0.45)" stroke-width="0.35" stroke-linejoin="round"/>
<polygon points="168.77,355.19 171.69,353.91 171.82,322.04 168.84,323.12" fill="#0d0da1" stroke="rgba(0,0,0,0.45)" stroke-width="0.35" stroke-linejoin="round"/>
<polygon points="165.31,322.21 168.84,323.12 171.82,322.04 168.3,321.15" fill="#1010c0" stroke="rgba(0,0,0,0.45)" stroke-width="0.35" stroke-linejoin="round"/>
<polygon points="223.61,355.43 227.44,356.52 228.34,333.23 224.45,332.27" fill="#6c0070" stroke="rgba(0,0,0,0.45)" stroke-width="0.35" stroke-linejoin="round"/>
<polygon points="227.44,356.52 229.96,355.22 230.89,332.08 228.34,333.23" fill="#48004b" stroke="rgba(0,0,0,0.45)" stroke-width="0.35" stroke-linejoin="round"/>
<polygon points="224.45,332.27 228.34,333.23 230.89,332.08 227.02,331.13" fill="#56005a" stroke="rgba(0,0,0,0.45)" stroke-width="0.35" stroke-linejoin="round"/>
<polygon points="139.79,354.57 143.12,355.65 142.59,316.82 139.19,315.95" fill="#30f8c8" stroke="rgba(0,0,0,0.45)" stroke-width="0.35" stroke-linejoin="round"/>
<polygon points="143.12,355.65 146.24,354.35 145.79,315.78 142.59,316.82" fill="#20a686" stroke="rgba(0,0,0,0.45)" stroke-width="0.35" stroke-linejoin="round"/>
<polygon points="139.19,315.95 142.59,316.82 145.79,315.78 142.39,314.92" fill="#26c6a0" stroke="rgba(0,0,0,0.45)" stroke-width="0.35" stroke-linejoin="round"/>
<polygon points="198.14,355.89 201.83,356.98 202.43,330.45 198.68,329.5" fill="#6c0070" stroke="rgba(0,0,0,0.45)" stroke-width="0.35" stroke-linejoin="round"/>
<polygon points="201.83,356.98 204.54,355.67 205.19,329.31 202.43,330.45" fill="#48004b" stroke="rgba(0,0,0,0.45)" stroke-width="0.35" stroke-linejoin="round"/>
<polygon points="198.68,329.5 202.43,330.45 205.19,329.31 201.45,328.37" fill="#56005a" stroke="rgba(0,0,0,0.45)" stroke-width="0.35" stroke-linejoin="round"/>
<polygon points="231.57,357.69 235.49,358.81 236.48,336.1 232.5,335.11" fill="#6c0070" stroke="rgba(0,0,0,0.45)" stroke-width="0.35" stroke-linejoin="round"/>
<polygon points="235.49,358.81 237.98,357.47 239,334.92 236.48,336.1" fill="#48004b" stroke="rgba(0,0,0,0.45)" stroke-width="0.35" stroke-linejoin="round"/>
<polygon points="232.5,335.11 236.48,336.1 239,334.92 235.03,333.94" fill="#56005a" stroke="rgba(0,0,0,0.45)" stroke-width="0.35" stroke-linejoin="round"/>
<polygon points="120.74,357.28 124.01,358.39 122.73,308.13 119.37,307.29" fill="#ff9c00" stroke="rgba(0,0,0,0.45)" stroke-width="0.35" stroke-linejoin="round"/>
<polygon points="124.01,358.39 127.32,357.06 126.15,307.13 122.73,308.13" fill="#ab6900" stroke="rgba(0,0,0,0.45)" stroke-width="0.35" stroke-linejoin="round"/>
<polygon points="119.37,307.29 122.73,308.13 126.15,307.13 122.8,306.31" fill="#cc7d00" stroke="rgba(0,0,0,0.45)" stroke-width="0.35" stroke-linejoin="round"/>
<polygon points="172.51,356.35 176.06,357.45 176.26,327.47 172.64,326.53" fill="#1414f0" stroke="rgba(0,0,0,0.45)" stroke-width="0.35" stroke-linejoin="round"/>
<polygon points="176.06,357.45 178.97,356.13 179.22,326.35 176.26,327.47" fill="#0d0da1" stroke="rgba(0,0,0,0.45)" stroke-width="0.35" stroke-linejoin="round"/>
<polygon points="172.64,326.53 176.26,327.47 179.22,326.35 175.61,325.42" fill="#1010c0" stroke="rgba(0,0,0,0.45)" stroke-width="0.35" stroke-linejoin="round"/>
<polygon points="146.71,356.81 150.12,357.92 149.79,322.59 146.31,321.67" fill="#30f8c8" stroke="rgba(0,0,0,0.45)" stroke-width="0.35" stroke-linejoin="round"/>
<polygon points="150.12,357.92 153.22,356.59 152.97,321.5 149.79,322.59" fill="#20a686" stroke="rgba(0,0,0,0.45)" stroke-width="0.35" stroke-linejoin="round"/>
<polygon points="146.31,321.67 149.79,322.59 152.97,321.5 149.49,320.59" fill="#26c6a0" stroke="rgba(0,0,0,0.45)" stroke-width="0.35" stroke-linejoin="round"/>
<polygon points="205.81,358.16 209.59,359.28 210.29,333.9 206.45,332.91" fill="#6c0070" stroke="rgba(0,0,0,0.45)" stroke-width="0.35" stroke-linejoin="round"/>
<polygon points="209.59,359.28 212.28,357.94 213.02,332.72 210.29,333.9" fill="#48004b" stroke="rgba(0,0,0,0.45)" stroke-width="0.35" stroke-linejoin="round"/>
<polygon points="206.45,332.91 210.29,333.9 213.02,332.72 209.19,331.75" fill="#56005a" stroke="rgba(0,0,0,0.45)" stroke-width="0.35" stroke-linejoin="round"/>
<polygon points="101.1,360.07 104.3,361.22 102.67,317.88 99.4,316.97" fill="#c0f400" stroke="rgba(0,0,0,0.45)" stroke-width="0.35" stroke-linejoin="round"/>
<polygon points="104.3,361.22 107.81,359.84 106.28,316.79 102.67,317.88" fill="#81a300" stroke="rgba(0,0,0,0.45)" stroke-width="0.35" stroke-linejoin="round"/>
<polygon points="99.4,316.97 102.67,317.88 106.28,316.79 103.01,315.9" fill="#9ac300" stroke="rgba(0,0,0,0.45)" stroke-width="0.35" stroke-linejoin="round"/>
<polygon points="179.89,358.64 183.52,359.76 183.85,331.5 180.15,330.52" fill="#1414f0" stroke="rgba(0,0,0,0.45)" stroke-width="0.35" stroke-linejoin="round"/>
<polygon points="183.52,359.76 186.41,358.41 186.79,330.33 183.85,331.5" fill="#0d0da1" stroke="rgba(0,0,0,0.45)" stroke-width="0.35" stroke-linejoin="round"/>
<polygon points="180.15,330.52 183.85,331.5 186.79,330.33 183.09,329.37" fill="#1010c0" stroke="rgba(0,0,0,0.45)" stroke-width="0.35" stroke-linejoin="round"/>
<polygon points="127.54,359.59 130.88,360.73 129.99,318.48 126.56,317.57" fill="#c0f400" stroke="rgba(0,0,0,0.45)" stroke-width="0.35" stroke-linejoin="round"/>
<polygon points="130.88,360.73 134.18,359.36 133.38,317.39 129.99,318.48" fill="#81a300" stroke="rgba(0,0,0,0.45)" stroke-width="0.35" stroke-linejoin="round"/>
<polygon points="126.56,317.57 129.99,318.48 133.38,317.39 129.95,316.5" fill="#9ac300" stroke="rgba(0,0,0,0.45)" stroke-width="0.35" stroke-linejoin="round"/>
<polygon points="153.8,359.11 157.29,360.24 157.13,327.36 153.57,326.4" fill="#1414f0" stroke="rgba(0,0,0,0.45)" stroke-width="0.35" stroke-linejoin="round"/>
<polygon points="157.29,360.24 160.38,358.88 160.29,326.22 157.13,327.36" fill="#0d0da1" stroke="rgba(0,0,0,0.45)" stroke-width="0.35" stroke-linejoin="round"/>
<polygon points="153.57,326.4 157.13,327.36 160.29,326.22 156.73,325.27" fill="#1010c0" stroke="rgba(0,0,0,0.45)" stroke-width="0.35" stroke-linejoin="round"/>
<polygon points="213.67,360.49 217.54,361.64 218.32,337.76 214.39,336.74" fill="#6c0070" stroke="rgba(0,0,0,0.45)" stroke-width="0.35" stroke-linejoin="round"/>
<polygon points="217.54,361.64 220.21,360.26 221.02,336.54 218.32,337.76" fill="#48004b" stroke="rgba(0,0,0,0.45)" stroke-width="0.35" stroke-linejoin="round"/>
<polygon points="214.39,336.74 218.32,337.76 221.02,336.54 217.1,335.54" fill="#56005a" stroke="rgba(0,0,0,0.45)" stroke-width="0.35" stroke-linejoin="round"/>
<polygon points="187.45,360.98 191.18,362.13 191.62,334.93 187.83,333.92" fill="#6c0070" stroke="rgba(0,0,0,0.45)" stroke-width="0.35" stroke-linejoin="round"/>
<polygon points="191.18,362.13 194.05,360.74 194.54,333.72 191.62,334.93" fill="#48004b" stroke="rgba(0,0,0,0.45)" stroke-width="0.35" stroke-linejoin="round"/>
<polygon points="187.83,333.92 191.62,334.93 194.54,333.72 190.75,332.73" fill="#56005a" stroke="rgba(0,0,0,0.45)" stroke-width="0.35" stroke-linejoin="round"/>
<polygon points="107.76,362.46 111.04,363.63 109.67,322.89 106.32,321.93" fill="#30f8c8" stroke="rgba(0,0,0,0.45)" stroke-width="0.35" stroke-linejoin="round"/>
<polygon points="111.04,363.63 114.53,362.22 113.27,321.75 109.67,322.89" fill="#20a686" stroke="rgba(0,0,0,0.45)" stroke-width="0.35" stroke-linejoin="round"/>
<polygon points="106.32,321.93 109.67,322.89 113.27,321.75 109.91,320.81" fill="#26c6a0" stroke="rgba(0,0,0,0.45)" stroke-width="0.35" stroke-linejoin="round"/>
<polygon points="161.06,361.47 164.64,362.63 164.63,331.88 160.99,330.89" fill="#1414f0" stroke="rgba(0,0,0,0.45)" stroke-width="0.35" stroke-linejoin="round"/>
<polygon points="164.64,362.63 167.72,361.23 167.77,330.7 164.63,331.88" fill="#0d0da1" stroke="rgba(0,0,0,0.45)" stroke-width="0.35" stroke-linejoin="round"/>
<polygon points="160.99,330.89 164.63,331.88 167.77,330.7 164.13,329.72" fill="#1010c0" stroke="rgba(0,0,0,0.45)" stroke-width="0.35" stroke-linejoin="round"/>
<polygon points="134.5,361.96 137.93,363.13 137.31,326.37 133.8,325.4" fill="#30f8c8" stroke="rgba(0,0,0,0.45)" stroke-width="0.35" stroke-linejoin="round"/>
<polygon points="137.93,363.13 141.21,361.72 140.67,325.21 137.31,326.37" fill="#20a686" stroke="rgba(0,0,0,0.45)" stroke-width="0.35" stroke-linejoin="round"/>
<polygon points="133.8,325.4 137.31,326.37 140.67,325.21 137.17,324.26" fill="#26c6a0" stroke="rgba(0,0,0,0.45)" stroke-width="0.35" stroke-linejoin="round"/>
<polygon points="221.72,362.88 225.7,364.05 226.57,340.77 222.54,339.72" fill="#6c0070" stroke="rgba(0,0,0,0.45)" stroke-width="0.35" stroke-linejoin="round"/>
<polygon points="225.7,364.05 228.33,362.64 229.24,339.51 226.57,340.77" fill="#48004b" stroke="rgba(0,0,0,0.45)" stroke-width="0.35" stroke-linejoin="round"/>
<polygon points="222.54,339.72 226.57,340.77 229.24,339.51 225.22,338.48" fill="#56005a" stroke="rgba(0,0,0,0.45)" stroke-width="0.35" stroke-linejoin="round"/>
<polygon points="195.2,363.38 199.03,364.56 199.58,338.52 195.69,337.48" fill="#6c0070" stroke="rgba(0,0,0,0.45)" stroke-width="0.35" stroke-linejoin="round"/>
<polygon points="199.03,364.56 201.87,363.14 202.47,337.28 199.58,338.52" fill="#48004b" stroke="rgba(0,0,0,0.45)" stroke-width="0.35" stroke-linejoin="round"/>
<polygon points="195.69,337.48 199.58,338.52 202.47,337.28 198.59,336.25" fill="#56005a" stroke="rgba(0,0,0,0.45)" stroke-width="0.35" stroke-linejoin="round"/>
<polygon points="114.58,364.9 117.94,366.1 116.82,327.92 113.39,326.92" fill="#30f8c8" stroke="rgba(0,0,0,0.45)" stroke-width="0.35" stroke-linejoin="round"/>
<polygon points="117.94,366.1 121.43,364.66 120.4,326.73 116.82,327.92" fill="#20a686" stroke="rgba(0,0,0,0.45)" stroke-width="0.35" stroke-linejoin="round"/>
<polygon points="113.39,326.92 116.82,327.92 120.4,326.73 116.97,325.75" fill="#26c6a0" stroke="rgba(0,0,0,0.45)" stroke-width="0.35" stroke-linejoin="round"/>
<polygon points="168.51,363.88 172.18,365.07 172.31,336.08 168.57,335.05" fill="#1414f0" stroke="rgba(0,0,0,0.45)" stroke-width="0.35" stroke-linejoin="round"/>
<polygon points="172.18,365.07 175.24,363.64 175.42,334.84 172.31,336.08" fill="#0d0da1" stroke="rgba(0,0,0,0.45)" stroke-width="0.35" stroke-linejoin="round"/>
<polygon points="168.57,335.05 172.31,336.08 175.42,334.84 171.69,333.83" fill="#1010c0" stroke="rgba(0,0,0,0.45)" stroke-width="0.35" stroke-linejoin="round"/>
<polygon points="141.63,364.39 145.15,365.59 144.73,331.49 141.14,330.48" fill="#1414f0" stroke="rgba(0,0,0,0.45)" stroke-width="0.35" stroke-linejoin="round"/>
<polygon points="145.15,365.59 148.42,364.15 148.07,330.29 144.73,331.49" fill="#0d0da1" stroke="rgba(0,0,0,0.45)" stroke-width="0.35" stroke-linejoin="round"/>
<polygon points="141.14,330.48 144.73,331.49 148.07,330.29 144.49,329.29" fill="#1010c0" stroke="rgba(0,0,0,0.45)" stroke-width="0.35" stroke-linejoin="round"/>
<polygon points="203.15,365.84 207.08,367.05 207.72,342.56 203.73,341.48" fill="#6c0070" stroke="rgba(0,0,0,0.45)" stroke-width="0.35" stroke-linejoin="round"/>
<polygon points="207.08,367.05 209.9,365.59 210.58,341.27 207.72,342.56" fill="#48004b" stroke="rgba(0,0,0,0.45)" stroke-width="0.35" stroke-linejoin="round"/>
<polygon points="203.73,341.48 207.72,342.56 210.58,341.27 206.61,340.2" fill="#56005a" stroke="rgba(0,0,0,0.45)" stroke-width="0.35" stroke-linejoin="round"/>
<polygon points="176.14,366.36 179.91,367.58 180.17,339.66 176.34,338.6" fill="#6c0070" stroke="rgba(0,0,0,0.45)" stroke-width="0.35" stroke-linejoin="round"/>
<polygon points="179.91,367.58 182.95,366.11 183.26,338.39 180.17,339.66" fill="#48004b" stroke="rgba(0,0,0,0.45)" stroke-width="0.35" stroke-linejoin="round"/>
<polygon points="176.34,338.6 180.17,339.66 183.26,338.39 179.44,337.33" fill="#56005a" stroke="rgba(0,0,0,0.45)" stroke-width="0.35" stroke-linejoin="round"/>
<polygon points="121.58,367.4 125.03,368.64 124.14,332.97 120.62,331.93" fill="#1414f0" stroke="rgba(0,0,0,0.45)" stroke-width="0.35" stroke-linejoin="round"/>
<polygon points="125.03,368.64 128.51,367.15 127.7,331.73 124.14,332.97" fill="#0d0da1" stroke="rgba(0,0,0,0.45)" stroke-width="0.35" stroke-linejoin="round"/>
<polygon points="120.62,331.93 124.14,332.97 127.7,331.73 124.18,330.71" fill="#1010c0" stroke="rgba(0,0,0,0.45)" stroke-width="0.35" stroke-linejoin="round"/>
<polygon points="148.95,366.88 152.56,368.11 152.32,336.47 148.64,335.42" fill="#1414f0" stroke="rgba(0,0,0,0.45)" stroke-width="0.35" stroke-linejoin="round"/>
<polygon points="152.56,368.11 155.82,366.63 155.64,335.21 152.32,336.47" fill="#0d0da1" stroke="rgba(0,0,0,0.45)" stroke-width="0.35" stroke-linejoin="round"/>
<polygon points="148.64,335.42 152.32,336.47 155.64,335.21 151.97,334.17" fill="#1010c0" stroke="rgba(0,0,0,0.45)" stroke-width="0.35" stroke-linejoin="round"/>
<polygon points="211.31,368.36 215.33,369.61 216.08,345.72 212,344.6" fill="#6c0070" stroke="rgba(0,0,0,0.45)" stroke-width="0.35" stroke-linejoin="round"/>
<polygon points="215.33,369.61 218.13,368.11 218.91,344.38 216.08,345.72" fill="#48004b" stroke="rgba(0,0,0,0.45)" stroke-width="0.35" stroke-linejoin="round"/>
<polygon points="212,344.6 216.08,345.72 218.91,344.38 214.84,343.29" fill="#56005a" stroke="rgba(0,0,0,0.45)" stroke-width="0.35" stroke-linejoin="round"/>
<polygon points="183.98,368.9 187.84,370.15 188.22,343.43 184.29,342.32" fill="#6c0070" stroke="rgba(0,0,0,0.45)" stroke-width="0.35" stroke-linejoin="round"/>
<polygon points="187.84,370.15 190.86,368.64 191.29,342.1 188.22,343.43" fill="#48004b" stroke="rgba(0,0,0,0.45)" stroke-width="0.35" stroke-linejoin="round"/>
<polygon points="184.29,342.32 188.22,343.43 191.29,342.1 187.37,341.02" fill="#56005a" stroke="rgba(0,0,0,0.45)" stroke-width="0.35" stroke-linejoin="round"/>
<polygon points="128.75,369.98 132.3,371.24 131.6,337.24 127.99,336.16" fill="#1414f0" stroke="rgba(0,0,0,0.45)" stroke-width="0.35" stroke-linejoin="round"/>
<polygon points="132.3,371.24 135.76,369.72 135.15,335.95 131.6,337.24" fill="#0d0da1" stroke="rgba(0,0,0,0.45)" stroke-width="0.35" stroke-linejoin="round"/>
<polygon points="127.99,336.16 131.6,337.24 135.15,335.95 131.54,334.89" fill="#1010c0" stroke="rgba(0,0,0,0.45)" stroke-width="0.35" stroke-linejoin="round"/>
<polygon points="156.46,369.43 160.17,370.69 160.08,340.93 156.3,339.84" fill="#1414f0" stroke="rgba(0,0,0,0.45)" stroke-width="0.35" stroke-linejoin="round"/>
<polygon points="160.17,370.69 163.41,369.18 163.38,339.62 160.08,340.93" fill="#0d0da1" stroke="rgba(0,0,0,0.45)" stroke-width="0.35" stroke-linejoin="round"/>
<polygon points="156.3,339.84 160.08,340.93 163.38,339.62 159.61,338.55" fill="#1010c0" stroke="rgba(0,0,0,0.45)" stroke-width="0.35" stroke-linejoin="round"/>
<polygon points="192.02,371.5 195.98,372.79 196.47,347.64 192.44,346.5" fill="#6c0070" stroke="rgba(0,0,0,0.45)" stroke-width="0.35" stroke-linejoin="round"/>
<polygon points="195.98,372.79 198.98,371.24 199.51,346.27 196.47,347.64" fill="#48004b" stroke="rgba(0,0,0,0.45)" stroke-width="0.35" stroke-linejoin="round"/>
<polygon points="192.44,346.5 196.47,347.64 199.51,346.27 195.49,345.15" fill="#56005a" stroke="rgba(0,0,0,0.45)" stroke-width="0.35" stroke-linejoin="round"/>
<polygon points="164.17,372.06 167.97,373.35 168.02,344.69 164.15,343.56" fill="#6c0070" stroke="rgba(0,0,0,0.45)" stroke-width="0.35" stroke-linejoin="round"/>
<polygon points="167.97,373.35 171.19,371.79 171.3,343.33 168.02,344.69" fill="#48004b" stroke="rgba(0,0,0,0.45)" stroke-width="0.35" stroke-linejoin="round"/>
<polygon points="164.15,343.56 168.02,344.69 171.3,343.33 167.44,342.22" fill="#56005a" stroke="rgba(0,0,0,0.45)" stroke-width="0.35" stroke-linejoin="round"/>
<polygon points="136.12,372.61 139.76,373.92 139.25,341.7 135.54,340.58" fill="#1414f0" stroke="rgba(0,0,0,0.45)" stroke-width="0.35" stroke-linejoin="round"/>
<polygon points="139.76,373.92 143.21,372.35 142.78,340.36 139.25,341.7" fill="#0d0da1" stroke="rgba(0,0,0,0.45)" stroke-width="0.35" stroke-linejoin="round"/>
<polygon points="135.54,340.58 139.25,341.7 142.78,340.36 139.08,339.26" fill="#1010c0" stroke="rgba(0,0,0,0.45)" stroke-width="0.35" stroke-linejoin="round"/>
<polygon points="200.27,374.18 204.34,375.5 204.95,350.97 200.81,349.78" fill="#6c0070" stroke="rgba(0,0,0,0.45)" stroke-width="0.35" stroke-linejoin="round"/>
<polygon points="204.34,375.5 207.31,373.91 207.95,349.55 204.95,350.97" fill="#48004b" stroke="rgba(0,0,0,0.45)" stroke-width="0.35" stroke-linejoin="round"/>
<polygon points="200.81,349.78 204.95,350.97 207.95,349.55 203.83,348.39" fill="#56005a" stroke="rgba(0,0,0,0.45)" stroke-width="0.35" stroke-linejoin="round"/>
<polygon points="172.08,374.75 175.98,376.08 176.17,348.63 172.2,347.46" fill="#6c0070" stroke="rgba(0,0,0,0.45)" stroke-width="0.35" stroke-linejoin="round"/>
<polygon points="175.98,376.08 179.18,374.48 179.42,347.23 176.17,348.63" fill="#48004b" stroke="rgba(0,0,0,0.45)" stroke-width="0.35" stroke-linejoin="round"/>
<polygon points="172.2,347.46 176.17,348.63 179.42,347.23 175.46,346.07" fill="#56005a" stroke="rgba(0,0,0,0.45)" stroke-width="0.35" stroke-linejoin="round"/>
<polygon points="143.69,375.32 147.42,376.66 147.08,346 143.28,344.84" fill="#6c0070" stroke="rgba(0,0,0,0.45)" stroke-width="0.35" stroke-linejoin="round"/>
<polygon points="147.42,376.66 150.86,375.05 150.59,344.61 147.08,346" fill="#48004b" stroke="rgba(0,0,0,0.45)" stroke-width="0.35" stroke-linejoin="round"/>
<polygon points="143.28,344.84 147.08,346 150.59,344.61 146.79,343.46" fill="#56005a" stroke="rgba(0,0,0,0.45)" stroke-width="0.35" stroke-linejoin="round"/>
<polygon points="180.2,377.51 184.21,378.88 184.52,353.05 180.45,351.83" fill="#6c0070" stroke="rgba(0,0,0,0.45)" stroke-width="0.35" stroke-linejoin="round"/>
<polygon points="184.21,378.88 187.39,377.23 187.75,351.59 184.52,353.05" fill="#48004b" stroke="rgba(0,0,0,0.45)" stroke-width="0.35" stroke-linejoin="round"/>
<polygon points="180.45,351.83 184.52,353.05 187.75,351.59 183.68,350.39" fill="#56005a" stroke="rgba(0,0,0,0.45)" stroke-width="0.35" stroke-linejoin="round"/>
<polygon points="151.46,378.1 155.29,379.48 155.11,350.31 151.21,349.11" fill="#6c0070" stroke="rgba(0,0,0,0.45)" stroke-width="0.35" stroke-linejoin="round"/>
<polygon points="155.29,379.48 158.71,377.82 158.6,348.87 155.11,350.31" fill="#48004b" stroke="rgba(0,0,0,0.45)" stroke-width="0.35" stroke-linejoin="round"/>
<polygon points="151.21,349.11 155.11,350.31 158.6,348.87 154.7,347.68" fill="#56005a" stroke="rgba(0,0,0,0.45)" stroke-width="0.35" stroke-linejoin="round"/>
<polygon points="188.55,380.35 192.67,381.76 193.11,356.55 188.92,355.29" fill="#6c0070" stroke="rgba(0,0,0,0.45)" stroke-width="0.35" stroke-linejoin="round"/>
<polygon points="192.67,381.76 195.82,380.07 196.31,355.04 193.11,356.55" fill="#48004b" stroke="rgba(0,0,0,0.45)" stroke-width="0.35" stroke-linejoin="round"/>
<polygon points="188.92,355.29 193.11,356.55 196.31,355.04 192.13,353.8" fill="#56005a" stroke="rgba(0,0,0,0.45)" stroke-width="0.35" stroke-linejoin="round"/>
<polygon points="159.44,380.96 163.38,382.38 163.35,354.36 159.34,353.11" fill="#6c0070" stroke="rgba(0,0,0,0.45)" stroke-width="0.35" stroke-linejoin="round"/>
<polygon points="163.38,382.38 166.78,380.67 166.81,352.86 163.35,354.36" fill="#48004b" stroke="rgba(0,0,0,0.45)" stroke-width="0.35" stroke-linejoin="round"/>
<polygon points="159.34,353.11 163.35,354.36 166.81,352.86 162.81,351.63" fill="#56005a" stroke="rgba(0,0,0,0.45)" stroke-width="0.35" stroke-linejoin="round"/>
<polygon points="167.64,383.9 171.69,385.35 171.81,358.7 167.68,357.41" fill="#6c0070" stroke="rgba(0,0,0,0.45)" stroke-width="0.35" stroke-linejoin="round"/>
<polygon points="171.69,385.35 175.08,383.6 175.24,357.15 171.81,358.7" fill="#48004b" stroke="rgba(0,0,0,0.45)" stroke-width="0.35" stroke-linejoin="round"/>
<polygon points="167.68,357.41 171.81,358.7 175.24,357.15 171.13,355.88" fill="#56005a" stroke="rgba(0,0,0,0.45)" stroke-width="0.35" stroke-linejoin="round"/>
<polygon points="176.08,386.92 180.25,388.41 180.49,362.68 176.25,361.34" fill="#6c0070" stroke="rgba(0,0,0,0.45)" stroke-width="0.35" stroke-linejoin="round"/>
<polygon points="180.25,388.41 183.6,386.62 183.9,361.07 180.49,362.68" fill="#48004b" stroke="rgba(0,0,0,0.45)" stroke-width="0.35" stroke-linejoin="round"/>
<polygon points="176.25,361.34 180.49,362.68 183.9,361.07 179.68,359.76" fill="#56005a" stroke="rgba(0,0,0,0.45)" stroke-width="0.35" stroke-linejoin="round"/>
<line x1="94.44" y1="361.39" x2="89.79" y2="255.22" stroke="#000" stroke-width="1.4"/>
<line x1="94.44" y1="361.39" x2="177.72" y2="391.8" stroke="#000" stroke-width="1.4"/>
<line x1="177.72" y1="391.8" x2="243.49" y2="356.22" stroke="#000" stroke-width="1.4"/>
<line x1="94.44" y1="361.39" x2="89.47" y2="363.3" stroke="#000" stroke-width="1.2"/>
<line x1="94.07" y1="353.04" x2="91.59" y2="353.96" stroke="#000" stroke-width="1.2"/>
<line x1="93.7" y1="344.61" x2="88.68" y2="346.37" stroke="#000" stroke-width="1.2"/>
<line x1="93.33" y1="336.09" x2="90.82" y2="336.93" stroke="#000" stroke-width="1.2"/>
<line x1="92.95" y1="327.49" x2="87.87" y2="329.09" stroke="#000" stroke-width="1.2"/>
<line x1="92.57" y1="318.79" x2="90.03" y2="319.54" stroke="#000" stroke-width="1.2"/>
<line x1="92.19" y1="309.99" x2="87.04" y2="311.43" stroke="#000" stroke-width="1.2"/>
<line x1="91.8" y1="301.11" x2="89.22" y2="301.78" stroke="#000" stroke-width="1.2"/>
<line x1="91.41" y1="292.13" x2="86.19" y2="293.39" stroke="#000" stroke-width="1.2"/>
<line x1="91.01" y1="283.05" x2="88.4" y2="283.63" stroke="#000" stroke-width="1.2"/>
<line x1="90.61" y1="273.87" x2="85.32" y2="274.95" stroke="#000" stroke-width="1.2"/>
<line x1="90.2" y1="264.6" x2="87.56" y2="265.08" stroke="#000" stroke-width="1.2"/>
<line x1="89.79" y1="255.22" x2="84.44" y2="256.1" stroke="#000" stroke-width="1.2"/>
<line x1="101.06" y1="363.8" x2="98.17" y2="364.94" stroke="#000" stroke-width="1.2"/>
<line x1="111.3" y1="367.54" x2="105.52" y2="369.93" stroke="#000" stroke-width="1.2"/>
<line x1="121.95" y1="371.43" x2="119.08" y2="372.66" stroke="#000" stroke-width="1.2"/>
<line x1="133.02" y1="375.47" x2="127.28" y2="378.06" stroke="#000" stroke-width="1.2"/>
<line x1="144.55" y1="379.68" x2="141.71" y2="381.02" stroke="#000" stroke-width="1.2"/>
<line x1="156.56" y1="384.07" x2="150.89" y2="386.88" stroke="#000" stroke-width="1.2"/>
<line x1="169.08" y1="388.64" x2="166.29" y2="390.1" stroke="#000" stroke-width="1.2"/>
<line x1="184.17" y1="388.31" x2="190.96" y2="390.72" stroke="#000" stroke-width="1.2"/>
<line x1="190.42" y1="384.93" x2="193.77" y2="386.09" stroke="#000" stroke-width="1.2"/>
<line x1="196.47" y1="381.66" x2="203.18" y2="383.92" stroke="#000" stroke-width="1.2"/>
<line x1="202.33" y1="378.48" x2="205.65" y2="379.58" stroke="#000" stroke-width="1.2"/>
<line x1="208.02" y1="375.41" x2="214.64" y2="377.54" stroke="#000" stroke-width="1.2"/>
<line x1="213.54" y1="372.42" x2="216.81" y2="373.45" stroke="#000" stroke-width="1.2"/>
<line x1="218.9" y1="369.52" x2="225.43" y2="371.53" stroke="#000" stroke-width="1.2"/>
<line x1="224.1" y1="366.71" x2="227.33" y2="367.68" stroke="#000" stroke-width="1.2"/>
<line x1="229.15" y1="363.97" x2="235.6" y2="365.87" stroke="#000" stroke-width="1.2"/>
<line x1="234.07" y1="361.31" x2="237.25" y2="362.23" stroke="#000" stroke-width="1.2"/>
<line x1="238.84" y1="358.73" x2="245.2" y2="360.53" stroke="#000" stroke-width="1.2"/>
<text transform="matrix(0.8746 -0.3371 0.0554 1.1231 85.76 364.73)" font-size="7" text-anchor="end" class="n3" dy="2.3">0</text>
<text transform="matrix(0.8854 -0.3101 0.0565 1.147 84.92 347.69)" font-size="7" text-anchor="end" class="n3" dy="2.3">200</text>
<text transform="matrix(0.8964 -0.2819 0.0578 1.1717 84.07 330.28)" font-size="7" text-anchor="end" class="n3" dy="2.3">400</text>
<text transform="matrix(0.9077 -0.2524 0.059 1.1972 83.19 312.5)" font-size="7" text-anchor="end" class="n3" dy="2.3">600</text>
<text transform="matrix(0.9193 -0.2216 0.0603 1.2236 82.29 294.32)" font-size="7" text-anchor="end" class="n3" dy="2.3">800</text>
<text transform="matrix(0.9312 -0.1893 0.0617 1.2508 81.38 275.75)" font-size="7" text-anchor="end" class="n3" dy="2.3">1000</text>
<text transform="matrix(0.9434 -0.1555 0.0631 1.279 80.44 256.76)" font-size="7" text-anchor="end" class="n3" dy="2.3">1200</text>
<text transform="matrix(0.9781 -0.4034 0.8681 0.3347 97.43 373.26)" font-size="7" text-anchor="middle" class="n3" dy="2.3">3000</text>
<text transform="matrix(0.9724 -0.4378 0.9414 0.363 119.25 381.68)" font-size="7" text-anchor="middle" class="n3" dy="2.3">4000</text>
<text transform="matrix(0.962 -0.4768 1.0242 0.3949 142.95 390.81)" font-size="7" text-anchor="middle" class="n3" dy="2.3">5000</text>
<text transform="matrix(0.9574 0.3405 -1.2459 0.6994 192.93 391.42)" font-size="7" text-anchor="start" class="n3" dy="2.3">0</text>
<text transform="matrix(0.9454 0.3196 -1.1686 0.656 205.12 384.58)" font-size="7" text-anchor="start" class="n3" dy="2.3">1000mm</text>
<text transform="matrix(0.9329 0.3006 -1.0982 0.6165 216.56 378.16)" font-size="7" text-anchor="start" class="n3" dy="2.3">2000mm</text>
<text transform="matrix(0.9203 0.2832 -1.034 0.5804 227.33 372.12)" font-size="7" text-anchor="start" class="n3" dy="2.3">3000mm</text>
<text transform="matrix(0.9076 0.2673 -0.9752 0.5475 237.47 366.42)" font-size="7" text-anchor="start" class="n3" dy="2.3">4000mm</text>
<text transform="matrix(0.8948 0.2527 -0.9214 0.5172 247.04 361.05)" font-size="7" text-anchor="start" class="n3" dy="2.3">5000mm</text>
<text transform="matrix(1.0811 0.4418 -1.1447 0.5225 107.87 389.69)" font-size="7" text-anchor="middle" class="n3" dy="2.3">Detonation distance(mm)</text>
<text transform="matrix(0.7715 -0.4959 1.3087 0.4126 252.05 384.9)" font-size="7" text-anchor="middle" class="n3" dy="2.3">Pit length(mm)</text>
<text transform="translate(65.5 312.5) rotate(90)" font-size="9.5" text-anchor="middle" class="n" dy="3.3">Overpressure peak ( Kpa )</text>
<text x="176.2" y="431.6" font-size="18" text-anchor="middle" class="n" stroke="#000" stroke-width="0.25">(d)</text>
<line x1="439.83" y1="340.72" x2="512.71" y2="315.34" stroke="#b4b4b4" stroke-width="0.5"/>
<line x1="512.71" y1="315.34" x2="594.67" y2="336.18" stroke="#b4b4b4" stroke-width="0.5"/>
<line x1="439.03" y1="323.17" x2="512.71" y2="300.11" stroke="#b4b4b4" stroke-width="0.5"/>
<line x1="512.71" y1="300.11" x2="595.54" y2="319.09" stroke="#b4b4b4" stroke-width="0.5"/>
<line x1="438.2" y1="305.23" x2="512.71" y2="284.58" stroke="#b4b4b4" stroke-width="0.5"/>
<line x1="512.71" y1="284.58" x2="596.43" y2="301.62" stroke="#b4b4b4" stroke-width="0.5"/>
<line x1="437.36" y1="286.88" x2="512.7" y2="268.76" stroke="#b4b4b4" stroke-width="0.5"/>
<line x1="512.7" y1="268.76" x2="597.34" y2="283.77" stroke="#b4b4b4" stroke-width="0.5"/>
<line x1="436.5" y1="268.12" x2="512.7" y2="252.63" stroke="#b4b4b4" stroke-width="0.5"/>
<line x1="512.7" y1="252.63" x2="598.27" y2="265.53" stroke="#b4b4b4" stroke-width="0.5"/>
<line x1="447.54" y1="355.25" x2="443.07" y2="247.7" stroke="#b4b4b4" stroke-width="0.5"/>
<line x1="447.54" y1="355.25" x2="532.53" y2="385.73" stroke="#e0e0e0" stroke-width="0.5"/>
<line x1="460.81" y1="350.17" x2="457.35" y2="245.34" stroke="#b4b4b4" stroke-width="0.5"/>
<line x1="460.81" y1="350.17" x2="545.21" y2="378.94" stroke="#e0e0e0" stroke-width="0.5"/>
<line x1="473.39" y1="345.35" x2="470.83" y2="243.11" stroke="#b4b4b4" stroke-width="0.5"/>
<line x1="473.39" y1="345.35" x2="557.14" y2="372.55" stroke="#e0e0e0" stroke-width="0.5"/>
<line x1="485.34" y1="340.78" x2="483.6" y2="241" stroke="#b4b4b4" stroke-width="0.5"/>
<line x1="485.34" y1="340.78" x2="568.38" y2="366.54" stroke="#e0e0e0" stroke-width="0.5"/>
<line x1="496.7" y1="336.43" x2="495.69" y2="239" stroke="#b4b4b4" stroke-width="0.5"/>
<line x1="496.7" y1="336.43" x2="578.99" y2="360.86" stroke="#e0e0e0" stroke-width="0.5"/>
<line x1="507.51" y1="332.29" x2="507.17" y2="237.1" stroke="#b4b4b4" stroke-width="0.5"/>
<line x1="507.51" y1="332.29" x2="589.01" y2="355.49" stroke="#e0e0e0" stroke-width="0.5"/>
<line x1="515.99" y1="331.21" x2="516.15" y2="236.62" stroke="#b4b4b4" stroke-width="0.5"/>
<line x1="443.99" y1="359.13" x2="515.99" y2="331.21" stroke="#e0e0e0" stroke-width="0.5"/>
<line x1="532.88" y1="335.92" x2="534.07" y2="238.83" stroke="#b4b4b4" stroke-width="0.5"/>
<line x1="461.46" y1="365.56" x2="532.88" y2="335.92" stroke="#e0e0e0" stroke-width="0.5"/>
<line x1="550.73" y1="340.9" x2="553.07" y2="241.18" stroke="#b4b4b4" stroke-width="0.5"/>
<line x1="480.1" y1="372.43" x2="550.73" y2="340.9" stroke="#e0e0e0" stroke-width="0.5"/>
<line x1="569.63" y1="346.17" x2="573.26" y2="243.68" stroke="#b4b4b4" stroke-width="0.5"/>
<line x1="500.04" y1="379.77" x2="569.63" y2="346.17" stroke="#e0e0e0" stroke-width="0.5"/>
<line x1="589.67" y1="351.76" x2="594.76" y2="246.33" stroke="#b4b4b4" stroke-width="0.5"/>
<line x1="521.42" y1="387.64" x2="589.67" y2="351.76" stroke="#e0e0e0" stroke-width="0.5"/>
<line x1="512.72" y1="330.3" x2="512.69" y2="236.19" stroke="#888" stroke-width="0.9"/>
<line x1="435.61" y1="248.93" x2="512.69" y2="236.19" stroke="#444" stroke-width="0.8"/>
<line x1="512.69" y1="236.19" x2="599.22" y2="246.89" stroke="#444" stroke-width="0.8"/>
<line x1="593.82" y1="352.92" x2="599.22" y2="246.89" stroke="#444" stroke-width="0.8"/>
<line x1="512.72" y1="330.3" x2="593.82" y2="352.92" stroke="#999" stroke-width="0.5"/>
<polygon points="507.8,333.31 510.99,334.23 510.93,288.24 507.65,287.55" fill="#ff0000" stroke="rgba(0,0,0,0.45)" stroke-width="0.35" stroke-linejoin="round"/>
<polygon points="510.99,334.23 513.77,333.14 513.79,287.43 510.93,288.24" fill="#ab0000" stroke="rgba(0,0,0,0.45)" stroke-width="0.35" stroke-linejoin="round"/>
<polygon points="507.65,287.55 510.93,288.24 513.79,287.43 510.51,286.74" fill="#cc0000" stroke="rgba(0,0,0,0.45)" stroke-width="0.35" stroke-linejoin="round"/>
<polygon points="514.44,335.21 517.71,336.15 517.82,296.62 514.47,295.88" fill="#ff9c00" stroke="rgba(0,0,0,0.45)" stroke-width="0.35" stroke-linejoin="round"/>
<polygon points="517.71,336.15 520.47,335.04 520.65,295.74 517.82,296.62" fill="#ab6900" stroke="rgba(0,0,0,0.45)" stroke-width="0.35" stroke-linejoin="round"/>
<polygon points="514.47,295.88 517.82,296.62 520.65,295.74 517.31,295.01" fill="#cc7d00" stroke="rgba(0,0,0,0.45)" stroke-width="0.35" stroke-linejoin="round"/>
<polygon points="521.23,337.15 524.57,338.11 524.81,303.83 521.4,303.04" fill="#30f8c8" stroke="rgba(0,0,0,0.45)" stroke-width="0.35" stroke-linejoin="round"/>
<polygon points="524.57,338.11 527.32,336.98 527.62,302.9 524.81,303.83" fill="#20a686" stroke="rgba(0,0,0,0.45)" stroke-width="0.35" stroke-linejoin="round"/>
<polygon points="521.4,303.04 524.81,303.83 527.62,302.9 524.21,302.12" fill="#26c6a0" stroke="rgba(0,0,0,0.45)" stroke-width="0.35" stroke-linejoin="round"/>
<polygon points="496.93,337.5 500.15,338.46 499.76,291.42 496.45,290.69" fill="#ff0000" stroke="rgba(0,0,0,0.45)" stroke-width="0.35" stroke-linejoin="round"/>
<polygon points="500.15,338.46 503.06,337.32 502.77,290.56 499.76,291.42" fill="#ab0000" stroke="rgba(0,0,0,0.45)" stroke-width="0.35" stroke-linejoin="round"/>
<polygon points="496.45,290.69 499.76,291.42 502.77,290.56 499.46,289.84" fill="#cc0000" stroke="rgba(0,0,0,0.45)" stroke-width="0.35" stroke-linejoin="round"/>
<polygon points="528.17,339.14 531.58,340.12 531.94,308.81 528.46,307.99" fill="#30f8c8" stroke="rgba(0,0,0,0.45)" stroke-width="0.35" stroke-linejoin="round"/>
<polygon points="531.58,340.12 534.32,338.96 534.73,307.84 531.94,308.81" fill="#20a686" stroke="rgba(0,0,0,0.45)" stroke-width="0.35" stroke-linejoin="round"/>
<polygon points="528.46,307.99 531.94,308.81 534.73,307.84 531.25,307.03" fill="#26c6a0" stroke="rgba(0,0,0,0.45)" stroke-width="0.35" stroke-linejoin="round"/>
<polygon points="503.61,339.5 506.9,340.48 506.74,300.03 503.37,299.25" fill="#ff9c00" stroke="rgba(0,0,0,0.45)" stroke-width="0.35" stroke-linejoin="round"/>
<polygon points="506.9,340.48 509.81,339.31 509.72,299.11 506.74,300.03" fill="#ab6900" stroke="rgba(0,0,0,0.45)" stroke-width="0.35" stroke-linejoin="round"/>
<polygon points="503.37,299.25 506.74,300.03 509.72,299.11 506.36,298.35" fill="#cc7d00" stroke="rgba(0,0,0,0.45)" stroke-width="0.35" stroke-linejoin="round"/>
<polygon points="535.27,341.17 538.76,342.17 539.23,313.16 535.67,312.3" fill="#1414f0" stroke="rgba(0,0,0,0.45)" stroke-width="0.35" stroke-linejoin="round"/>
<polygon points="538.76,342.17 541.48,340.99 541.99,312.15 539.23,313.16" fill="#0d0da1" stroke="rgba(0,0,0,0.45)" stroke-width="0.35" stroke-linejoin="round"/>
<polygon points="535.67,312.3 539.23,313.16 541.99,312.15 538.44,311.3" fill="#1010c0" stroke="rgba(0,0,0,0.45)" stroke-width="0.35" stroke-linejoin="round"/>
<polygon points="510.45,341.54 513.81,342.54 513.83,307.46 510.39,306.63" fill="#30f8c8" stroke="rgba(0,0,0,0.45)" stroke-width="0.35" stroke-linejoin="round"/>
<polygon points="513.81,342.54 516.71,341.35 516.78,306.48 513.83,307.46" fill="#20a686" stroke="rgba(0,0,0,0.45)" stroke-width="0.35" stroke-linejoin="round"/>
<polygon points="510.39,306.63 513.83,307.46 516.78,306.48 513.35,305.67" fill="#26c6a0" stroke="rgba(0,0,0,0.45)" stroke-width="0.35" stroke-linejoin="round"/>
<polygon points="485.51,341.9 488.74,342.91 488,294.76 484.67,294" fill="#ff0000" stroke="rgba(0,0,0,0.45)" stroke-width="0.35" stroke-linejoin="round"/>
<polygon points="488.74,342.91 491.81,341.71 491.17,293.86 488,294.76" fill="#ab0000" stroke="rgba(0,0,0,0.45)" stroke-width="0.35" stroke-linejoin="round"/>
<polygon points="484.67,294 488,294.76 491.17,293.86 487.84,293.11" fill="#cc0000" stroke="rgba(0,0,0,0.45)" stroke-width="0.35" stroke-linejoin="round"/>
<polygon points="542.53,343.25 546.11,344.28 546.68,316.77 543.04,315.88" fill="#1414f0" stroke="rgba(0,0,0,0.45)" stroke-width="0.35" stroke-linejoin="round"/>
<polygon points="546.11,344.28 548.81,343.06 549.42,315.72 546.68,316.77" fill="#0d0da1" stroke="rgba(0,0,0,0.45)" stroke-width="0.35" stroke-linejoin="round"/>
<polygon points="543.04,315.88 546.68,316.77 549.42,315.72 545.79,314.85" fill="#1010c0" stroke="rgba(0,0,0,0.45)" stroke-width="0.35" stroke-linejoin="round"/>
<polygon points="517.44,343.62 520.89,344.65 521.04,312.61 517.53,311.75" fill="#30f8c8" stroke="rgba(0,0,0,0.45)" stroke-width="0.35" stroke-linejoin="round"/>
<polygon points="520.89,344.65 523.76,343.43 523.98,311.59 521.04,312.61" fill="#20a686" stroke="rgba(0,0,0,0.45)" stroke-width="0.35" stroke-linejoin="round"/>
<polygon points="517.53,311.75 521.04,312.61 523.98,311.59 520.47,310.74" fill="#26c6a0" stroke="rgba(0,0,0,0.45)" stroke-width="0.35" stroke-linejoin="round"/>
<polygon points="492.23,344 495.54,345.03 495.08,303.63 491.69,302.81" fill="#ff9c00" stroke="rgba(0,0,0,0.45)" stroke-width="0.35" stroke-linejoin="round"/>
<polygon points="495.54,345.03 498.6,343.81 498.22,302.66 495.08,303.63" fill="#ab6900" stroke="rgba(0,0,0,0.45)" stroke-width="0.35" stroke-linejoin="round"/>
<polygon points="491.69,302.81 495.08,303.63 498.22,302.66 494.83,301.85" fill="#cc7d00" stroke="rgba(0,0,0,0.45)" stroke-width="0.35" stroke-linejoin="round"/>
<polygon points="549.97,345.38 553.63,346.43 554.28,320.54 550.56,319.62" fill="#1414f0" stroke="rgba(0,0,0,0.45)" stroke-width="0.35" stroke-linejoin="round"/>
<polygon points="553.63,346.43 556.31,345.18 557,319.45 554.28,320.54" fill="#0d0da1" stroke="rgba(0,0,0,0.45)" stroke-width="0.35" stroke-linejoin="round"/>
<polygon points="550.56,319.62 554.28,320.54 557,319.45 553.29,318.55" fill="#1010c0" stroke="rgba(0,0,0,0.45)" stroke-width="0.35" stroke-linejoin="round"/>
<polygon points="524.6,345.76 528.13,346.81 528.41,317.11 524.81,316.21" fill="#1414f0" stroke="rgba(0,0,0,0.45)" stroke-width="0.35" stroke-linejoin="round"/>
<polygon points="528.13,346.81 530.99,345.57 531.32,316.05 528.41,317.11" fill="#0d0da1" stroke="rgba(0,0,0,0.45)" stroke-width="0.35" stroke-linejoin="round"/>
<polygon points="524.81,316.21 528.41,317.11 531.32,316.05 527.74,315.16" fill="#1010c0" stroke="rgba(0,0,0,0.45)" stroke-width="0.35" stroke-linejoin="round"/>
<polygon points="473.49,346.53 476.74,347.6 475.61,298.28 472.26,297.48" fill="#ff0000" stroke="rgba(0,0,0,0.45)" stroke-width="0.35" stroke-linejoin="round"/>
<polygon points="476.74,347.6 479.97,346.33 478.94,297.34 475.61,298.28" fill="#ab0000" stroke="rgba(0,0,0,0.45)" stroke-width="0.35" stroke-linejoin="round"/>
<polygon points="472.26,297.48 475.61,298.28 478.94,297.34 475.6,296.54" fill="#cc0000" stroke="rgba(0,0,0,0.45)" stroke-width="0.35" stroke-linejoin="round"/>
<polygon points="499.11,346.15 502.5,347.2 502.26,311.29 498.79,310.42" fill="#30f8c8" stroke="rgba(0,0,0,0.45)" stroke-width="0.35" stroke-linejoin="round"/>
<polygon points="502.5,347.2 505.54,345.95 505.37,310.26 502.26,311.29" fill="#20a686" stroke="rgba(0,0,0,0.45)" stroke-width="0.35" stroke-linejoin="round"/>
<polygon points="498.79,310.42 502.26,311.29 505.37,310.26 501.91,309.4" fill="#26c6a0" stroke="rgba(0,0,0,0.45)" stroke-width="0.35" stroke-linejoin="round"/>
<polygon points="557.57,347.56 561.32,348.63 562.08,323.64 558.27,322.69" fill="#6c0070" stroke="rgba(0,0,0,0.45)" stroke-width="0.35" stroke-linejoin="round"/>
<polygon points="561.32,348.63 563.98,347.36 564.77,322.52 562.08,323.64" fill="#48004b" stroke="rgba(0,0,0,0.45)" stroke-width="0.35" stroke-linejoin="round"/>
<polygon points="558.27,322.69 562.08,323.64 564.77,322.52 560.97,321.59" fill="#56005a" stroke="rgba(0,0,0,0.45)" stroke-width="0.35" stroke-linejoin="round"/>
<polygon points="531.93,347.95 535.54,349.03 535.94,320.86 532.26,319.93" fill="#1414f0" stroke="rgba(0,0,0,0.45)" stroke-width="0.35" stroke-linejoin="round"/>
<polygon points="535.54,349.03 538.38,347.75 538.83,319.76 535.94,320.86" fill="#0d0da1" stroke="rgba(0,0,0,0.45)" stroke-width="0.35" stroke-linejoin="round"/>
<polygon points="532.26,319.93 535.94,320.86 538.83,319.76 535.16,318.84" fill="#1010c0" stroke="rgba(0,0,0,0.45)" stroke-width="0.35" stroke-linejoin="round"/>
<polygon points="480.24,348.74 483.57,349.83 482.78,307.43 479.37,306.56" fill="#ff9c00" stroke="rgba(0,0,0,0.45)" stroke-width="0.35" stroke-linejoin="round"/>
<polygon points="483.57,349.83 486.79,348.54 486.09,306.41 482.78,307.43" fill="#ab6900" stroke="rgba(0,0,0,0.45)" stroke-width="0.35" stroke-linejoin="round"/>
<polygon points="479.37,306.56 482.78,307.43 486.09,306.41 482.69,305.55" fill="#cc7d00" stroke="rgba(0,0,0,0.45)" stroke-width="0.35" stroke-linejoin="round"/>
<polygon points="506.15,348.34 509.62,349.43 509.55,316.62 506.01,315.71" fill="#30f8c8" stroke="rgba(0,0,0,0.45)" stroke-width="0.35" stroke-linejoin="round"/>
<polygon points="509.62,349.43 512.66,348.14 512.64,315.54 509.55,316.62" fill="#20a686" stroke="rgba(0,0,0,0.45)" stroke-width="0.35" stroke-linejoin="round"/>
<polygon points="506.01,315.71 509.55,316.62 512.64,315.54 509.11,314.64" fill="#26c6a0" stroke="rgba(0,0,0,0.45)" stroke-width="0.35" stroke-linejoin="round"/>
<polygon points="565.37,349.79 569.2,350.89 570.06,326.72 566.16,325.75" fill="#6c0070" stroke="rgba(0,0,0,0.45)" stroke-width="0.35" stroke-linejoin="round"/>
<polygon points="569.2,350.89 571.84,349.58 572.73,325.57 570.06,326.72" fill="#48004b" stroke="rgba(0,0,0,0.45)" stroke-width="0.35" stroke-linejoin="round"/>
<polygon points="566.16,325.75 570.06,326.72 572.73,325.57 568.84,324.61" fill="#56005a" stroke="rgba(0,0,0,0.45)" stroke-width="0.35" stroke-linejoin="round"/>
<polygon points="539.43,350.19 543.13,351.29 543.63,324.78 539.87,323.82" fill="#1414f0" stroke="rgba(0,0,0,0.45)" stroke-width="0.35" stroke-linejoin="round"/>
<polygon points="543.13,351.29 545.96,349.98 546.5,323.64 543.63,324.78" fill="#0d0da1" stroke="rgba(0,0,0,0.45)" stroke-width="0.35" stroke-linejoin="round"/>
<polygon points="539.87,323.82 543.63,324.78 546.5,323.64 542.75,322.69" fill="#1010c0" stroke="rgba(0,0,0,0.45)" stroke-width="0.35" stroke-linejoin="round"/>
<polygon points="460.82,351.41 464.09,352.53 462.07,287.68 458.69,286.91" fill="#6a0000" stroke="rgba(0,0,0,0.45)" stroke-width="0.35" stroke-linejoin="round"/>
<polygon points="464.09,352.53 467.49,351.2 465.63,286.77 462.07,287.68" fill="#470000" stroke="rgba(0,0,0,0.45)" stroke-width="0.35" stroke-linejoin="round"/>
<polygon points="458.69,286.91 462.07,287.68 465.63,286.77 462.25,286.01" fill="#550000" stroke="rgba(0,0,0,0.45)" stroke-width="0.35" stroke-linejoin="round"/>
<polygon points="513.37,350.6 516.92,351.7 516.99,321.28 513.37,320.33" fill="#1414f0" stroke="rgba(0,0,0,0.45)" stroke-width="0.35" stroke-linejoin="round"/>
<polygon points="516.92,351.7 519.94,350.39 520.07,320.16 516.99,321.28" fill="#0d0da1" stroke="rgba(0,0,0,0.45)" stroke-width="0.35" stroke-linejoin="round"/>
<polygon points="513.37,320.33 516.99,321.28 520.07,320.16 516.45,319.22" fill="#1010c0" stroke="rgba(0,0,0,0.45)" stroke-width="0.35" stroke-linejoin="round"/>
<polygon points="487.16,351 490.57,352.12 490.05,315.33 486.56,314.41" fill="#30f8c8" stroke="rgba(0,0,0,0.45)" stroke-width="0.35" stroke-linejoin="round"/>
<polygon points="490.57,352.12 493.78,350.79 493.34,314.24 490.05,315.33" fill="#20a686" stroke="rgba(0,0,0,0.45)" stroke-width="0.35" stroke-linejoin="round"/>
<polygon points="486.56,314.41 490.05,315.33 493.34,314.24 489.86,313.33" fill="#26c6a0" stroke="rgba(0,0,0,0.45)" stroke-width="0.35" stroke-linejoin="round"/>
<polygon points="573.35,352.07 577.28,353.2 578.21,330.14 574.22,329.13" fill="#6c0070" stroke="rgba(0,0,0,0.45)" stroke-width="0.35" stroke-linejoin="round"/>
<polygon points="577.28,353.2 579.89,351.86 580.85,328.95 578.21,330.14" fill="#48004b" stroke="rgba(0,0,0,0.45)" stroke-width="0.35" stroke-linejoin="round"/>
<polygon points="574.22,329.13 578.21,330.14 580.85,328.95 576.87,327.96" fill="#56005a" stroke="rgba(0,0,0,0.45)" stroke-width="0.35" stroke-linejoin="round"/>
<polygon points="547.12,352.49 550.91,353.62 551.52,328.02 547.67,327.02" fill="#6c0070" stroke="rgba(0,0,0,0.45)" stroke-width="0.35" stroke-linejoin="round"/>
<polygon points="550.91,353.62 553.71,352.27 554.36,326.84 551.52,328.02" fill="#48004b" stroke="rgba(0,0,0,0.45)" stroke-width="0.35" stroke-linejoin="round"/>
<polygon points="547.67,327.02 551.52,328.02 554.36,326.84 550.52,325.86" fill="#56005a" stroke="rgba(0,0,0,0.45)" stroke-width="0.35" stroke-linejoin="round"/>
<polygon points="581.52,354.41 585.55,355.56 586.56,333.46 582.47,332.42" fill="#6c0070" stroke="rgba(0,0,0,0.45)" stroke-width="0.35" stroke-linejoin="round"/>
<polygon points="585.55,355.56 588.13,354.2 589.17,332.23 586.56,333.46" fill="#48004b" stroke="rgba(0,0,0,0.45)" stroke-width="0.35" stroke-linejoin="round"/>
<polygon points="582.47,332.42 586.56,333.46 589.17,332.23 585.1,331.21" fill="#56005a" stroke="rgba(0,0,0,0.45)" stroke-width="0.35" stroke-linejoin="round"/>
<polygon points="467.61,353.74 470.95,354.89 469.71,308.51 466.28,307.61" fill="#ff9c00" stroke="rgba(0,0,0,0.45)" stroke-width="0.35" stroke-linejoin="round"/>
<polygon points="470.95,354.89 474.35,353.53 473.22,307.45 469.71,308.51" fill="#ab6900" stroke="rgba(0,0,0,0.45)" stroke-width="0.35" stroke-linejoin="round"/>
<polygon points="466.28,307.61 469.71,308.51 473.22,307.45 469.79,306.57" fill="#cc7d00" stroke="rgba(0,0,0,0.45)" stroke-width="0.35" stroke-linejoin="round"/>
<polygon points="520.76,352.9 524.4,354.04 524.6,325.18 520.89,324.2" fill="#1414f0" stroke="rgba(0,0,0,0.45)" stroke-width="0.35" stroke-linejoin="round"/>
<polygon points="524.4,354.04 527.4,352.69 527.66,324.02 524.6,325.18" fill="#0d0da1" stroke="rgba(0,0,0,0.45)" stroke-width="0.35" stroke-linejoin="round"/>
<polygon points="520.89,324.2 524.6,325.18 527.66,324.02 523.96,323.05" fill="#1010c0" stroke="rgba(0,0,0,0.45)" stroke-width="0.35" stroke-linejoin="round"/>
<polygon points="494.25,353.32 497.75,354.46 497.42,320.85 493.85,319.88" fill="#30f8c8" stroke="rgba(0,0,0,0.45)" stroke-width="0.35" stroke-linejoin="round"/>
<polygon points="497.75,354.46 500.95,353.11 500.69,319.71 497.42,320.85" fill="#20a686" stroke="rgba(0,0,0,0.45)" stroke-width="0.35" stroke-linejoin="round"/>
<polygon points="493.85,319.88 497.42,320.85 500.69,319.71 497.13,318.76" fill="#26c6a0" stroke="rgba(0,0,0,0.45)" stroke-width="0.35" stroke-linejoin="round"/>
<polygon points="555,354.84 558.88,356 559.59,331.24 555.65,330.21" fill="#6c0070" stroke="rgba(0,0,0,0.45)" stroke-width="0.35" stroke-linejoin="round"/>
<polygon points="558.88,356 561.66,354.62 562.41,330.02 559.59,331.24" fill="#48004b" stroke="rgba(0,0,0,0.45)" stroke-width="0.35" stroke-linejoin="round"/>
<polygon points="555.65,330.21 559.59,331.24 562.41,330.02 558.48,329.01" fill="#56005a" stroke="rgba(0,0,0,0.45)" stroke-width="0.35" stroke-linejoin="round"/>
<polygon points="447.46,356.56 450.73,357.74 449.13,317.18 445.78,316.22" fill="#c0f400" stroke="rgba(0,0,0,0.45)" stroke-width="0.35" stroke-linejoin="round"/>
<polygon points="450.73,357.74 454.33,356.34 452.83,316.04 449.13,317.18" fill="#81a300" stroke="rgba(0,0,0,0.45)" stroke-width="0.35" stroke-linejoin="round"/>
<polygon points="445.78,316.22 449.13,317.18 452.83,316.04 449.48,315.09" fill="#9ac300" stroke="rgba(0,0,0,0.45)" stroke-width="0.35" stroke-linejoin="round"/>
<polygon points="528.33,355.26 532.06,356.43 532.39,329.26 528.59,328.24" fill="#1414f0" stroke="rgba(0,0,0,0.45)" stroke-width="0.35" stroke-linejoin="round"/>
<polygon points="532.06,356.43 535.04,355.05 535.42,328.06 532.39,329.26" fill="#0d0da1" stroke="rgba(0,0,0,0.45)" stroke-width="0.35" stroke-linejoin="round"/>
<polygon points="528.59,328.24 532.39,329.26 535.42,328.06 531.63,327.05" fill="#1010c0" stroke="rgba(0,0,0,0.45)" stroke-width="0.35" stroke-linejoin="round"/>
<polygon points="474.56,356.13 477.99,357.3 477.12,318.18 473.61,317.21" fill="#c0f400" stroke="rgba(0,0,0,0.45)" stroke-width="0.35" stroke-linejoin="round"/>
<polygon points="477.99,357.3 481.38,355.91 480.6,317.04 477.12,318.18" fill="#81a300" stroke="rgba(0,0,0,0.45)" stroke-width="0.35" stroke-linejoin="round"/>
<polygon points="473.61,317.21 477.12,318.18 480.6,317.04 477.09,316.08" fill="#9ac300" stroke="rgba(0,0,0,0.45)" stroke-width="0.35" stroke-linejoin="round"/>
<polygon points="501.52,355.69 505.1,356.86 504.94,325.69 501.29,324.69" fill="#1414f0" stroke="rgba(0,0,0,0.45)" stroke-width="0.35" stroke-linejoin="round"/>
<polygon points="505.1,356.86 508.28,355.48 508.19,324.5 504.94,325.69" fill="#0d0da1" stroke="rgba(0,0,0,0.45)" stroke-width="0.35" stroke-linejoin="round"/>
<polygon points="501.29,324.69 504.94,325.69 508.19,324.5 504.54,323.51" fill="#1010c0" stroke="rgba(0,0,0,0.45)" stroke-width="0.35" stroke-linejoin="round"/>
<polygon points="563.07,357.25 567.05,358.43 567.85,334.81 563.81,333.74" fill="#6c0070" stroke="rgba(0,0,0,0.45)" stroke-width="0.35" stroke-linejoin="round"/>
<polygon points="567.05,358.43 569.8,357.02 570.65,333.55 567.85,334.81" fill="#48004b" stroke="rgba(0,0,0,0.45)" stroke-width="0.35" stroke-linejoin="round"/>
<polygon points="563.81,333.74 567.85,334.81 570.65,333.55 566.61,332.5" fill="#56005a" stroke="rgba(0,0,0,0.45)" stroke-width="0.35" stroke-linejoin="round"/>
<polygon points="454.27,359.02 457.62,360.23 456.27,322 452.85,321" fill="#30f8c8" stroke="rgba(0,0,0,0.45)" stroke-width="0.35" stroke-linejoin="round"/>
<polygon points="457.62,360.23 461.21,358.79 459.96,320.81 456.27,322" fill="#20a686" stroke="rgba(0,0,0,0.45)" stroke-width="0.35" stroke-linejoin="round"/>
<polygon points="452.85,321 456.27,322 459.96,320.81 456.54,319.83" fill="#26c6a0" stroke="rgba(0,0,0,0.45)" stroke-width="0.35" stroke-linejoin="round"/>
<polygon points="536.09,357.69 539.92,358.88 540.36,332.64 536.47,331.59" fill="#6c0070" stroke="rgba(0,0,0,0.45)" stroke-width="0.35" stroke-linejoin="round"/>
<polygon points="539.92,358.88 542.88,357.46 543.37,331.4 540.36,332.64" fill="#48004b" stroke="rgba(0,0,0,0.45)" stroke-width="0.35" stroke-linejoin="round"/>
<polygon points="536.47,331.59 540.36,332.64 543.37,331.4 539.49,330.36" fill="#56005a" stroke="rgba(0,0,0,0.45)" stroke-width="0.35" stroke-linejoin="round"/>
<polygon points="481.69,358.57 485.2,359.78 484.58,324.78 480.99,323.77" fill="#30f8c8" stroke="rgba(0,0,0,0.45)" stroke-width="0.35" stroke-linejoin="round"/>
<polygon points="485.2,359.78 488.58,358.35 488.04,323.58 484.58,324.78" fill="#20a686" stroke="rgba(0,0,0,0.45)" stroke-width="0.35" stroke-linejoin="round"/>
<polygon points="480.99,323.77 484.58,324.78 488.04,323.58 484.46,322.58" fill="#26c6a0" stroke="rgba(0,0,0,0.45)" stroke-width="0.35" stroke-linejoin="round"/>
<polygon points="508.96,358.13 512.64,359.33 512.62,329.75 508.89,328.71" fill="#1414f0" stroke="rgba(0,0,0,0.45)" stroke-width="0.35" stroke-linejoin="round"/>
<polygon points="512.64,359.33 515.8,357.9 515.85,328.52 512.62,329.75" fill="#0d0da1" stroke="rgba(0,0,0,0.45)" stroke-width="0.35" stroke-linejoin="round"/>
<polygon points="508.89,328.71 512.62,329.75 515.85,328.52 512.12,327.5" fill="#1010c0" stroke="rgba(0,0,0,0.45)" stroke-width="0.35" stroke-linejoin="round"/>
<polygon points="571.34,359.72 575.42,360.94 576.32,338.28 572.17,337.18" fill="#6c0070" stroke="rgba(0,0,0,0.45)" stroke-width="0.35" stroke-linejoin="round"/>
<polygon points="575.42,360.94 578.15,359.49 579.08,336.98 576.32,338.28" fill="#48004b" stroke="rgba(0,0,0,0.45)" stroke-width="0.35" stroke-linejoin="round"/>
<polygon points="572.17,337.18 576.32,338.28 579.08,336.98 574.95,335.9" fill="#56005a" stroke="rgba(0,0,0,0.45)" stroke-width="0.35" stroke-linejoin="round"/>
<polygon points="544.05,360.17 547.97,361.39 548.53,336.02 544.54,334.93" fill="#6c0070" stroke="rgba(0,0,0,0.45)" stroke-width="0.35" stroke-linejoin="round"/>
<polygon points="547.97,361.39 550.91,359.94 551.51,334.73 548.53,336.02" fill="#48004b" stroke="rgba(0,0,0,0.45)" stroke-width="0.35" stroke-linejoin="round"/>
<polygon points="544.54,334.93 548.53,336.02 551.51,334.73 547.53,333.66" fill="#56005a" stroke="rgba(0,0,0,0.45)" stroke-width="0.35" stroke-linejoin="round"/>
<polygon points="461.25,361.54 464.69,362.78 463.58,326.84 460.07,325.8" fill="#30f8c8" stroke="rgba(0,0,0,0.45)" stroke-width="0.35" stroke-linejoin="round"/>
<polygon points="464.69,362.78 468.27,361.31 467.25,325.6 463.58,326.84" fill="#20a686" stroke="rgba(0,0,0,0.45)" stroke-width="0.35" stroke-linejoin="round"/>
<polygon points="460.07,325.8 463.58,326.84 467.25,325.6 463.74,324.58" fill="#26c6a0" stroke="rgba(0,0,0,0.45)" stroke-width="0.35" stroke-linejoin="round"/>
<polygon points="516.6,360.62 520.36,361.85 520.49,334 516.66,332.92" fill="#1414f0" stroke="rgba(0,0,0,0.45)" stroke-width="0.35" stroke-linejoin="round"/>
<polygon points="520.36,361.85 523.52,360.39 523.7,332.72 520.49,334" fill="#0d0da1" stroke="rgba(0,0,0,0.45)" stroke-width="0.35" stroke-linejoin="round"/>
<polygon points="516.66,332.92 520.49,334 523.7,332.72 519.87,331.66" fill="#1010c0" stroke="rgba(0,0,0,0.45)" stroke-width="0.35" stroke-linejoin="round"/>
<polygon points="489,361.08 492.6,362.32 492.18,330.08 488.51,329.02" fill="#1414f0" stroke="rgba(0,0,0,0.45)" stroke-width="0.35" stroke-linejoin="round"/>
<polygon points="492.6,362.32 495.97,360.85 495.62,328.83 492.18,330.08" fill="#0d0da1" stroke="rgba(0,0,0,0.45)" stroke-width="0.35" stroke-linejoin="round"/>
<polygon points="488.51,329.02 492.18,330.08 495.62,328.83 491.95,327.78" fill="#1010c0" stroke="rgba(0,0,0,0.45)" stroke-width="0.35" stroke-linejoin="round"/>
<polygon points="552.21,362.72 556.23,363.97 556.9,339.74 552.8,338.62" fill="#6c0070" stroke="rgba(0,0,0,0.45)" stroke-width="0.35" stroke-linejoin="round"/>
<polygon points="556.23,363.97 559.15,362.48 559.85,338.41 556.9,339.74" fill="#48004b" stroke="rgba(0,0,0,0.45)" stroke-width="0.35" stroke-linejoin="round"/>
<polygon points="552.8,338.62 556.9,339.74 559.85,338.41 555.77,337.31" fill="#56005a" stroke="rgba(0,0,0,0.45)" stroke-width="0.35" stroke-linejoin="round"/>
<polygon points="524.43,363.18 528.29,364.45 528.55,337.54 524.62,336.43" fill="#6c0070" stroke="rgba(0,0,0,0.45)" stroke-width="0.35" stroke-linejoin="round"/>
<polygon points="528.29,364.45 531.43,362.95 531.74,336.22 528.55,337.54" fill="#48004b" stroke="rgba(0,0,0,0.45)" stroke-width="0.35" stroke-linejoin="round"/>
<polygon points="524.62,336.43 528.55,337.54 531.74,336.22 527.81,335.12" fill="#56005a" stroke="rgba(0,0,0,0.45)" stroke-width="0.35" stroke-linejoin="round"/>
<polygon points="468.41,364.13 471.94,365.4 471.05,331.7 467.45,330.61" fill="#1414f0" stroke="rgba(0,0,0,0.45)" stroke-width="0.35" stroke-linejoin="round"/>
<polygon points="471.94,365.4 475.52,363.89 474.71,330.41 471.05,331.7" fill="#0d0da1" stroke="rgba(0,0,0,0.45)" stroke-width="0.35" stroke-linejoin="round"/>
<polygon points="467.45,330.61 471.05,331.7 474.71,330.41 471.12,329.34" fill="#1010c0" stroke="rgba(0,0,0,0.45)" stroke-width="0.35" stroke-linejoin="round"/>
<polygon points="496.5,363.65 500.2,364.92 499.94,334.59 496.18,333.49" fill="#1414f0" stroke="rgba(0,0,0,0.45)" stroke-width="0.35" stroke-linejoin="round"/>
<polygon points="500.2,364.92 503.55,363.41 503.36,333.29 499.94,334.59" fill="#0d0da1" stroke="rgba(0,0,0,0.45)" stroke-width="0.35" stroke-linejoin="round"/>
<polygon points="496.18,333.49 499.94,334.59 503.36,333.29 499.6,332.2" fill="#1010c0" stroke="rgba(0,0,0,0.45)" stroke-width="0.35" stroke-linejoin="round"/>
<polygon points="560.58,365.33 564.71,366.62 565.47,343.38 561.28,342.22" fill="#6c0070" stroke="rgba(0,0,0,0.45)" stroke-width="0.35" stroke-linejoin="round"/>
<polygon points="564.71,366.62 567.6,365.09 568.4,342 565.47,343.38" fill="#48004b" stroke="rgba(0,0,0,0.45)" stroke-width="0.35" stroke-linejoin="round"/>
<polygon points="561.28,342.22 565.47,343.38 568.4,342 564.21,340.86" fill="#56005a" stroke="rgba(0,0,0,0.45)" stroke-width="0.35" stroke-linejoin="round"/>
<polygon points="532.46,365.81 536.43,367.1 536.81,341.07 532.78,339.92" fill="#6c0070" stroke="rgba(0,0,0,0.45)" stroke-width="0.35" stroke-linejoin="round"/>
<polygon points="536.43,367.1 539.54,365.57 539.97,339.71 536.81,341.07" fill="#48004b" stroke="rgba(0,0,0,0.45)" stroke-width="0.35" stroke-linejoin="round"/>
<polygon points="532.78,339.92 536.81,341.07 539.97,339.71 535.95,338.58" fill="#56005a" stroke="rgba(0,0,0,0.45)" stroke-width="0.35" stroke-linejoin="round"/>
<polygon points="475.75,366.78 479.38,368.09 478.69,336.21 475,335.08" fill="#1414f0" stroke="rgba(0,0,0,0.45)" stroke-width="0.35" stroke-linejoin="round"/>
<polygon points="479.38,368.09 482.95,366.53 482.34,334.88 478.69,336.21" fill="#0d0da1" stroke="rgba(0,0,0,0.45)" stroke-width="0.35" stroke-linejoin="round"/>
<polygon points="475,335.08 478.69,336.21 482.34,334.88 478.65,333.76" fill="#1010c0" stroke="rgba(0,0,0,0.45)" stroke-width="0.35" stroke-linejoin="round"/>
<polygon points="504.19,366.29 507.99,367.6 507.89,339.02 504.03,337.88" fill="#1414f0" stroke="rgba(0,0,0,0.45)" stroke-width="0.35" stroke-linejoin="round"/>
<polygon points="507.99,367.6 511.32,366.05 511.29,337.67 507.89,339.02" fill="#0d0da1" stroke="rgba(0,0,0,0.45)" stroke-width="0.35" stroke-linejoin="round"/>
<polygon points="504.03,337.88 507.89,339.02 511.29,337.67 507.43,336.54" fill="#1010c0" stroke="rgba(0,0,0,0.45)" stroke-width="0.35" stroke-linejoin="round"/>
<polygon points="540.71,368.5 544.78,369.83 545.28,344.97 541.14,343.78" fill="#6c0070" stroke="rgba(0,0,0,0.45)" stroke-width="0.35" stroke-linejoin="round"/>
<polygon points="544.78,369.83 547.87,368.25 548.41,343.56 545.28,344.97" fill="#48004b" stroke="rgba(0,0,0,0.45)" stroke-width="0.35" stroke-linejoin="round"/>
<polygon points="541.14,343.78 545.28,344.97 548.41,343.56 544.29,342.39" fill="#56005a" stroke="rgba(0,0,0,0.45)" stroke-width="0.35" stroke-linejoin="round"/>
<polygon points="512.09,369 515.98,370.34 516.03,342.73 512.07,341.55" fill="#6c0070" stroke="rgba(0,0,0,0.45)" stroke-width="0.35" stroke-linejoin="round"/>
<polygon points="515.98,370.34 519.3,368.75 519.41,341.33 516.03,342.73" fill="#48004b" stroke="rgba(0,0,0,0.45)" stroke-width="0.35" stroke-linejoin="round"/>
<polygon points="512.07,341.55 516.03,342.73 519.41,341.33 515.45,340.17" fill="#56005a" stroke="rgba(0,0,0,0.45)" stroke-width="0.35" stroke-linejoin="round"/>
<polygon points="483.3,369.5 487.02,370.85 486.51,340.18 482.72,339.01" fill="#1414f0" stroke="rgba(0,0,0,0.45)" stroke-width="0.35" stroke-linejoin="round"/>
<polygon points="487.02,370.85 490.57,369.25 490.13,338.8 486.51,340.18" fill="#0d0da1" stroke="rgba(0,0,0,0.45)" stroke-width="0.35" stroke-linejoin="round"/>
<polygon points="482.72,339.01 486.51,340.18 490.13,338.8 486.35,337.65" fill="#1010c0" stroke="rgba(0,0,0,0.45)" stroke-width="0.35" stroke-linejoin="round"/>
<polygon points="549.18,371.27 553.36,372.64 553.97,348.79 549.72,347.56" fill="#6c0070" stroke="rgba(0,0,0,0.45)" stroke-width="0.35" stroke-linejoin="round"/>
<polygon points="553.36,372.64 556.42,371.01 557.07,347.33 553.97,348.79" fill="#48004b" stroke="rgba(0,0,0,0.45)" stroke-width="0.35" stroke-linejoin="round"/>
<polygon points="549.72,347.56 553.97,348.79 557.07,347.33 552.84,346.12" fill="#56005a" stroke="rgba(0,0,0,0.45)" stroke-width="0.35" stroke-linejoin="round"/>
<polygon points="520.19,371.78 524.2,373.16 524.39,346.44 520.31,345.22" fill="#6c0070" stroke="rgba(0,0,0,0.45)" stroke-width="0.35" stroke-linejoin="round"/>
<polygon points="524.2,373.16 527.5,371.52 527.74,344.99 524.39,346.44" fill="#48004b" stroke="rgba(0,0,0,0.45)" stroke-width="0.35" stroke-linejoin="round"/>
<polygon points="520.31,345.22 524.39,346.44 527.74,344.99 523.68,343.79" fill="#56005a" stroke="rgba(0,0,0,0.45)" stroke-width="0.35" stroke-linejoin="round"/>
<polygon points="491.04,372.3 494.87,373.68 494.52,344.35 490.63,343.14" fill="#6c0070" stroke="rgba(0,0,0,0.45)" stroke-width="0.35" stroke-linejoin="round"/>
<polygon points="494.87,373.68 498.41,372.04 498.13,342.91 494.52,344.35" fill="#48004b" stroke="rgba(0,0,0,0.45)" stroke-width="0.35" stroke-linejoin="round"/>
<polygon points="490.63,343.14 494.52,344.35 498.13,342.91 494.24,341.72" fill="#56005a" stroke="rgba(0,0,0,0.45)" stroke-width="0.35" stroke-linejoin="round"/>
<polygon points="528.52,374.64 532.64,376.05 532.95,350.53 528.77,349.27" fill="#6c0070" stroke="rgba(0,0,0,0.45)" stroke-width="0.35" stroke-linejoin="round"/>
<polygon points="532.64,376.05 535.91,374.37 536.28,349.03 532.95,350.53" fill="#48004b" stroke="rgba(0,0,0,0.45)" stroke-width="0.35" stroke-linejoin="round"/>
<polygon points="528.77,349.27 532.95,350.53 536.28,349.03 532.11,347.79" fill="#56005a" stroke="rgba(0,0,0,0.45)" stroke-width="0.35" stroke-linejoin="round"/>
<polygon points="499,375.17 502.93,376.59 502.74,348.81 498.75,347.55" fill="#6c0070" stroke="rgba(0,0,0,0.45)" stroke-width="0.35" stroke-linejoin="round"/>
<polygon points="502.93,376.59 506.45,374.9 506.33,347.32 502.74,348.81" fill="#48004b" stroke="rgba(0,0,0,0.45)" stroke-width="0.35" stroke-linejoin="round"/>
<polygon points="498.75,347.55 502.74,348.81 506.33,347.32 502.34,346.08" fill="#56005a" stroke="rgba(0,0,0,0.45)" stroke-width="0.35" stroke-linejoin="round"/>
<polygon points="537.08,377.58 541.31,379.03 541.75,354.53 537.45,353.23" fill="#6c0070" stroke="rgba(0,0,0,0.45)" stroke-width="0.35" stroke-linejoin="round"/>
<polygon points="541.31,379.03 544.56,377.3 545.05,352.98 541.75,354.53" fill="#48004b" stroke="rgba(0,0,0,0.45)" stroke-width="0.35" stroke-linejoin="round"/>
<polygon points="537.45,353.23 541.75,354.53 545.05,352.98 540.77,351.7" fill="#56005a" stroke="rgba(0,0,0,0.45)" stroke-width="0.35" stroke-linejoin="round"/>
<polygon points="507.17,378.12 511.21,379.58 511.18,352.81 507.07,351.51" fill="#6c0070" stroke="rgba(0,0,0,0.45)" stroke-width="0.35" stroke-linejoin="round"/>
<polygon points="511.21,379.58 514.72,377.85 514.74,351.27 511.18,352.81" fill="#48004b" stroke="rgba(0,0,0,0.45)" stroke-width="0.35" stroke-linejoin="round"/>
<polygon points="507.07,351.51 511.18,352.81 514.74,351.27 510.65,349.99" fill="#56005a" stroke="rgba(0,0,0,0.45)" stroke-width="0.35" stroke-linejoin="round"/>
<polygon points="515.58,381.16 519.73,382.66 519.84,356.83 515.62,355.48" fill="#6c0070" stroke="rgba(0,0,0,0.45)" stroke-width="0.35" stroke-linejoin="round"/>
<polygon points="519.73,382.66 523.22,380.88 523.38,355.23 519.84,356.83" fill="#48004b" stroke="rgba(0,0,0,0.45)" stroke-width="0.35" stroke-linejoin="round"/>
<polygon points="515.62,355.48 519.84,356.83 523.38,355.23 519.17,353.9" fill="#56005a" stroke="rgba(0,0,0,0.45)" stroke-width="0.35" stroke-linejoin="round"/>
<polygon points="524.22,384.28 528.49,385.82 528.74,360.85 524.4,359.46" fill="#6c0070" stroke="rgba(0,0,0,0.45)" stroke-width="0.35" stroke-linejoin="round"/>
<polygon points="528.49,385.82 531.95,383.99 532.25,359.19 528.74,360.85" fill="#48004b" stroke="rgba(0,0,0,0.45)" stroke-width="0.35" stroke-linejoin="round"/>
<polygon points="524.4,359.46 528.74,360.85 532.25,359.19 527.92,357.82" fill="#56005a" stroke="rgba(0,0,0,0.45)" stroke-width="0.35" stroke-linejoin="round"/>
<line x1="440.62" y1="357.89" x2="435.61" y2="248.93" stroke="#000" stroke-width="1.4"/>
<line x1="440.62" y1="357.89" x2="525.88" y2="389.28" stroke="#000" stroke-width="1.4"/>
<line x1="525.88" y1="389.28" x2="593.82" y2="352.92" stroke="#000" stroke-width="1.4"/>
<line x1="440.62" y1="357.89" x2="435.53" y2="359.84" stroke="#000" stroke-width="1.2"/>
<line x1="440.23" y1="349.35" x2="437.68" y2="350.28" stroke="#000" stroke-width="1.2"/>
<line x1="439.83" y1="340.72" x2="434.67" y2="342.52" stroke="#000" stroke-width="1.2"/>
<line x1="439.43" y1="331.99" x2="436.85" y2="332.85" stroke="#000" stroke-width="1.2"/>
<line x1="439.03" y1="323.17" x2="433.8" y2="324.81" stroke="#000" stroke-width="1.2"/>
<line x1="438.62" y1="314.25" x2="436" y2="315.02" stroke="#000" stroke-width="1.2"/>
<line x1="438.2" y1="305.23" x2="432.91" y2="306.7" stroke="#000" stroke-width="1.2"/>
<line x1="437.78" y1="296.11" x2="435.13" y2="296.79" stroke="#000" stroke-width="1.2"/>
<line x1="437.36" y1="286.88" x2="432" y2="288.18" stroke="#000" stroke-width="1.2"/>
<line x1="436.93" y1="277.56" x2="434.25" y2="278.15" stroke="#000" stroke-width="1.2"/>
<line x1="436.5" y1="268.12" x2="431.06" y2="269.23" stroke="#000" stroke-width="1.2"/>
<line x1="436.06" y1="258.58" x2="433.34" y2="259.08" stroke="#000" stroke-width="1.2"/>
<line x1="435.61" y1="248.93" x2="430.11" y2="249.84" stroke="#000" stroke-width="1.2"/>
<line x1="443.99" y1="359.13" x2="438.03" y2="361.44" stroke="#000" stroke-width="1.2"/>
<line x1="452.58" y1="362.29" x2="449.63" y2="363.48" stroke="#000" stroke-width="1.2"/>
<line x1="461.46" y1="365.56" x2="455.52" y2="368.03" stroke="#000" stroke-width="1.2"/>
<line x1="470.63" y1="368.94" x2="467.68" y2="370.2" stroke="#000" stroke-width="1.2"/>
<line x1="480.1" y1="372.43" x2="474.2" y2="375.06" stroke="#000" stroke-width="1.2"/>
<line x1="489.9" y1="376.04" x2="486.98" y2="377.39" stroke="#000" stroke-width="1.2"/>
<line x1="500.04" y1="379.77" x2="494.19" y2="382.59" stroke="#000" stroke-width="1.2"/>
<line x1="510.54" y1="383.64" x2="507.65" y2="385.09" stroke="#000" stroke-width="1.2"/>
<line x1="521.42" y1="387.64" x2="515.65" y2="390.68" stroke="#000" stroke-width="1.2"/>
<line x1="532.53" y1="385.73" x2="539.49" y2="388.22" stroke="#000" stroke-width="1.2"/>
<line x1="538.97" y1="382.28" x2="542.41" y2="383.48" stroke="#000" stroke-width="1.2"/>
<line x1="545.21" y1="378.94" x2="552.09" y2="381.28" stroke="#000" stroke-width="1.2"/>
<line x1="551.27" y1="375.7" x2="554.67" y2="376.83" stroke="#000" stroke-width="1.2"/>
<line x1="557.14" y1="372.55" x2="563.94" y2="374.76" stroke="#000" stroke-width="1.2"/>
<line x1="562.84" y1="369.5" x2="566.2" y2="370.57" stroke="#000" stroke-width="1.2"/>
<line x1="568.38" y1="366.54" x2="575.09" y2="368.62" stroke="#000" stroke-width="1.2"/>
<line x1="573.76" y1="363.66" x2="577.08" y2="364.66" stroke="#000" stroke-width="1.2"/>
<line x1="578.99" y1="360.86" x2="585.61" y2="362.83" stroke="#000" stroke-width="1.2"/>
<line x1="584.07" y1="358.14" x2="587.34" y2="359.09" stroke="#000" stroke-width="1.2"/>
<line x1="589.01" y1="355.49" x2="595.55" y2="357.36" stroke="#000" stroke-width="1.2"/>
<text transform="matrix(0.897 -0.3433 0.0594 1.1488 431.72 361.3)" font-size="7" text-anchor="end" class="n3" dy="2.3">0</text>
<text transform="matrix(0.9086 -0.3163 0.0608 1.1744 430.82 343.86)" font-size="7" text-anchor="end" class="n3" dy="2.3">200</text>
<text transform="matrix(0.9204 -0.2881 0.0621 1.2009 429.9 326.03)" font-size="7" text-anchor="end" class="n3" dy="2.3">400</text>
<text transform="matrix(0.9325 -0.2584 0.0635 1.2282 428.96 307.79)" font-size="7" text-anchor="end" class="n3" dy="2.3">600</text>
<text transform="matrix(0.9449 -0.2273 0.065 1.2565 427.99 289.14)" font-size="7" text-anchor="end" class="n3" dy="2.3">800</text>
<text transform="matrix(0.9577 -0.1947 0.0665 1.2858 427 270.05)" font-size="7" text-anchor="end" class="n3" dy="2.3">1000</text>
<text transform="matrix(0.9708 -0.1605 0.0681 1.3161 425.99 250.52)" font-size="7" text-anchor="end" class="n3" dy="2.3">1200</text>
<text transform="matrix(1.0047 -0.3896 0.8422 0.3275 429.72 364.66)" font-size="7" text-anchor="middle" class="n3" dy="2.3">2000</text>
<text transform="matrix(1.0031 -0.4163 0.8995 0.3498 447.23 371.47)" font-size="7" text-anchor="middle" class="n3" dy="2.3">3000</text>
<text transform="matrix(0.9989 -0.4459 0.9629 0.3744 465.95 378.75)" font-size="7" text-anchor="middle" class="n3" dy="2.3">4000</text>
<text transform="matrix(0.9914 -0.4787 1.0332 0.4018 486.01 386.55)" font-size="7" text-anchor="middle" class="n3" dy="2.3">5000</text>
<text transform="matrix(0.9801 -0.5153 1.1115 0.4322 507.56 394.93)" font-size="7" text-anchor="middle" class="n3" dy="2.3">6000</text>
<text transform="matrix(0.9815 0.352 -1.2855 0.7136 541.51 388.95)" font-size="7" text-anchor="start" class="n3" dy="2.3">0</text>
<text transform="matrix(0.9698 0.3306 -1.2067 0.6699 554.09 381.96)" font-size="7" text-anchor="start" class="n3" dy="2.3">1000mm</text>
<text transform="matrix(0.9577 0.3111 -1.1349 0.63 565.91 375.4)" font-size="7" text-anchor="start" class="n3" dy="2.3">2000mm</text>
<text transform="matrix(0.9453 0.2932 -1.0694 0.5936 577.04 369.22)" font-size="7" text-anchor="start" class="n3" dy="2.3">3000mm</text>
<text transform="matrix(0.9328 0.2769 -1.0094 0.5603 587.53 363.4)" font-size="7" text-anchor="start" class="n3" dy="2.3">4000mm</text>
<text transform="matrix(0.9202 0.2619 -0.9543 0.5297 597.44 357.89)" font-size="7" text-anchor="start" class="n3" dy="2.3">5000mm</text>
<text transform="matrix(1.1051 0.4554 -1.175 0.5316 454.25 386.92)" font-size="7" text-anchor="middle" class="n3" dy="2.3">Detonation distance(mm)</text>
<text transform="matrix(0.7993 -0.5072 1.3448 0.4275 602.39 382.42)" font-size="7" text-anchor="middle" class="n3" dy="2.3">Pit length(mm)</text>
<text transform="translate(405.4 310) rotate(90)" font-size="9.9" text-anchor="middle" class="n" dy="3.3">Overpressure peak ( Kpa )</text>
<text x="524.85" y="431.6" font-size="18" text-anchor="middle" class="n" stroke="#000" stroke-width="0.25">(e)</text>
</svg></body></html>
